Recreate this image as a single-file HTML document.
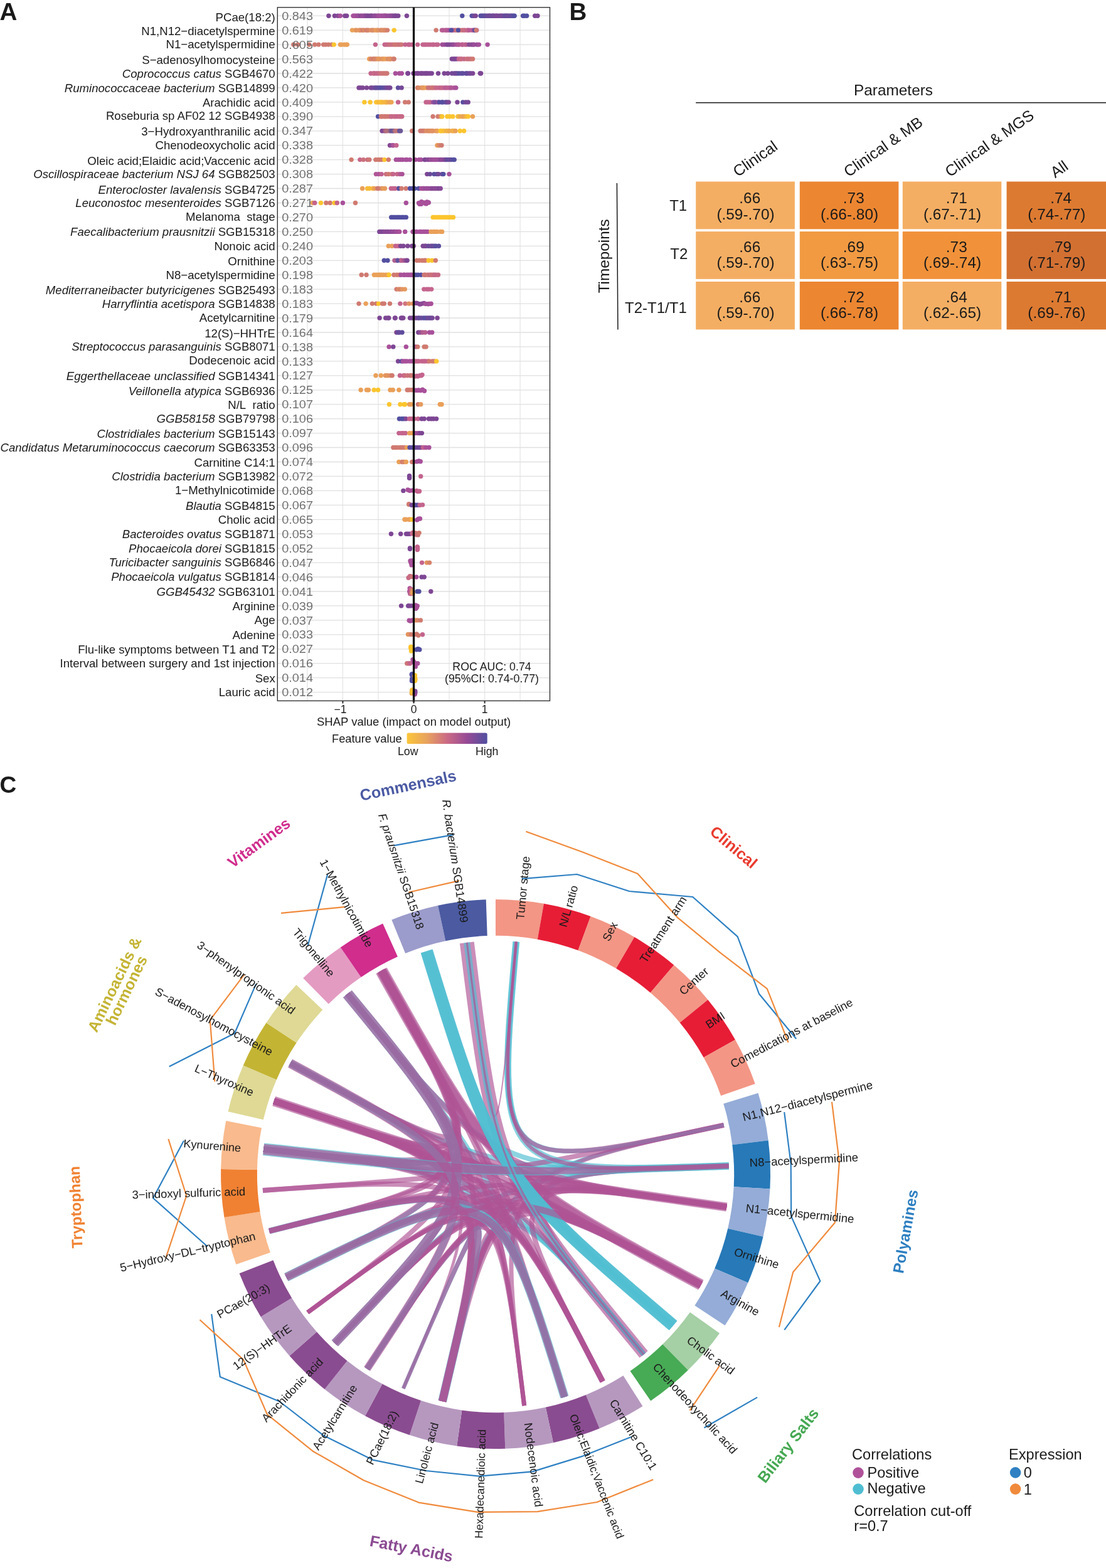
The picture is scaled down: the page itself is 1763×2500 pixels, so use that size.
<!DOCTYPE html>
<html lang="en"><head><meta charset="utf-8"><title>Figure</title>
<style>
html,body{margin:0;padding:0;background:#fff}
body{width:1763px;height:2500px;overflow:hidden}
svg{display:block;font-family:"Liberation Sans",Arial,Helvetica,sans-serif}
</style></head><body>
<svg width="1763" height="2500" viewBox="0 0 1763 2500">
<rect width="1763" height="2500" fill="#fff"/>
<g id="panelA">
<path d="M489.9 11.8V1117.4M546.4 11.8V1117.4M603 11.8V1117.4M716 11.8V1117.4M772.6 11.8V1117.4M829.1 11.8V1117.4" stroke="#e4e4e4" stroke-width="1.2" fill="none"/>
<path d="M442.3 25.2H876.5M442.3 48.1H876.5M442.3 71.1H876.5M442.3 94H876.5M442.3 117H876.5M442.3 139.9H876.5M442.3 162.9H876.5M442.3 185.8H876.5M442.3 208.8H876.5M442.3 231.7H876.5M442.3 254.6H876.5M442.3 277.6H876.5M442.3 300.5H876.5M442.3 323.5H876.5M442.3 346.4H876.5M442.3 369.4H876.5M442.3 392.3H876.5M442.3 415.3H876.5M442.3 438.2H876.5M442.3 461.1H876.5M442.3 484.1H876.5M442.3 507H876.5M442.3 530H876.5M442.3 552.9H876.5M442.3 575.9H876.5M442.3 598.8H876.5M442.3 621.8H876.5M442.3 644.7H876.5M442.3 667.7H876.5M442.3 690.6H876.5M442.3 713.5H876.5M442.3 736.5H876.5M442.3 759.4H876.5M442.3 782.4H876.5M442.3 805.3H876.5M442.3 828.3H876.5M442.3 851.2H876.5M442.3 874.2H876.5M442.3 897.1H876.5M442.3 920H876.5M442.3 943H876.5M442.3 965.9H876.5M442.3 988.9H876.5M442.3 1011.8H876.5M442.3 1034.8H876.5M442.3 1057.7H876.5M442.3 1080.7H876.5M442.3 1103.6H876.5" stroke="#e0e0e0" stroke-width="1.3" fill="none"/>
<circle cx="523.9" cy="25.2" r="3.7" fill="#7d4694"/>
<circle cx="533.4" cy="25.2" r="3.7" fill="#7d4694"/>
<circle cx="538.6" cy="25.2" r="3.7" fill="#874895"/>
<circle cx="542.4" cy="25.2" r="3.7" fill="#a54f9a"/>
<circle cx="549.8" cy="25.2" r="3.7" fill="#7d4694"/>
<circle cx="552.6" cy="25.2" r="3.7" fill="#7d4694"/>
<circle cx="613.7" cy="25.2" r="3.7" fill="#fbc52e"/>
<circle cx="563" cy="25.2" r="3.7" fill="#a8509a"/>
<circle cx="565.1" cy="25.2" r="3.7" fill="#a64f9a"/>
<circle cx="567.3" cy="25.2" r="3.7" fill="#a8509a"/>
<circle cx="570" cy="25.2" r="3.7" fill="#944b97"/>
<circle cx="571.7" cy="25.2" r="3.7" fill="#a04e99"/>
<circle cx="574.6" cy="25.2" r="3.7" fill="#894996"/>
<circle cx="576.7" cy="25.2" r="3.7" fill="#934b97"/>
<circle cx="579.4" cy="25.2" r="3.7" fill="#984c98"/>
<circle cx="581.4" cy="25.2" r="3.7" fill="#8e4a96"/>
<circle cx="582.5" cy="25.2" r="3.7" fill="#8f4a96"/>
<circle cx="584.9" cy="25.2" r="3.7" fill="#814795"/>
<circle cx="586.8" cy="25.2" r="3.7" fill="#7f4694"/>
<circle cx="589.7" cy="25.2" r="3.7" fill="#7e4694"/>
<circle cx="591.7" cy="25.2" r="3.7" fill="#804794"/>
<circle cx="593.1" cy="25.2" r="3.7" fill="#814795"/>
<circle cx="596.2" cy="25.2" r="3.7" fill="#8b4996"/>
<circle cx="597.8" cy="25.2" r="3.7" fill="#934b97"/>
<circle cx="600.1" cy="25.2" r="3.7" fill="#8f4a97"/>
<circle cx="602.8" cy="25.2" r="3.7" fill="#9d4e99"/>
<circle cx="604.1" cy="25.2" r="3.7" fill="#9e4e99"/>
<circle cx="606.7" cy="25.2" r="3.7" fill="#a6509a"/>
<circle cx="609.1" cy="25.2" r="3.7" fill="#9f4e99"/>
<circle cx="611.7" cy="25.2" r="3.7" fill="#9e4e99"/>
<circle cx="613" cy="25.2" r="3.7" fill="#9d4e99"/>
<circle cx="614.7" cy="25.2" r="3.7" fill="#a04e99"/>
<circle cx="616.7" cy="25.2" r="3.7" fill="#984c98"/>
<circle cx="619.9" cy="25.2" r="3.7" fill="#964c98"/>
<circle cx="622.2" cy="25.2" r="3.7" fill="#994d98"/>
<circle cx="624.1" cy="25.2" r="3.7" fill="#8e4a96"/>
<circle cx="626.1" cy="25.2" r="3.7" fill="#8e4a96"/>
<circle cx="628.6" cy="25.2" r="3.7" fill="#7d4694"/>
<circle cx="630.2" cy="25.2" r="3.7" fill="#814794"/>
<circle cx="631.7" cy="25.2" r="3.7" fill="#7d4694"/>
<circle cx="634.8" cy="25.2" r="3.7" fill="#7d4694"/>
<circle cx="648.4" cy="25.2" r="3.7" fill="#7d4694"/>
<circle cx="736.8" cy="25.2" r="3.7" fill="#524fa1"/>
<circle cx="752.2" cy="25.2" r="3.7" fill="#524fa1"/>
<circle cx="755.1" cy="25.2" r="3.7" fill="#6c4a99"/>
<circle cx="758.2" cy="25.2" r="3.7" fill="#7c4694"/>
<circle cx="766.1" cy="25.2" r="3.7" fill="#524fa1"/>
<circle cx="768" cy="25.2" r="3.7" fill="#5c4d9e"/>
<circle cx="770.1" cy="25.2" r="3.7" fill="#524fa1"/>
<circle cx="772.4" cy="25.2" r="3.7" fill="#654b9b"/>
<circle cx="774" cy="25.2" r="3.7" fill="#5d4d9e"/>
<circle cx="776.7" cy="25.2" r="3.7" fill="#6c4a99"/>
<circle cx="779.1" cy="25.2" r="3.7" fill="#6f4998"/>
<circle cx="780.3" cy="25.2" r="3.7" fill="#664b9b"/>
<circle cx="782.4" cy="25.2" r="3.7" fill="#754896"/>
<circle cx="785.3" cy="25.2" r="3.7" fill="#664b9b"/>
<circle cx="786.2" cy="25.2" r="3.7" fill="#6b4a99"/>
<circle cx="788.3" cy="25.2" r="3.7" fill="#754897"/>
<circle cx="790.8" cy="25.2" r="3.7" fill="#724897"/>
<circle cx="792" cy="25.2" r="3.7" fill="#794795"/>
<circle cx="794.5" cy="25.2" r="3.7" fill="#7a4795"/>
<circle cx="797.3" cy="25.2" r="3.7" fill="#734897"/>
<circle cx="798.7" cy="25.2" r="3.7" fill="#724897"/>
<circle cx="800.9" cy="25.2" r="3.7" fill="#7d4694"/>
<circle cx="803.3" cy="25.2" r="3.7" fill="#674b9b"/>
<circle cx="805.2" cy="25.2" r="3.7" fill="#644b9c"/>
<circle cx="806.6" cy="25.2" r="3.7" fill="#6b4a99"/>
<circle cx="808.2" cy="25.2" r="3.7" fill="#624c9c"/>
<circle cx="810.1" cy="25.2" r="3.7" fill="#6d4999"/>
<circle cx="812.3" cy="25.2" r="3.7" fill="#674b9b"/>
<circle cx="814.5" cy="25.2" r="3.7" fill="#674b9b"/>
<circle cx="816.1" cy="25.2" r="3.7" fill="#614c9c"/>
<circle cx="818.2" cy="25.2" r="3.7" fill="#594e9f"/>
<circle cx="820.1" cy="25.2" r="3.7" fill="#524fa1"/>
<circle cx="833.6" cy="25.2" r="3.7" fill="#524fa1"/>
<circle cx="835.9" cy="25.2" r="3.7" fill="#524fa1"/>
<circle cx="839.6" cy="25.2" r="3.7" fill="#524fa1"/>
<circle cx="852.7" cy="25.2" r="3.7" fill="#7d4694"/>
<circle cx="856.9" cy="25.2" r="3.7" fill="#7d4694"/>
<circle cx="561.5" cy="48.1" r="3.7" fill="#eaa058"/>
<circle cx="566.2" cy="48.1" r="3.7" fill="#eaa058"/>
<circle cx="568.3" cy="48.1" r="3.7" fill="#e19360"/>
<circle cx="572.2" cy="48.1" r="3.7" fill="#e3965e"/>
<circle cx="573.8" cy="48.1" r="3.7" fill="#e5995c"/>
<circle cx="575.6" cy="48.1" r="3.7" fill="#de8e63"/>
<circle cx="578.3" cy="48.1" r="3.7" fill="#d27d6e"/>
<circle cx="580.6" cy="48.1" r="3.7" fill="#db8a66"/>
<circle cx="584.4" cy="48.1" r="3.7" fill="#d07b70"/>
<circle cx="585.4" cy="48.1" r="3.7" fill="#d4806c"/>
<circle cx="587.7" cy="48.1" r="3.7" fill="#d88569"/>
<circle cx="591.8" cy="48.1" r="3.7" fill="#e19360"/>
<circle cx="593.7" cy="48.1" r="3.7" fill="#db8a66"/>
<circle cx="595.6" cy="48.1" r="3.7" fill="#dd8e64"/>
<circle cx="598.8" cy="48.1" r="3.7" fill="#e79b5b"/>
<circle cx="601.2" cy="48.1" r="3.7" fill="#e79c5a"/>
<circle cx="602.7" cy="48.1" r="3.7" fill="#e19360"/>
<circle cx="606.5" cy="48.1" r="3.7" fill="#dd8d64"/>
<circle cx="608.6" cy="48.1" r="3.7" fill="#da8867"/>
<circle cx="610.9" cy="48.1" r="3.7" fill="#df9162"/>
<circle cx="613" cy="48.1" r="3.7" fill="#da8867"/>
<circle cx="614.6" cy="48.1" r="3.7" fill="#db8a66"/>
<circle cx="617.5" cy="48.1" r="3.7" fill="#d47f6d"/>
<circle cx="628.2" cy="48.1" r="3.7" fill="#fbc52e"/>
<circle cx="695.1" cy="48.1" r="3.7" fill="#d07a70"/>
<circle cx="704.4" cy="48.1" r="3.7" fill="#bc5f91"/>
<circle cx="706.6" cy="48.1" r="3.7" fill="#b75b93"/>
<circle cx="710.2" cy="48.1" r="3.7" fill="#b25796"/>
<circle cx="711.7" cy="48.1" r="3.7" fill="#b95c92"/>
<circle cx="714.1" cy="48.1" r="3.7" fill="#b45895"/>
<circle cx="716.7" cy="48.1" r="3.7" fill="#a95199"/>
<circle cx="720.7" cy="48.1" r="3.7" fill="#b65f8b"/>
<circle cx="722.5" cy="48.1" r="3.7" fill="#b96288"/>
<circle cx="725.8" cy="48.1" r="3.7" fill="#b35c8e"/>
<circle cx="728.2" cy="48.1" r="3.7" fill="#ce7872"/>
<circle cx="731" cy="48.1" r="3.7" fill="#cf7972"/>
<circle cx="733.1" cy="48.1" r="3.7" fill="#cc7674"/>
<circle cx="736.3" cy="48.1" r="3.7" fill="#ce7675"/>
<circle cx="739" cy="48.1" r="3.7" fill="#c76986"/>
<circle cx="740.9" cy="48.1" r="3.7" fill="#c96d82"/>
<circle cx="744.6" cy="48.1" r="3.7" fill="#c4648d"/>
<circle cx="745.8" cy="48.1" r="3.7" fill="#c66888"/>
<circle cx="748.4" cy="48.1" r="3.7" fill="#b75a93"/>
<circle cx="752.2" cy="48.1" r="3.7" fill="#be6090"/>
<circle cx="754.9" cy="48.1" r="3.7" fill="#ab5299"/>
<circle cx="757.3" cy="48.1" r="3.7" fill="#b05696"/>
<circle cx="759.7" cy="48.1" r="3.7" fill="#ae5497"/>
<circle cx="719.3" cy="48.1" r="3.7" fill="#524fa1"/>
<circle cx="730.4" cy="48.1" r="3.7" fill="#524fa1"/>
<circle cx="756.8" cy="48.1" r="3.7" fill="#524fa1"/>
<circle cx="759.1" cy="48.1" r="3.7" fill="#d07a70"/>
<circle cx="467.8" cy="71.1" r="3.7" fill="#d07a70"/>
<circle cx="474.7" cy="71.1" r="3.7" fill="#d07a70"/>
<circle cx="492.8" cy="71.1" r="3.7" fill="#d07a70"/>
<circle cx="501.7" cy="71.1" r="3.7" fill="#d07a70"/>
<circle cx="507.9" cy="71.1" r="3.7" fill="#d07a70"/>
<circle cx="515.6" cy="71.1" r="3.7" fill="#d07a70"/>
<circle cx="519.2" cy="71.1" r="3.7" fill="#d07a70"/>
<circle cx="523.5" cy="71.1" r="3.7" fill="#d07a70"/>
<circle cx="528.9" cy="71.1" r="3.7" fill="#d07a70"/>
<circle cx="532.3" cy="71.1" r="3.7" fill="#fbc52e"/>
<circle cx="542.4" cy="71.1" r="3.7" fill="#eaa058"/>
<circle cx="544.4" cy="71.1" r="3.7" fill="#eaa058"/>
<circle cx="548.5" cy="71.1" r="3.7" fill="#eaa058"/>
<circle cx="551.5" cy="71.1" r="3.7" fill="#eaa058"/>
<circle cx="553.3" cy="71.1" r="3.7" fill="#eaa058"/>
<circle cx="598.4" cy="71.1" r="3.7" fill="#c4648d"/>
<circle cx="613.2" cy="71.1" r="3.7" fill="#c4648d"/>
<circle cx="616.1" cy="71.1" r="3.7" fill="#c66888"/>
<circle cx="619.1" cy="71.1" r="3.7" fill="#c66888"/>
<circle cx="621.8" cy="71.1" r="3.7" fill="#cb717c"/>
<circle cx="625.1" cy="71.1" r="3.7" fill="#c96d81"/>
<circle cx="628.5" cy="71.1" r="3.7" fill="#ce7676"/>
<circle cx="631.1" cy="71.1" r="3.7" fill="#cf7872"/>
<circle cx="634.2" cy="71.1" r="3.7" fill="#ce7676"/>
<circle cx="637.2" cy="71.1" r="3.7" fill="#cb717c"/>
<circle cx="640" cy="71.1" r="3.7" fill="#ce7676"/>
<circle cx="645.9" cy="71.1" r="3.7" fill="#c4648d"/>
<circle cx="651" cy="71.1" r="3.7" fill="#c4648d"/>
<circle cx="652.8" cy="71.1" r="3.7" fill="#c4648d"/>
<circle cx="656.7" cy="71.1" r="3.7" fill="#c4648d"/>
<circle cx="665.7" cy="71.1" r="3.7" fill="#c4648d"/>
<circle cx="674" cy="71.1" r="3.7" fill="#c4648d"/>
<circle cx="676.7" cy="71.1" r="3.7" fill="#c4648d"/>
<circle cx="679.3" cy="71.1" r="3.7" fill="#c4648d"/>
<circle cx="682.9" cy="71.1" r="3.7" fill="#c4648d"/>
<circle cx="686.1" cy="71.1" r="3.7" fill="#c4648d"/>
<circle cx="689.7" cy="71.1" r="3.7" fill="#c4648d"/>
<circle cx="691.4" cy="71.1" r="3.7" fill="#c4648d"/>
<circle cx="695.5" cy="71.1" r="3.7" fill="#c4648d"/>
<circle cx="697.9" cy="71.1" r="3.7" fill="#c4648d"/>
<circle cx="705" cy="71.1" r="3.7" fill="#a14e99"/>
<circle cx="708.4" cy="71.1" r="3.7" fill="#9b4d98"/>
<circle cx="712" cy="71.1" r="3.7" fill="#874895"/>
<circle cx="714.3" cy="71.1" r="3.7" fill="#834795"/>
<circle cx="717.4" cy="71.1" r="3.7" fill="#804794"/>
<circle cx="720.8" cy="71.1" r="3.7" fill="#894996"/>
<circle cx="723.5" cy="71.1" r="3.7" fill="#954c97"/>
<circle cx="727.3" cy="71.1" r="3.7" fill="#a6509a"/>
<circle cx="730.2" cy="71.1" r="3.7" fill="#b25795"/>
<circle cx="731.9" cy="71.1" r="3.7" fill="#b35895"/>
<circle cx="736.3" cy="71.1" r="3.7" fill="#bf618f"/>
<circle cx="737.6" cy="71.1" r="3.7" fill="#bb5d91"/>
<circle cx="741.3" cy="71.1" r="3.7" fill="#c1628e"/>
<circle cx="743.9" cy="71.1" r="3.7" fill="#b85f8e"/>
<circle cx="747.8" cy="71.1" r="3.7" fill="#874a93"/>
<circle cx="751.2" cy="71.1" r="3.7" fill="#8f4e92"/>
<circle cx="753.9" cy="71.1" r="3.7" fill="#8a4996"/>
<circle cx="755.7" cy="71.1" r="3.7" fill="#9b4d98"/>
<circle cx="760.4" cy="71.1" r="3.7" fill="#954c97"/>
<circle cx="763.4" cy="71.1" r="3.7" fill="#a54f9a"/>
<circle cx="777.1" cy="71.1" r="3.7" fill="#a8509a"/>
<circle cx="588.7" cy="94" r="3.7" fill="#eaa058"/>
<circle cx="591.4" cy="94" r="3.7" fill="#d88569"/>
<circle cx="595" cy="94" r="3.7" fill="#d07a70"/>
<circle cx="597.1" cy="94" r="3.7" fill="#d88668"/>
<circle cx="599.8" cy="94" r="3.7" fill="#d78569"/>
<circle cx="602.7" cy="94" r="3.7" fill="#e3965e"/>
<circle cx="604.9" cy="94" r="3.7" fill="#e5985d"/>
<circle cx="608.7" cy="94" r="3.7" fill="#e09261"/>
<circle cx="611.3" cy="94" r="3.7" fill="#e69a5c"/>
<circle cx="614.6" cy="94" r="3.7" fill="#e99f59"/>
<circle cx="618.4" cy="94" r="3.7" fill="#dc8b65"/>
<circle cx="621.3" cy="94" r="3.7" fill="#e2955f"/>
<circle cx="622.7" cy="94" r="3.7" fill="#df9062"/>
<circle cx="626.7" cy="94" r="3.7" fill="#d88569"/>
<circle cx="628.2" cy="94" r="3.7" fill="#d17c6f"/>
<circle cx="720.3" cy="94" r="3.7" fill="#7d4694"/>
<circle cx="723.3" cy="94" r="3.7" fill="#7d4694"/>
<circle cx="725.3" cy="94" r="3.7" fill="#7d4694"/>
<circle cx="728.3" cy="94" r="3.7" fill="#7d4694"/>
<circle cx="731.4" cy="94" r="3.7" fill="#c5658c"/>
<circle cx="734.1" cy="94" r="3.7" fill="#c4648d"/>
<circle cx="735.8" cy="94" r="3.7" fill="#c96d81"/>
<circle cx="739.8" cy="94" r="3.7" fill="#c66888"/>
<circle cx="744.1" cy="94" r="3.7" fill="#cc727a"/>
<circle cx="747" cy="94" r="3.7" fill="#ca6e80"/>
<circle cx="750.3" cy="94" r="3.7" fill="#cb717c"/>
<circle cx="753.5" cy="94" r="3.7" fill="#d07971"/>
<circle cx="591.1" cy="117" r="3.7" fill="#c4658c"/>
<circle cx="595.3" cy="117" r="3.7" fill="#c4648d"/>
<circle cx="596.6" cy="117" r="3.7" fill="#c76986"/>
<circle cx="599.7" cy="117" r="3.7" fill="#c5668a"/>
<circle cx="602.5" cy="117" r="3.7" fill="#c66888"/>
<circle cx="605.5" cy="117" r="3.7" fill="#c96e80"/>
<circle cx="608.7" cy="117" r="3.7" fill="#ce7675"/>
<circle cx="611.6" cy="117" r="3.7" fill="#cd7576"/>
<circle cx="614.3" cy="117" r="3.7" fill="#ce7676"/>
<circle cx="616.9" cy="117" r="3.7" fill="#ce7774"/>
<circle cx="630.4" cy="117" r="3.7" fill="#a8509a"/>
<circle cx="636.6" cy="117" r="3.7" fill="#a8509a"/>
<circle cx="640.3" cy="117" r="3.7" fill="#a8509a"/>
<circle cx="649.8" cy="117" r="3.7" fill="#7d4694"/>
<circle cx="650.4" cy="117" r="3.7" fill="#7d4694"/>
<circle cx="659" cy="117" r="3.7" fill="#7d4694"/>
<circle cx="662" cy="117" r="3.7" fill="#7d4694"/>
<circle cx="665.4" cy="117" r="3.7" fill="#7d4694"/>
<circle cx="666.5" cy="117" r="3.7" fill="#7d4694"/>
<circle cx="670.2" cy="117" r="3.7" fill="#7d4694"/>
<circle cx="672.1" cy="117" r="3.7" fill="#7d4694"/>
<circle cx="674.7" cy="117" r="3.7" fill="#7d4694"/>
<circle cx="677.8" cy="117" r="3.7" fill="#7d4694"/>
<circle cx="679.6" cy="117" r="3.7" fill="#7d4694"/>
<circle cx="682.3" cy="117" r="3.7" fill="#7d4694"/>
<circle cx="685.2" cy="117" r="3.7" fill="#7d4694"/>
<circle cx="688.2" cy="117" r="3.7" fill="#7d4694"/>
<circle cx="698.5" cy="117" r="3.7" fill="#7d4694"/>
<circle cx="708.2" cy="117" r="3.7" fill="#7d4694"/>
<circle cx="713.8" cy="117" r="3.7" fill="#7d4694"/>
<circle cx="720.4" cy="117" r="3.7" fill="#744897"/>
<circle cx="724.2" cy="117" r="3.7" fill="#724897"/>
<circle cx="726.6" cy="117" r="3.7" fill="#714898"/>
<circle cx="728.9" cy="117" r="3.7" fill="#6f4998"/>
<circle cx="731.9" cy="117" r="3.7" fill="#584e9f"/>
<circle cx="735.4" cy="117" r="3.7" fill="#5f4c9d"/>
<circle cx="738" cy="117" r="3.7" fill="#5f4c9d"/>
<circle cx="742.7" cy="117" r="3.7" fill="#624c9c"/>
<circle cx="744.5" cy="117" r="3.7" fill="#5f4c9d"/>
<circle cx="747.6" cy="117" r="3.7" fill="#6c4999"/>
<circle cx="750.3" cy="117" r="3.7" fill="#744897"/>
<circle cx="753.6" cy="117" r="3.7" fill="#7d4694"/>
<circle cx="765.2" cy="117" r="3.7" fill="#7d4694"/>
<circle cx="766.6" cy="117" r="3.7" fill="#7d4694"/>
<circle cx="572" cy="139.9" r="3.7" fill="#7d4694"/>
<circle cx="574.9" cy="139.9" r="3.7" fill="#7d4694"/>
<circle cx="578.2" cy="139.9" r="3.7" fill="#7d4694"/>
<circle cx="584.5" cy="139.9" r="3.7" fill="#7d4694"/>
<circle cx="591.1" cy="139.9" r="3.7" fill="#7d4694"/>
<circle cx="593.3" cy="139.9" r="3.7" fill="#784795"/>
<circle cx="597" cy="139.9" r="3.7" fill="#6d4999"/>
<circle cx="599.2" cy="139.9" r="3.7" fill="#654b9b"/>
<circle cx="601.6" cy="139.9" r="3.7" fill="#644b9c"/>
<circle cx="604.6" cy="139.9" r="3.7" fill="#594e9f"/>
<circle cx="607.3" cy="139.9" r="3.7" fill="#5a4d9e"/>
<circle cx="610.5" cy="139.9" r="3.7" fill="#574ea0"/>
<circle cx="613.9" cy="139.9" r="3.7" fill="#664b9b"/>
<circle cx="617" cy="139.9" r="3.7" fill="#714897"/>
<circle cx="619.7" cy="139.9" r="3.7" fill="#7d4694"/>
<circle cx="621.8" cy="139.9" r="3.7" fill="#794795"/>
<circle cx="634.6" cy="139.9" r="3.7" fill="#5f4c9d"/>
<circle cx="640.1" cy="139.9" r="3.7" fill="#744897"/>
<circle cx="665.6" cy="139.9" r="3.7" fill="#d27d6e"/>
<circle cx="667" cy="139.9" r="3.7" fill="#da8966"/>
<circle cx="671.4" cy="139.9" r="3.7" fill="#dc8c65"/>
<circle cx="673.9" cy="139.9" r="3.7" fill="#e4985d"/>
<circle cx="675.5" cy="139.9" r="3.7" fill="#e5995c"/>
<circle cx="679" cy="139.9" r="3.7" fill="#eaa058"/>
<circle cx="682.4" cy="139.9" r="3.7" fill="#ce7676"/>
<circle cx="684.9" cy="139.9" r="3.7" fill="#cc727b"/>
<circle cx="688.1" cy="139.9" r="3.7" fill="#cb727b"/>
<circle cx="690.1" cy="139.9" r="3.7" fill="#cf7773"/>
<circle cx="692.9" cy="139.9" r="3.7" fill="#cb707d"/>
<circle cx="695.8" cy="139.9" r="3.7" fill="#c66789"/>
<circle cx="699.7" cy="139.9" r="3.7" fill="#c56789"/>
<circle cx="702.8" cy="139.9" r="3.7" fill="#c3638e"/>
<circle cx="705.5" cy="139.9" r="3.7" fill="#c76986"/>
<circle cx="709.1" cy="139.9" r="3.7" fill="#ba5d92"/>
<circle cx="711.5" cy="139.9" r="3.7" fill="#ba5d92"/>
<circle cx="714.7" cy="139.9" r="3.7" fill="#be6090"/>
<circle cx="717.9" cy="139.9" r="3.7" fill="#b75b93"/>
<circle cx="719.5" cy="139.9" r="3.7" fill="#b35895"/>
<circle cx="723.8" cy="139.9" r="3.7" fill="#b15696"/>
<circle cx="726.8" cy="139.9" r="3.7" fill="#a8509a"/>
<circle cx="580.9" cy="162.9" r="3.7" fill="#fbc52e"/>
<circle cx="590.1" cy="162.9" r="3.7" fill="#fbc52e"/>
<circle cx="599.8" cy="162.9" r="3.7" fill="#fbc52e"/>
<circle cx="602.4" cy="162.9" r="3.7" fill="#f7bd37"/>
<circle cx="605.6" cy="162.9" r="3.7" fill="#f6ba3a"/>
<circle cx="607.9" cy="162.9" r="3.7" fill="#fac231"/>
<circle cx="609.7" cy="162.9" r="3.7" fill="#f6ba3a"/>
<circle cx="613.4" cy="162.9" r="3.7" fill="#f4b540"/>
<circle cx="615.7" cy="162.9" r="3.7" fill="#f5b73e"/>
<circle cx="617.4" cy="162.9" r="3.7" fill="#f0ad49"/>
<circle cx="621.1" cy="162.9" r="3.7" fill="#eaa058"/>
<circle cx="623.8" cy="162.9" r="3.7" fill="#eca553"/>
<circle cx="634.6" cy="162.9" r="3.7" fill="#c4648d"/>
<circle cx="645.7" cy="162.9" r="3.7" fill="#d07a70"/>
<circle cx="651.2" cy="162.9" r="3.7" fill="#d07a70"/>
<circle cx="679.1" cy="162.9" r="3.7" fill="#c4648d"/>
<circle cx="682.4" cy="162.9" r="3.7" fill="#c4648d"/>
<circle cx="685.9" cy="162.9" r="3.7" fill="#c4648d"/>
<circle cx="690.7" cy="162.9" r="3.7" fill="#94509c"/>
<circle cx="693.9" cy="162.9" r="3.7" fill="#7a4f9e"/>
<circle cx="698.3" cy="162.9" r="3.7" fill="#96509b"/>
<circle cx="700.3" cy="162.9" r="3.7" fill="#574fa1"/>
<circle cx="704.3" cy="162.9" r="3.7" fill="#554fa1"/>
<circle cx="705.8" cy="162.9" r="3.7" fill="#554ea0"/>
<circle cx="710.2" cy="162.9" r="3.7" fill="#604c9d"/>
<circle cx="712.4" cy="162.9" r="3.7" fill="#694a9a"/>
<circle cx="715.2" cy="162.9" r="3.7" fill="#7d4694"/>
<circle cx="729" cy="162.9" r="3.7" fill="#7d4694"/>
<circle cx="737.9" cy="162.9" r="3.7" fill="#5a4d9f"/>
<circle cx="742.3" cy="162.9" r="3.7" fill="#714897"/>
<circle cx="746.2" cy="162.9" r="3.7" fill="#764796"/>
<circle cx="602.6" cy="185.8" r="3.7" fill="#524fa1"/>
<circle cx="607.5" cy="185.8" r="3.7" fill="#d07a70"/>
<circle cx="608.5" cy="185.8" r="3.7" fill="#d07a70"/>
<circle cx="612.1" cy="185.8" r="3.7" fill="#cf7774"/>
<circle cx="614.4" cy="185.8" r="3.7" fill="#d07a70"/>
<circle cx="617.2" cy="185.8" r="3.7" fill="#ce7676"/>
<circle cx="620.8" cy="185.8" r="3.7" fill="#cf7872"/>
<circle cx="623.3" cy="185.8" r="3.7" fill="#c86b83"/>
<circle cx="624.8" cy="185.8" r="3.7" fill="#c66987"/>
<circle cx="628.5" cy="185.8" r="3.7" fill="#c66789"/>
<circle cx="630.4" cy="185.8" r="3.7" fill="#c96c82"/>
<circle cx="633.3" cy="185.8" r="3.7" fill="#c4648d"/>
<circle cx="636.3" cy="185.8" r="3.7" fill="#c76986"/>
<circle cx="638.7" cy="185.8" r="3.7" fill="#c76987"/>
<circle cx="640.7" cy="185.8" r="3.7" fill="#c76986"/>
<circle cx="690.1" cy="185.8" r="3.7" fill="#d07a70"/>
<circle cx="698.1" cy="185.8" r="3.7" fill="#d07a70"/>
<circle cx="702.5" cy="185.8" r="3.7" fill="#df9459"/>
<circle cx="704.7" cy="185.8" r="3.7" fill="#fbc52e"/>
<circle cx="713" cy="185.8" r="3.7" fill="#fbc52e"/>
<circle cx="716.9" cy="185.8" r="3.7" fill="#fbc52e"/>
<circle cx="721.8" cy="185.8" r="3.7" fill="#fbc52e"/>
<circle cx="729.9" cy="185.8" r="3.7" fill="#f8be36"/>
<circle cx="732.7" cy="185.8" r="3.7" fill="#f0ad49"/>
<circle cx="736.7" cy="185.8" r="3.7" fill="#eda651"/>
<circle cx="739.6" cy="185.8" r="3.7" fill="#eba355"/>
<circle cx="742.9" cy="185.8" r="3.7" fill="#f4b540"/>
<circle cx="746.3" cy="185.8" r="3.7" fill="#fbc52e"/>
<circle cx="753.5" cy="185.8" r="3.7" fill="#eaa058"/>
<circle cx="609.1" cy="208.8" r="3.7" fill="#7d4694"/>
<circle cx="613" cy="208.8" r="3.7" fill="#894d8f"/>
<circle cx="614.8" cy="208.8" r="3.7" fill="#b2677d"/>
<circle cx="617.1" cy="208.8" r="3.7" fill="#b2707b"/>
<circle cx="621" cy="208.8" r="3.7" fill="#a96d7f"/>
<circle cx="623.1" cy="208.8" r="3.7" fill="#785c92"/>
<circle cx="625.6" cy="208.8" r="3.7" fill="#61549b"/>
<circle cx="627.5" cy="208.8" r="3.7" fill="#7d5e90"/>
<circle cx="630.2" cy="208.8" r="3.7" fill="#bd7377"/>
<circle cx="633.4" cy="208.8" r="3.7" fill="#c37575"/>
<circle cx="636.8" cy="208.8" r="3.7" fill="#5a529e"/>
<circle cx="638.6" cy="208.8" r="3.7" fill="#6d5896"/>
<circle cx="656.8" cy="208.8" r="3.7" fill="#d07a70"/>
<circle cx="670.1" cy="208.8" r="3.7" fill="#d07a70"/>
<circle cx="673.3" cy="208.8" r="3.7" fill="#d07a70"/>
<circle cx="676" cy="208.8" r="3.7" fill="#d27d6e"/>
<circle cx="679.6" cy="208.8" r="3.7" fill="#df8f62"/>
<circle cx="682.9" cy="208.8" r="3.7" fill="#da8967"/>
<circle cx="685.2" cy="208.8" r="3.7" fill="#df9062"/>
<circle cx="688" cy="208.8" r="3.7" fill="#df9062"/>
<circle cx="690.3" cy="208.8" r="3.7" fill="#e19261"/>
<circle cx="695.1" cy="208.8" r="3.7" fill="#e19360"/>
<circle cx="697.1" cy="208.8" r="3.7" fill="#eaa058"/>
<circle cx="702.1" cy="208.8" r="3.7" fill="#fbc52e"/>
<circle cx="703.9" cy="208.8" r="3.7" fill="#fbc52e"/>
<circle cx="707.3" cy="208.8" r="3.7" fill="#f7bd37"/>
<circle cx="711.6" cy="208.8" r="3.7" fill="#f1af47"/>
<circle cx="714.6" cy="208.8" r="3.7" fill="#f7bd37"/>
<circle cx="715.9" cy="208.8" r="3.7" fill="#eea94e"/>
<circle cx="720.9" cy="208.8" r="3.7" fill="#efaa4d"/>
<circle cx="723.3" cy="208.8" r="3.7" fill="#f1b046"/>
<circle cx="726" cy="208.8" r="3.7" fill="#eaa058"/>
<circle cx="733.2" cy="208.8" r="3.7" fill="#fbc52e"/>
<circle cx="739.6" cy="208.8" r="3.7" fill="#fbc52e"/>
<circle cx="621.5" cy="231.7" r="3.7" fill="#864895"/>
<circle cx="625.6" cy="231.7" r="3.7" fill="#934b97"/>
<circle cx="627.1" cy="231.7" r="3.7" fill="#ac5398"/>
<circle cx="631.8" cy="231.7" r="3.7" fill="#c4648d"/>
<circle cx="697" cy="231.7" r="3.7" fill="#e79b5b"/>
<circle cx="700.3" cy="231.7" r="3.7" fill="#d98768"/>
<circle cx="703.9" cy="231.7" r="3.7" fill="#d07a70"/>
<circle cx="560.1" cy="254.6" r="3.7" fill="#d07a70"/>
<circle cx="573.8" cy="254.6" r="3.7" fill="#c66888"/>
<circle cx="579.3" cy="254.6" r="3.7" fill="#cb717c"/>
<circle cx="585.7" cy="254.6" r="3.7" fill="#cb707d"/>
<circle cx="588.8" cy="254.6" r="3.7" fill="#ce7774"/>
<circle cx="598.8" cy="254.6" r="3.7" fill="#d07a70"/>
<circle cx="602.6" cy="254.6" r="3.7" fill="#d07a70"/>
<circle cx="604.8" cy="254.6" r="3.7" fill="#d07a70"/>
<circle cx="608.4" cy="254.6" r="3.7" fill="#d07a70"/>
<circle cx="612.9" cy="254.6" r="3.7" fill="#fbc52e"/>
<circle cx="619.3" cy="254.6" r="3.7" fill="#d07a70"/>
<circle cx="631.3" cy="254.6" r="3.7" fill="#a8509a"/>
<circle cx="635.2" cy="254.6" r="3.7" fill="#a8509a"/>
<circle cx="638.5" cy="254.6" r="3.7" fill="#a8509a"/>
<circle cx="641.9" cy="254.6" r="3.7" fill="#a8509a"/>
<circle cx="646.7" cy="254.6" r="3.7" fill="#a8509a"/>
<circle cx="648.9" cy="254.6" r="3.7" fill="#a8509a"/>
<circle cx="653.5" cy="254.6" r="3.7" fill="#a8509a"/>
<circle cx="662.2" cy="254.6" r="3.7" fill="#a8509a"/>
<circle cx="667.9" cy="254.6" r="3.7" fill="#a8509a"/>
<circle cx="671.1" cy="254.6" r="3.7" fill="#a8509a"/>
<circle cx="676.9" cy="254.6" r="3.7" fill="#7d4694"/>
<circle cx="678.3" cy="254.6" r="3.7" fill="#7d4694"/>
<circle cx="682.2" cy="254.6" r="3.7" fill="#904a97"/>
<circle cx="683.6" cy="254.6" r="3.7" fill="#854895"/>
<circle cx="686.5" cy="254.6" r="3.7" fill="#9d4d98"/>
<circle cx="688.9" cy="254.6" r="3.7" fill="#994c98"/>
<circle cx="691.9" cy="254.6" r="3.7" fill="#9f4e99"/>
<circle cx="693.7" cy="254.6" r="3.7" fill="#a14e99"/>
<circle cx="696.4" cy="254.6" r="3.7" fill="#9f4e99"/>
<circle cx="699.6" cy="254.6" r="3.7" fill="#9e4e99"/>
<circle cx="702.4" cy="254.6" r="3.7" fill="#894996"/>
<circle cx="704.4" cy="254.6" r="3.7" fill="#904a97"/>
<circle cx="707.8" cy="254.6" r="3.7" fill="#864895"/>
<circle cx="710.1" cy="254.6" r="3.7" fill="#824795"/>
<circle cx="711.6" cy="254.6" r="3.7" fill="#6d4999"/>
<circle cx="714.3" cy="254.6" r="3.7" fill="#614c9c"/>
<circle cx="717.2" cy="254.6" r="3.7" fill="#6e4998"/>
<circle cx="719.3" cy="254.6" r="3.7" fill="#624c9c"/>
<circle cx="722.6" cy="254.6" r="3.7" fill="#524fa1"/>
<circle cx="724.2" cy="254.6" r="3.7" fill="#554ea0"/>
<circle cx="599.4" cy="277.6" r="3.7" fill="#b05696"/>
<circle cx="603.8" cy="277.6" r="3.7" fill="#ad5498"/>
<circle cx="608.1" cy="277.6" r="3.7" fill="#bf608f"/>
<circle cx="615.4" cy="277.6" r="3.7" fill="#cb707d"/>
<circle cx="619.4" cy="277.6" r="3.7" fill="#cf7872"/>
<circle cx="624.6" cy="277.6" r="3.7" fill="#cf7773"/>
<circle cx="626.8" cy="277.6" r="3.7" fill="#c5668b"/>
<circle cx="633.1" cy="277.6" r="3.7" fill="#c66888"/>
<circle cx="637.5" cy="277.6" r="3.7" fill="#b65a93"/>
<circle cx="641.1" cy="277.6" r="3.7" fill="#ab5299"/>
<circle cx="680.8" cy="277.6" r="3.7" fill="#7d4694"/>
<circle cx="685.5" cy="277.6" r="3.7" fill="#6b4a99"/>
<circle cx="692" cy="277.6" r="3.7" fill="#5c4d9e"/>
<circle cx="696.4" cy="277.6" r="3.7" fill="#604c9d"/>
<circle cx="699" cy="277.6" r="3.7" fill="#754897"/>
<circle cx="704.8" cy="277.6" r="3.7" fill="#694a9a"/>
<circle cx="706.8" cy="277.6" r="3.7" fill="#534fa1"/>
<circle cx="716" cy="277.6" r="3.7" fill="#a8509a"/>
<circle cx="577.6" cy="300.5" r="3.7" fill="#eaa058"/>
<circle cx="585.6" cy="300.5" r="3.7" fill="#f7bc39"/>
<circle cx="588.8" cy="300.5" r="3.7" fill="#f7bc39"/>
<circle cx="594.4" cy="300.5" r="3.7" fill="#f4b73e"/>
<circle cx="596.8" cy="300.5" r="3.7" fill="#eaa058"/>
<circle cx="601.8" cy="300.5" r="3.7" fill="#d07a70"/>
<circle cx="603.3" cy="300.5" r="3.7" fill="#d07a70"/>
<circle cx="608.4" cy="300.5" r="3.7" fill="#d98767"/>
<circle cx="611.1" cy="300.5" r="3.7" fill="#eaa058"/>
<circle cx="613.4" cy="300.5" r="3.7" fill="#e69b5b"/>
<circle cx="623.4" cy="300.5" r="3.7" fill="#c4648d"/>
<circle cx="626.6" cy="300.5" r="3.7" fill="#c4648d"/>
<circle cx="629.7" cy="300.5" r="3.7" fill="#c4648d"/>
<circle cx="635.2" cy="300.5" r="3.7" fill="#c4648d"/>
<circle cx="635.9" cy="300.5" r="3.7" fill="#524fa1"/>
<circle cx="640.1" cy="300.5" r="3.7" fill="#d07a70"/>
<circle cx="647.1" cy="300.5" r="3.7" fill="#d07a70"/>
<circle cx="653.5" cy="300.5" r="3.7" fill="#524fa1"/>
<circle cx="657.5" cy="300.5" r="3.7" fill="#524fa1"/>
<circle cx="660.9" cy="300.5" r="3.7" fill="#524fa1"/>
<circle cx="667.3" cy="300.5" r="3.7" fill="#524fa1"/>
<circle cx="671.4" cy="300.5" r="3.7" fill="#a54f9a"/>
<circle cx="673.9" cy="300.5" r="3.7" fill="#a8509a"/>
<circle cx="675.1" cy="300.5" r="3.7" fill="#a24f99"/>
<circle cx="678.8" cy="300.5" r="3.7" fill="#924b97"/>
<circle cx="680.3" cy="300.5" r="3.7" fill="#a14e99"/>
<circle cx="682.9" cy="300.5" r="3.7" fill="#984c98"/>
<circle cx="686.2" cy="300.5" r="3.7" fill="#9c4d98"/>
<circle cx="688.4" cy="300.5" r="3.7" fill="#8b4996"/>
<circle cx="690.9" cy="300.5" r="3.7" fill="#864895"/>
<circle cx="693" cy="300.5" r="3.7" fill="#8f4a96"/>
<circle cx="695" cy="300.5" r="3.7" fill="#8a4996"/>
<circle cx="698.2" cy="300.5" r="3.7" fill="#8e4a96"/>
<circle cx="699.7" cy="300.5" r="3.7" fill="#7d4694"/>
<circle cx="702.2" cy="300.5" r="3.7" fill="#884996"/>
<circle cx="498.4" cy="323.5" r="3.7" fill="#eaa058"/>
<circle cx="501.7" cy="323.5" r="3.7" fill="#c4648d"/>
<circle cx="511.4" cy="323.5" r="3.7" fill="#fbc52e"/>
<circle cx="519.8" cy="323.5" r="3.7" fill="#d07a70"/>
<circle cx="526.2" cy="323.5" r="3.7" fill="#d07a70"/>
<circle cx="533.1" cy="323.5" r="3.7" fill="#fbc52e"/>
<circle cx="537.3" cy="323.5" r="3.7" fill="#c4648d"/>
<circle cx="546.4" cy="323.5" r="3.7" fill="#a8509a"/>
<circle cx="566.5" cy="323.5" r="3.7" fill="#d07a70"/>
<circle cx="647.3" cy="323.5" r="3.7" fill="#a8509a"/>
<circle cx="667.5" cy="323.7" r="3.7" fill="#a8509a"/>
<circle cx="669.1" cy="325.4" r="3.7" fill="#a8509a"/>
<circle cx="671.1" cy="325.4" r="3.7" fill="#a8509a"/>
<circle cx="671.8" cy="321.8" r="3.7" fill="#a8509a"/>
<circle cx="673.1" cy="323.5" r="3.7" fill="#a8509a"/>
<circle cx="675.1" cy="323.3" r="3.7" fill="#a8509a"/>
<circle cx="676" cy="323.1" r="3.7" fill="#a8509a"/>
<circle cx="677.7" cy="324.2" r="3.7" fill="#a8509a"/>
<circle cx="679.3" cy="324.9" r="3.7" fill="#a8509a"/>
<circle cx="680.6" cy="322" r="3.7" fill="#a8509a"/>
<circle cx="682.1" cy="322.7" r="3.7" fill="#a8509a"/>
<circle cx="683.3" cy="323" r="3.7" fill="#a8509a"/>
<circle cx="623.7" cy="346.4" r="3.7" fill="#524fa1"/>
<circle cx="624.9" cy="346.4" r="3.7" fill="#524fa1"/>
<circle cx="626.7" cy="346.4" r="3.7" fill="#524fa1"/>
<circle cx="628.6" cy="346.4" r="3.7" fill="#524fa1"/>
<circle cx="630.3" cy="346.4" r="3.7" fill="#524fa1"/>
<circle cx="633" cy="346.4" r="3.7" fill="#524fa1"/>
<circle cx="634.4" cy="346.4" r="3.7" fill="#524fa1"/>
<circle cx="635.9" cy="346.4" r="3.7" fill="#524fa1"/>
<circle cx="637.8" cy="346.4" r="3.7" fill="#524fa1"/>
<circle cx="640.4" cy="346.4" r="3.7" fill="#524fa1"/>
<circle cx="641.6" cy="346.4" r="3.7" fill="#524fa1"/>
<circle cx="643.1" cy="346.4" r="3.7" fill="#524fa1"/>
<circle cx="645.6" cy="346.4" r="3.7" fill="#524fa1"/>
<circle cx="647.3" cy="346.4" r="3.7" fill="#524fa1"/>
<circle cx="690.2" cy="346.4" r="3.7" fill="#fbc52e"/>
<circle cx="691" cy="346.4" r="3.7" fill="#fbc52e"/>
<circle cx="693.4" cy="346.4" r="3.7" fill="#fbc52e"/>
<circle cx="695.7" cy="346.4" r="3.7" fill="#fbc52e"/>
<circle cx="697.7" cy="346.4" r="3.7" fill="#fbc52e"/>
<circle cx="699.7" cy="346.4" r="3.7" fill="#fbc52e"/>
<circle cx="700.4" cy="346.4" r="3.7" fill="#fbc52e"/>
<circle cx="702.7" cy="346.4" r="3.7" fill="#fbc52e"/>
<circle cx="704.4" cy="346.4" r="3.7" fill="#fbc52e"/>
<circle cx="706.4" cy="346.4" r="3.7" fill="#fbc52e"/>
<circle cx="709.3" cy="346.4" r="3.7" fill="#fbc52e"/>
<circle cx="710.7" cy="346.4" r="3.7" fill="#fbc52e"/>
<circle cx="713.1" cy="346.4" r="3.7" fill="#fbc52e"/>
<circle cx="714.3" cy="346.4" r="3.7" fill="#fbc52e"/>
<circle cx="716.9" cy="346.4" r="3.7" fill="#fbc52e"/>
<circle cx="718.2" cy="346.4" r="3.7" fill="#fbc52e"/>
<circle cx="719.9" cy="346.4" r="3.7" fill="#fbc52e"/>
<circle cx="722.5" cy="346.4" r="3.7" fill="#fbc52e"/>
<circle cx="604.8" cy="369.4" r="3.7" fill="#7d4694"/>
<circle cx="606.7" cy="369.4" r="3.7" fill="#834795"/>
<circle cx="608.6" cy="369.4" r="3.7" fill="#804794"/>
<circle cx="611" cy="369.4" r="3.7" fill="#7f4794"/>
<circle cx="613.8" cy="369.4" r="3.7" fill="#8d4a96"/>
<circle cx="617.1" cy="369.4" r="3.7" fill="#864895"/>
<circle cx="618.5" cy="369.4" r="3.7" fill="#8c4a96"/>
<circle cx="622.3" cy="369.4" r="3.7" fill="#8c4996"/>
<circle cx="624.2" cy="369.4" r="3.7" fill="#904a97"/>
<circle cx="627.6" cy="369.4" r="3.7" fill="#9c4d98"/>
<circle cx="628.9" cy="369.4" r="3.7" fill="#944b97"/>
<circle cx="632" cy="369.4" r="3.7" fill="#a34f99"/>
<circle cx="635" cy="369.4" r="3.7" fill="#9a4d98"/>
<circle cx="636.7" cy="369.4" r="3.7" fill="#a8509a"/>
<circle cx="645.7" cy="369.4" r="3.7" fill="#a8509a"/>
<circle cx="658" cy="369.4" r="3.7" fill="#a8509a"/>
<circle cx="661" cy="369.4" r="3.7" fill="#a8509a"/>
<circle cx="664.5" cy="369.4" r="3.7" fill="#a8509a"/>
<circle cx="669.4" cy="369.4" r="3.7" fill="#a8509a"/>
<circle cx="671.2" cy="369.4" r="3.7" fill="#a8509a"/>
<circle cx="675.2" cy="369.4" r="3.7" fill="#a8509a"/>
<circle cx="678.1" cy="369.4" r="3.7" fill="#a8509a"/>
<circle cx="681.6" cy="369.4" r="3.7" fill="#a8509a"/>
<circle cx="687" cy="369.4" r="3.7" fill="#eaa058"/>
<circle cx="691.2" cy="369.4" r="3.7" fill="#eaa058"/>
<circle cx="693.4" cy="369.4" r="3.7" fill="#eaa058"/>
<circle cx="696.8" cy="369.4" r="3.7" fill="#eaa058"/>
<circle cx="702.2" cy="369.4" r="3.7" fill="#eaa058"/>
<circle cx="704.6" cy="369.4" r="3.7" fill="#eaa058"/>
<circle cx="619.3" cy="392.3" r="3.7" fill="#eaa058"/>
<circle cx="624.8" cy="392.3" r="3.7" fill="#eaa058"/>
<circle cx="630.4" cy="392.3" r="3.7" fill="#c4648d"/>
<circle cx="634.6" cy="392.3" r="3.7" fill="#c4648d"/>
<circle cx="638.7" cy="392.3" r="3.7" fill="#7d4694"/>
<circle cx="642.9" cy="392.3" r="3.7" fill="#7d4694"/>
<circle cx="649.8" cy="392.3" r="3.7" fill="#7d4694"/>
<circle cx="656.6" cy="392.3" r="3.7" fill="#7d4694"/>
<circle cx="659.3" cy="392.3" r="3.7" fill="#7d4694"/>
<circle cx="674.2" cy="392.3" r="3.7" fill="#7d4694"/>
<circle cx="677.4" cy="392.3" r="3.7" fill="#794795"/>
<circle cx="679" cy="392.3" r="3.7" fill="#7d4694"/>
<circle cx="683" cy="392.3" r="3.7" fill="#694a9a"/>
<circle cx="686.9" cy="392.3" r="3.7" fill="#724897"/>
<circle cx="689.4" cy="392.3" r="3.7" fill="#654b9b"/>
<circle cx="692.2" cy="392.3" r="3.7" fill="#664b9b"/>
<circle cx="694.9" cy="392.3" r="3.7" fill="#574ea0"/>
<circle cx="699.4" cy="392.3" r="3.7" fill="#5c4d9e"/>
<circle cx="612.3" cy="415.3" r="3.7" fill="#524fa1"/>
<circle cx="617.9" cy="415.3" r="3.7" fill="#524fa1"/>
<circle cx="629" cy="415.3" r="3.7" fill="#af6091"/>
<circle cx="632.9" cy="415.3" r="3.7" fill="#a85f92"/>
<circle cx="634.2" cy="415.3" r="3.7" fill="#60529f"/>
<circle cx="638.9" cy="415.3" r="3.7" fill="#71559b"/>
<circle cx="640" cy="415.3" r="3.7" fill="#c1638e"/>
<circle cx="643.6" cy="415.3" r="3.7" fill="#a95890"/>
<circle cx="647.1" cy="415.3" r="3.7" fill="#8e4d92"/>
<circle cx="649.1" cy="415.3" r="3.7" fill="#7d4694"/>
<circle cx="664.4" cy="415.3" r="3.7" fill="#d07a70"/>
<circle cx="668.4" cy="415.3" r="3.7" fill="#d07a70"/>
<circle cx="672.9" cy="415.3" r="3.7" fill="#d07a70"/>
<circle cx="676.3" cy="415.3" r="3.7" fill="#d07a70"/>
<circle cx="678.3" cy="415.3" r="3.7" fill="#d07a70"/>
<circle cx="683.2" cy="415.3" r="3.7" fill="#fbc52e"/>
<circle cx="688.7" cy="415.3" r="3.7" fill="#fbc52e"/>
<circle cx="694.3" cy="415.3" r="3.7" fill="#d07a70"/>
<circle cx="576.2" cy="438.2" r="3.7" fill="#d07a70"/>
<circle cx="584" cy="438.2" r="3.7" fill="#d07a70"/>
<circle cx="596.4" cy="438.2" r="3.7" fill="#eaa058"/>
<circle cx="599.8" cy="438.2" r="3.7" fill="#eaa058"/>
<circle cx="603" cy="438.2" r="3.7" fill="#eaa058"/>
<circle cx="605.7" cy="438.2" r="3.7" fill="#eaa058"/>
<circle cx="608.2" cy="438.2" r="3.7" fill="#eaa058"/>
<circle cx="611.4" cy="438.2" r="3.7" fill="#eaa058"/>
<circle cx="615.4" cy="438.2" r="3.7" fill="#eaa058"/>
<circle cx="618.7" cy="438.2" r="3.7" fill="#eaa058"/>
<circle cx="620.1" cy="438.2" r="3.7" fill="#fbc52e"/>
<circle cx="627.9" cy="438.2" r="3.7" fill="#d07a70"/>
<circle cx="632.6" cy="438.2" r="3.7" fill="#d07a70"/>
<circle cx="636.6" cy="438.2" r="3.7" fill="#d07a70"/>
<circle cx="639.2" cy="438.2" r="3.7" fill="#a8509a"/>
<circle cx="643.5" cy="438.2" r="3.7" fill="#a8509a"/>
<circle cx="644.9" cy="438.2" r="3.7" fill="#a8509a"/>
<circle cx="648.6" cy="438.2" r="3.7" fill="#a8509a"/>
<circle cx="651.3" cy="438.2" r="3.7" fill="#a8509a"/>
<circle cx="654.3" cy="438.2" r="3.7" fill="#a8509a"/>
<circle cx="656.4" cy="438.2" r="3.7" fill="#a8509a"/>
<circle cx="659.4" cy="438.2" r="3.7" fill="#a8509a"/>
<circle cx="662.6" cy="438.2" r="3.7" fill="#524fa1"/>
<circle cx="666.3" cy="438.2" r="3.7" fill="#524fa1"/>
<circle cx="671.1" cy="438.2" r="3.7" fill="#524fa1"/>
<circle cx="676.1" cy="438.2" r="3.7" fill="#d07a70"/>
<circle cx="678.1" cy="438.2" r="3.7" fill="#ce7676"/>
<circle cx="681.8" cy="438.2" r="3.7" fill="#cf7873"/>
<circle cx="685.1" cy="438.2" r="3.7" fill="#c96e80"/>
<circle cx="687.3" cy="438.2" r="3.7" fill="#cc7379"/>
<circle cx="690.1" cy="438.2" r="3.7" fill="#cb717b"/>
<circle cx="692.2" cy="438.2" r="3.7" fill="#c76a85"/>
<circle cx="694.9" cy="438.2" r="3.7" fill="#c66888"/>
<circle cx="698.5" cy="438.2" r="3.7" fill="#c76a85"/>
<circle cx="632.1" cy="461.1" r="3.7" fill="#d07a70"/>
<circle cx="635.4" cy="461.1" r="3.7" fill="#db8a66"/>
<circle cx="638.1" cy="461.1" r="3.7" fill="#d6836a"/>
<circle cx="641.2" cy="461.1" r="3.7" fill="#e29460"/>
<circle cx="645.3" cy="461.1" r="3.7" fill="#e4985d"/>
<circle cx="675.8" cy="461.1" r="3.7" fill="#c4648d"/>
<circle cx="680.2" cy="461.1" r="3.7" fill="#c4648d"/>
<circle cx="683.5" cy="461.1" r="3.7" fill="#c4648d"/>
<circle cx="687.7" cy="461.1" r="3.7" fill="#c4648d"/>
<circle cx="572" cy="484.1" r="3.7" fill="#d07a70"/>
<circle cx="583.1" cy="484.1" r="3.7" fill="#eaa058"/>
<circle cx="593.4" cy="484.1" r="3.7" fill="#d07a70"/>
<circle cx="599.8" cy="484.1" r="3.7" fill="#d07a70"/>
<circle cx="603.4" cy="484.1" r="3.7" fill="#fbc52e"/>
<circle cx="609.5" cy="484.1" r="3.7" fill="#d07a70"/>
<circle cx="612.3" cy="484.1" r="3.7" fill="#d07a70"/>
<circle cx="621.5" cy="484.1" r="3.7" fill="#d07a70"/>
<circle cx="637.9" cy="484.1" r="3.7" fill="#c4648d"/>
<circle cx="646" cy="484.1" r="3.7" fill="#cf757e"/>
<circle cx="651.9" cy="484.1" r="3.7" fill="#e19264"/>
<circle cx="658.2" cy="484.1" r="3.7" fill="#e29463"/>
<circle cx="662.9" cy="483.2" r="3.7" fill="#884996"/>
<circle cx="664.8" cy="483.4" r="3.7" fill="#884996"/>
<circle cx="668.7" cy="484.7" r="3.7" fill="#814795"/>
<circle cx="670" cy="484.9" r="3.7" fill="#8b4996"/>
<circle cx="672.9" cy="484.1" r="3.7" fill="#8a4996"/>
<circle cx="675.9" cy="483.5" r="3.7" fill="#894996"/>
<circle cx="678.4" cy="484.5" r="3.7" fill="#a54f9a"/>
<circle cx="682.6" cy="484.7" r="3.7" fill="#964c97"/>
<circle cx="683.8" cy="484.4" r="3.7" fill="#a44f99"/>
<circle cx="687.1" cy="484.2" r="3.7" fill="#a8509a"/>
<circle cx="605.1" cy="507" r="3.7" fill="#7d4694"/>
<circle cx="614.7" cy="507" r="3.7" fill="#7d4694"/>
<circle cx="618.4" cy="507" r="3.7" fill="#7d4694"/>
<circle cx="619.8" cy="507" r="3.7" fill="#7d4694"/>
<circle cx="629.5" cy="507" r="3.7" fill="#7d4694"/>
<circle cx="630.1" cy="507" r="3.7" fill="#7d4694"/>
<circle cx="639.4" cy="507" r="3.7" fill="#7d4694"/>
<circle cx="641" cy="507" r="3.7" fill="#7d4694"/>
<circle cx="642.7" cy="507" r="3.7" fill="#7d4694"/>
<circle cx="653.5" cy="507" r="3.7" fill="#7d4694"/>
<circle cx="656.8" cy="507" r="3.7" fill="#7d4694"/>
<circle cx="663" cy="507" r="3.7" fill="#7d4694"/>
<circle cx="666.5" cy="507" r="3.7" fill="#714897"/>
<circle cx="668.2" cy="507" r="3.7" fill="#634b9c"/>
<circle cx="671.5" cy="507" r="3.7" fill="#694a9a"/>
<circle cx="675.2" cy="507" r="3.7" fill="#624c9c"/>
<circle cx="678.5" cy="507" r="3.7" fill="#544fa1"/>
<circle cx="681.2" cy="507" r="3.7" fill="#6d4999"/>
<circle cx="684.1" cy="507" r="3.7" fill="#6e4999"/>
<circle cx="686.6" cy="507" r="3.7" fill="#674b9b"/>
<circle cx="689.1" cy="507" r="3.7" fill="#744897"/>
<circle cx="697.1" cy="507" r="3.7" fill="#7d4694"/>
<circle cx="632" cy="530" r="3.7" fill="#7d4694"/>
<circle cx="634.8" cy="530" r="3.7" fill="#644b9b"/>
<circle cx="636.9" cy="530" r="3.7" fill="#674b9b"/>
<circle cx="641" cy="530" r="3.7" fill="#5e4c9d"/>
<circle cx="666.8" cy="530" r="3.7" fill="#7d4694"/>
<circle cx="670.3" cy="530" r="3.7" fill="#8f4d92"/>
<circle cx="673.8" cy="530" r="3.7" fill="#b05c8f"/>
<circle cx="677.8" cy="530" r="3.7" fill="#b75f8e"/>
<circle cx="684.6" cy="530" r="3.7" fill="#a8509a"/>
<circle cx="688.7" cy="530" r="3.7" fill="#a8509a"/>
<circle cx="620.1" cy="552.9" r="3.7" fill="#a8509a"/>
<circle cx="626.8" cy="552.9" r="3.7" fill="#7d4694"/>
<circle cx="647.3" cy="552.9" r="3.7" fill="#a8509a"/>
<circle cx="662.3" cy="552.9" r="3.7" fill="#ab5397"/>
<circle cx="665.7" cy="552.9" r="3.7" fill="#cf7971"/>
<circle cx="676.2" cy="552.9" r="3.7" fill="#d07a70"/>
<circle cx="679" cy="552.9" r="3.7" fill="#d07a70"/>
<circle cx="634.6" cy="575.9" r="3.7" fill="#7d4694"/>
<circle cx="640.1" cy="575.9" r="3.7" fill="#524fa1"/>
<circle cx="642.3" cy="575.9" r="3.7" fill="#a8509a"/>
<circle cx="645.4" cy="575.9" r="3.7" fill="#a8509a"/>
<circle cx="648.6" cy="575.9" r="3.7" fill="#a8509a"/>
<circle cx="653.2" cy="575.9" r="3.7" fill="#a8509a"/>
<circle cx="657.1" cy="575.9" r="3.7" fill="#a8509a"/>
<circle cx="660.2" cy="575.9" r="3.7" fill="#a8509a"/>
<circle cx="662.1" cy="575.9" r="3.7" fill="#c4648d"/>
<circle cx="665.1" cy="575.9" r="3.7" fill="#c4648d"/>
<circle cx="667.7" cy="575.9" r="3.7" fill="#c4648d"/>
<circle cx="672.4" cy="575.9" r="3.7" fill="#c4648d"/>
<circle cx="675.5" cy="575.9" r="3.7" fill="#c4648d"/>
<circle cx="678.2" cy="575.9" r="3.7" fill="#c4648d"/>
<circle cx="682.1" cy="575.9" r="3.7" fill="#c4648d"/>
<circle cx="684.4" cy="575.9" r="3.7" fill="#d07a70"/>
<circle cx="689.1" cy="575.9" r="3.7" fill="#d07a70"/>
<circle cx="692.1" cy="575.9" r="3.7" fill="#d07a70"/>
<circle cx="695.7" cy="575.9" r="3.7" fill="#fbc52e"/>
<circle cx="599" cy="598.8" r="3.7" fill="#eaa058"/>
<circle cx="607.3" cy="598.8" r="3.7" fill="#eaa058"/>
<circle cx="614.4" cy="598.8" r="3.7" fill="#e4975e"/>
<circle cx="617.6" cy="598.8" r="3.7" fill="#e19360"/>
<circle cx="622.3" cy="598.8" r="3.7" fill="#dd8d64"/>
<circle cx="625.1" cy="598.8" r="3.7" fill="#d07a70"/>
<circle cx="637.5" cy="598.8" r="3.7" fill="#c4658c"/>
<circle cx="643.4" cy="598.8" r="3.7" fill="#c4648d"/>
<circle cx="645.2" cy="598.8" r="3.7" fill="#ca6e80"/>
<circle cx="649.6" cy="598.8" r="3.7" fill="#cc7379"/>
<circle cx="654" cy="598.8" r="3.7" fill="#cb717b"/>
<circle cx="656.3" cy="598.8" r="3.7" fill="#cf7773"/>
<circle cx="661.6" cy="600" r="3.7" fill="#c4648d"/>
<circle cx="665" cy="599.5" r="3.7" fill="#c4648d"/>
<circle cx="666" cy="599.9" r="3.7" fill="#c4648d"/>
<circle cx="669.4" cy="598.7" r="3.7" fill="#c4648d"/>
<circle cx="671.6" cy="598.7" r="3.7" fill="#c4648d"/>
<circle cx="673" cy="597.6" r="3.7" fill="#c4648d"/>
<circle cx="575.1" cy="621.8" r="3.7" fill="#eaa058"/>
<circle cx="584.5" cy="621.8" r="3.7" fill="#eaa058"/>
<circle cx="587.3" cy="621.8" r="3.7" fill="#eaa058"/>
<circle cx="596.2" cy="621.8" r="3.7" fill="#fbc52e"/>
<circle cx="602.6" cy="621.8" r="3.7" fill="#fbc52e"/>
<circle cx="622" cy="621.8" r="3.7" fill="#eaa058"/>
<circle cx="626.2" cy="621.8" r="3.7" fill="#eaa058"/>
<circle cx="635.9" cy="621.8" r="3.7" fill="#eaa058"/>
<circle cx="649.2" cy="621.8" r="3.7" fill="#d07a70"/>
<circle cx="652.2" cy="621.8" r="3.7" fill="#d07a70"/>
<circle cx="656.4" cy="621.8" r="3.7" fill="#d07a70"/>
<circle cx="662.8" cy="622.3" r="3.7" fill="#a8509a"/>
<circle cx="665.8" cy="622.4" r="3.7" fill="#a8509a"/>
<circle cx="667.4" cy="621.9" r="3.7" fill="#a8509a"/>
<circle cx="670.6" cy="622.6" r="3.7" fill="#a8509a"/>
<circle cx="673.5" cy="621.1" r="3.7" fill="#a8509a"/>
<circle cx="676.5" cy="623.2" r="3.7" fill="#a8509a"/>
<circle cx="620.4" cy="644.7" r="3.7" fill="#fbc52e"/>
<circle cx="637.9" cy="644.7" r="3.7" fill="#fbc52e"/>
<circle cx="644" cy="644.7" r="3.7" fill="#fbc52e"/>
<circle cx="645.6" cy="644.7" r="3.7" fill="#fbc52e"/>
<circle cx="652.6" cy="644.7" r="3.7" fill="#eaa058"/>
<circle cx="655.4" cy="644.7" r="3.7" fill="#eaa058"/>
<circle cx="666.5" cy="644.7" r="3.7" fill="#d07a70"/>
<circle cx="670.7" cy="644.7" r="3.7" fill="#e69a5c"/>
<circle cx="701.3" cy="644.7" r="3.7" fill="#eaa058"/>
<circle cx="704" cy="644.7" r="3.7" fill="#eaa058"/>
<circle cx="636.5" cy="667.7" r="3.7" fill="#524fa1"/>
<circle cx="640.5" cy="667.7" r="3.7" fill="#524fa1"/>
<circle cx="643.5" cy="667.7" r="3.7" fill="#524fa1"/>
<circle cx="647.1" cy="667.7" r="3.7" fill="#7d4694"/>
<circle cx="652.6" cy="667.7" r="3.7" fill="#c4648d"/>
<circle cx="656.3" cy="667.7" r="3.7" fill="#c4648d"/>
<circle cx="660.2" cy="667.7" r="3.7" fill="#c4648d"/>
<circle cx="666.3" cy="667.7" r="3.7" fill="#c4648d"/>
<circle cx="672.1" cy="667.7" r="3.7" fill="#7d4694"/>
<circle cx="676.2" cy="667.7" r="3.7" fill="#7d4694"/>
<circle cx="683.5" cy="667.7" r="3.7" fill="#7d4694"/>
<circle cx="687.4" cy="667.7" r="3.7" fill="#7d4694"/>
<circle cx="691" cy="667.7" r="3.7" fill="#7d4694"/>
<circle cx="695.6" cy="667.7" r="3.7" fill="#7d4694"/>
<circle cx="635.9" cy="690.6" r="3.7" fill="#c4648d"/>
<circle cx="640" cy="690.6" r="3.7" fill="#c4648d"/>
<circle cx="642.9" cy="690.6" r="3.7" fill="#c4648d"/>
<circle cx="646.5" cy="690.6" r="3.7" fill="#c4648d"/>
<circle cx="652.6" cy="690.6" r="3.7" fill="#eaa058"/>
<circle cx="656.8" cy="690.6" r="3.7" fill="#eaa058"/>
<circle cx="662.2" cy="690.6" r="3.7" fill="#a24f99"/>
<circle cx="666.2" cy="690.6" r="3.7" fill="#9f4e99"/>
<circle cx="669" cy="690.6" r="3.7" fill="#884996"/>
<circle cx="672.4" cy="690.6" r="3.7" fill="#7d4694"/>
<circle cx="626.9" cy="713.5" r="3.7" fill="#d07a70"/>
<circle cx="629.6" cy="713.5" r="3.7" fill="#d07a70"/>
<circle cx="632.8" cy="713.5" r="3.7" fill="#d07a70"/>
<circle cx="637.5" cy="713.5" r="3.7" fill="#d07a70"/>
<circle cx="639.3" cy="713.5" r="3.7" fill="#d07a70"/>
<circle cx="641.9" cy="713.5" r="3.7" fill="#d07a70"/>
<circle cx="644.7" cy="713.5" r="3.7" fill="#d07a70"/>
<circle cx="648.4" cy="713.5" r="3.7" fill="#eaa058"/>
<circle cx="653.1" cy="713.5" r="3.7" fill="#574e9f"/>
<circle cx="657" cy="713.5" r="3.7" fill="#5e4c9d"/>
<circle cx="660" cy="713.5" r="3.7" fill="#554ea0"/>
<circle cx="662.5" cy="713.5" r="3.7" fill="#644b9c"/>
<circle cx="665.7" cy="713.5" r="3.7" fill="#774796"/>
<circle cx="668.7" cy="713.5" r="3.7" fill="#6b4a9a"/>
<circle cx="671.4" cy="713.5" r="3.7" fill="#7d4694"/>
<circle cx="674.5" cy="713.5" r="3.7" fill="#c4648d"/>
<circle cx="676" cy="713.5" r="3.7" fill="#c1628e"/>
<circle cx="678.9" cy="713.5" r="3.7" fill="#ab5298"/>
<circle cx="683.9" cy="713.5" r="3.7" fill="#a8509a"/>
<circle cx="635.9" cy="736.5" r="3.7" fill="#eaa058"/>
<circle cx="641.1" cy="736.5" r="3.7" fill="#d27d6e"/>
<circle cx="643.7" cy="736.5" r="3.7" fill="#d7846a"/>
<circle cx="647.3" cy="736.5" r="3.7" fill="#eaa058"/>
<circle cx="656.8" cy="736.5" r="3.7" fill="#d07a70"/>
<circle cx="659.6" cy="736.5" r="3.7" fill="#d07a70"/>
<circle cx="664.6" cy="735.9" r="3.7" fill="#a8509a"/>
<circle cx="667.8" cy="735" r="3.7" fill="#a8509a"/>
<circle cx="670.2" cy="735.8" r="3.7" fill="#a8509a"/>
<circle cx="652.6" cy="758.6" r="3.7" fill="#7d4694"/>
<circle cx="652.6" cy="762.2" r="3.7" fill="#7d4694"/>
<circle cx="652.6" cy="761.5" r="3.7" fill="#7d4694"/>
<circle cx="670.7" cy="759.4" r="3.7" fill="#c4648d"/>
<circle cx="642.9" cy="782.4" r="3.7" fill="#7d4694"/>
<circle cx="650.1" cy="781" r="3.7" fill="#a8509a"/>
<circle cx="653.1" cy="782.2" r="3.7" fill="#a8509a"/>
<circle cx="657.5" cy="781.9" r="3.7" fill="#a8509a"/>
<circle cx="664.1" cy="782.5" r="3.7" fill="#c4648d"/>
<circle cx="666" cy="783.5" r="3.7" fill="#c4648d"/>
<circle cx="668.5" cy="783.3" r="3.7" fill="#c4648d"/>
<circle cx="651.8" cy="804.3" r="3.7" fill="#d07a70"/>
<circle cx="651.8" cy="803.8" r="3.7" fill="#d07a70"/>
<circle cx="656.2" cy="805.3" r="3.7" fill="#764796"/>
<circle cx="660.5" cy="805.3" r="3.7" fill="#7b4694"/>
<circle cx="662.3" cy="805.3" r="3.7" fill="#614c9d"/>
<circle cx="665.7" cy="805.3" r="3.7" fill="#5a4d9f"/>
<circle cx="669.3" cy="805.3" r="3.7" fill="#c4648d"/>
<circle cx="673.5" cy="804.9" r="3.7" fill="#c4648d"/>
<circle cx="645" cy="828.3" r="3.7" fill="#eaa058"/>
<circle cx="647" cy="828.3" r="3.7" fill="#eaa058"/>
<circle cx="651.8" cy="828.3" r="3.7" fill="#eaa058"/>
<circle cx="653.5" cy="828.3" r="3.7" fill="#eaa058"/>
<circle cx="656.8" cy="828.3" r="3.7" fill="#fbc52e"/>
<circle cx="664.7" cy="828.9" r="3.7" fill="#a8509a"/>
<circle cx="667.2" cy="827.1" r="3.7" fill="#a8509a"/>
<circle cx="669.5" cy="827" r="3.7" fill="#a8509a"/>
<circle cx="623.4" cy="851.2" r="3.7" fill="#7d4694"/>
<circle cx="638.7" cy="851.2" r="3.7" fill="#7d4694"/>
<circle cx="647.6" cy="851.2" r="3.7" fill="#7d4694"/>
<circle cx="650.2" cy="851.2" r="3.7" fill="#7d4694"/>
<circle cx="653.2" cy="851.2" r="3.7" fill="#7d4694"/>
<circle cx="656.9" cy="850.7" r="3.7" fill="#c4648d"/>
<circle cx="658.1" cy="849.1" r="3.7" fill="#c86c83"/>
<circle cx="659.9" cy="849.7" r="3.7" fill="#c4648d"/>
<circle cx="660.7" cy="851.2" r="3.7" fill="#cb727b"/>
<circle cx="662.2" cy="849.9" r="3.7" fill="#cd7478"/>
<circle cx="663.7" cy="852.5" r="3.7" fill="#cc727a"/>
<circle cx="665.4" cy="850.5" r="3.7" fill="#ce7675"/>
<circle cx="666.3" cy="852.9" r="3.7" fill="#cc737a"/>
<circle cx="668.1" cy="849.6" r="3.7" fill="#d07a70"/>
<circle cx="653.5" cy="873.9" r="3.7" fill="#7d4694"/>
<circle cx="653.5" cy="875.2" r="3.7" fill="#7d4694"/>
<circle cx="665.1" cy="871.9" r="3.7" fill="#c4648d"/>
<circle cx="665.3" cy="876.5" r="3.7" fill="#c4648d"/>
<circle cx="665.5" cy="872.3" r="3.7" fill="#c4648d"/>
<circle cx="665.7" cy="875.4" r="3.7" fill="#c4648d"/>
<circle cx="654.1" cy="894.3" r="3.7" fill="#a8509a"/>
<circle cx="654.4" cy="895.1" r="3.7" fill="#a8509a"/>
<circle cx="655.1" cy="897.3" r="3.7" fill="#a8509a"/>
<circle cx="655.5" cy="895.7" r="3.7" fill="#a8509a"/>
<circle cx="656.1" cy="900.9" r="3.7" fill="#a8509a"/>
<circle cx="656.9" cy="893.9" r="3.7" fill="#a8509a"/>
<circle cx="672.6" cy="897.1" r="3.7" fill="#c4648d"/>
<circle cx="680.4" cy="897.1" r="3.7" fill="#e3955f"/>
<circle cx="684.6" cy="897.1" r="3.7" fill="#d6836a"/>
<circle cx="651.1" cy="921.2" r="3.7" fill="#c76a85"/>
<circle cx="653.4" cy="918.8" r="3.7" fill="#c86a84"/>
<circle cx="655.1" cy="918.9" r="3.7" fill="#c96d81"/>
<circle cx="656.6" cy="919.6" r="3.7" fill="#cd7478"/>
<circle cx="663.7" cy="920" r="3.7" fill="#a8509a"/>
<circle cx="672.1" cy="920" r="3.7" fill="#7d4694"/>
<circle cx="676.2" cy="920" r="3.7" fill="#7d4694"/>
<circle cx="652.7" cy="943" r="3.7" fill="#ab5298"/>
<circle cx="653.2" cy="938" r="3.7" fill="#ac5398"/>
<circle cx="653.7" cy="946.4" r="3.7" fill="#b15696"/>
<circle cx="654.3" cy="944" r="3.7" fill="#b65a93"/>
<circle cx="654.7" cy="939.2" r="3.7" fill="#bb5e91"/>
<circle cx="655.2" cy="946.8" r="3.7" fill="#c96c86"/>
<circle cx="655.7" cy="945.5" r="3.7" fill="#cf767d"/>
<circle cx="656.2" cy="940.4" r="3.7" fill="#cd7380"/>
<circle cx="656.7" cy="941.9" r="3.7" fill="#cc7182"/>
<circle cx="657.3" cy="944.8" r="3.7" fill="#e19264"/>
<circle cx="657.6" cy="942.4" r="3.7" fill="#e19264"/>
<circle cx="658.2" cy="945.4" r="3.7" fill="#e89d5b"/>
<circle cx="665.1" cy="943" r="3.7" fill="#524fa1"/>
<circle cx="667.9" cy="943" r="3.7" fill="#524fa1"/>
<circle cx="686.8" cy="943" r="3.7" fill="#7d4694"/>
<circle cx="639.6" cy="965.9" r="3.7" fill="#7d4694"/>
<circle cx="650.7" cy="965.9" r="3.7" fill="#7d4694"/>
<circle cx="652" cy="965.9" r="3.7" fill="#7d4694"/>
<circle cx="655.7" cy="965.9" r="3.7" fill="#7d4694"/>
<circle cx="662.5" cy="964.9" r="3.7" fill="#a8509a"/>
<circle cx="663" cy="970.2" r="3.7" fill="#a8509a"/>
<circle cx="663.5" cy="966.3" r="3.7" fill="#a8509a"/>
<circle cx="664.3" cy="968.5" r="3.7" fill="#a8509a"/>
<circle cx="665.3" cy="966.1" r="3.7" fill="#a8509a"/>
<circle cx="652.2" cy="989.2" r="3.7" fill="#a8509a"/>
<circle cx="654" cy="990" r="3.7" fill="#a8509a"/>
<circle cx="655.4" cy="989.6" r="3.7" fill="#a8509a"/>
<circle cx="657.1" cy="989" r="3.7" fill="#a8509a"/>
<circle cx="662.1" cy="988.9" r="3.7" fill="#e3965e"/>
<circle cx="665.7" cy="988.9" r="3.7" fill="#da8967"/>
<circle cx="670.4" cy="988.9" r="3.7" fill="#d07a70"/>
<circle cx="650.5" cy="1011.4" r="3.7" fill="#e2955f"/>
<circle cx="653.1" cy="1011.5" r="3.7" fill="#e19261"/>
<circle cx="655.8" cy="1011.6" r="3.7" fill="#d17c6f"/>
<circle cx="662.6" cy="1011.4" r="3.7" fill="#d07a70"/>
<circle cx="664.1" cy="1011" r="3.7" fill="#d07a70"/>
<circle cx="666.9" cy="1013.1" r="3.7" fill="#d07a70"/>
<circle cx="673.5" cy="1011.8" r="3.7" fill="#c4648d"/>
<circle cx="654.6" cy="1032" r="3.7" fill="#fbc52e"/>
<circle cx="654.9" cy="1033.7" r="3.7" fill="#fbc52e"/>
<circle cx="655.1" cy="1031.1" r="3.7" fill="#fbc52e"/>
<circle cx="655.5" cy="1037.9" r="3.7" fill="#fbc52e"/>
<circle cx="655.7" cy="1034.5" r="3.7" fill="#fbc52e"/>
<circle cx="656" cy="1032" r="3.7" fill="#fbc52e"/>
<circle cx="656.3" cy="1033.3" r="3.7" fill="#fbc52e"/>
<circle cx="663.9" cy="1035.7" r="3.7" fill="#524fa1"/>
<circle cx="666" cy="1034.7" r="3.7" fill="#524fa1"/>
<circle cx="667.2" cy="1034.9" r="3.7" fill="#524fa1"/>
<circle cx="668.8" cy="1035.8" r="3.7" fill="#524fa1"/>
<circle cx="648.8" cy="1057.7" r="3.7" fill="#cd7576"/>
<circle cx="651.1" cy="1057.7" r="3.7" fill="#cb717c"/>
<circle cx="653.6" cy="1057.7" r="3.7" fill="#c5658c"/>
<circle cx="658" cy="1051.7" r="3.7" fill="#a8509a"/>
<circle cx="659.1" cy="1055.1" r="3.7" fill="#a8509a"/>
<circle cx="659.7" cy="1055.3" r="3.7" fill="#a8509a"/>
<circle cx="660.7" cy="1056.9" r="3.7" fill="#a8509a"/>
<circle cx="661.6" cy="1059.6" r="3.7" fill="#a8509a"/>
<circle cx="662.3" cy="1062.9" r="3.7" fill="#a8509a"/>
<circle cx="665.7" cy="1057.7" r="3.7" fill="#a8509a"/>
<circle cx="656.3" cy="1075.3" r="3.7" fill="#524fa1"/>
<circle cx="656.5" cy="1085.5" r="3.7" fill="#524fa1"/>
<circle cx="656.6" cy="1076.3" r="3.7" fill="#524fa1"/>
<circle cx="656.8" cy="1082.3" r="3.7" fill="#524fa1"/>
<circle cx="656.9" cy="1074.8" r="3.7" fill="#524fa1"/>
<circle cx="657.2" cy="1082.5" r="3.7" fill="#524fa1"/>
<circle cx="657.3" cy="1075.9" r="3.7" fill="#524fa1"/>
<circle cx="661.2" cy="1077.5" r="3.7" fill="#fbc52e"/>
<circle cx="661.3" cy="1078.8" r="3.7" fill="#fbc52e"/>
<circle cx="661.4" cy="1085.5" r="3.7" fill="#fbc52e"/>
<circle cx="661.5" cy="1076.7" r="3.7" fill="#fbc52e"/>
<circle cx="661.6" cy="1082" r="3.7" fill="#fbc52e"/>
<circle cx="661.7" cy="1082.7" r="3.7" fill="#fbc52e"/>
<circle cx="661.8" cy="1084.1" r="3.7" fill="#fbc52e"/>
<circle cx="656.3" cy="1105.5" r="3.7" fill="#eaa058"/>
<circle cx="656.5" cy="1103" r="3.7" fill="#f0ad4a"/>
<circle cx="656.7" cy="1101.2" r="3.7" fill="#f1b046"/>
<circle cx="656.9" cy="1103.5" r="3.7" fill="#f1ae48"/>
<circle cx="657.1" cy="1100" r="3.7" fill="#f7bd37"/>
<circle cx="657.3" cy="1104" r="3.7" fill="#fbc52e"/>
<circle cx="661.3" cy="1107" r="3.7" fill="#a8509a"/>
<circle cx="661.3" cy="1105.3" r="3.7" fill="#9e4e99"/>
<circle cx="661.5" cy="1102.8" r="3.7" fill="#9a4d98"/>
<circle cx="661.6" cy="1105" r="3.7" fill="#994d98"/>
<circle cx="661.7" cy="1104.7" r="3.7" fill="#924b97"/>
<circle cx="661.8" cy="1101.9" r="3.7" fill="#7d4694"/>
<g font-size="17.9" fill="#666" fill-opacity="0.93">
<text x="449.2" y="31.8" textLength="49.8" lengthAdjust="spacingAndGlyphs">0.843</text>
<text x="449.2" y="54.7" textLength="49.8" lengthAdjust="spacingAndGlyphs">0.619</text>
<text x="449.2" y="77.7" textLength="49.8" lengthAdjust="spacingAndGlyphs">0.605</text>
<text x="449.2" y="100.6" textLength="49.8" lengthAdjust="spacingAndGlyphs">0.563</text>
<text x="449.2" y="123.6" textLength="49.8" lengthAdjust="spacingAndGlyphs">0.422</text>
<text x="449.2" y="146.5" textLength="49.8" lengthAdjust="spacingAndGlyphs">0.420</text>
<text x="449.2" y="169.5" textLength="49.8" lengthAdjust="spacingAndGlyphs">0.409</text>
<text x="449.2" y="192.4" textLength="49.8" lengthAdjust="spacingAndGlyphs">0.390</text>
<text x="449.2" y="215.4" textLength="49.8" lengthAdjust="spacingAndGlyphs">0.347</text>
<text x="449.2" y="238.3" textLength="49.8" lengthAdjust="spacingAndGlyphs">0.338</text>
<text x="449.2" y="261.2" textLength="49.8" lengthAdjust="spacingAndGlyphs">0.328</text>
<text x="449.2" y="284.2" textLength="49.8" lengthAdjust="spacingAndGlyphs">0.308</text>
<text x="449.2" y="307.1" textLength="49.8" lengthAdjust="spacingAndGlyphs">0.287</text>
<text x="449.2" y="330.1" textLength="49.8" lengthAdjust="spacingAndGlyphs">0.271</text>
<text x="449.2" y="353" textLength="49.8" lengthAdjust="spacingAndGlyphs">0.270</text>
<text x="449.2" y="376" textLength="49.8" lengthAdjust="spacingAndGlyphs">0.250</text>
<text x="449.2" y="398.9" textLength="49.8" lengthAdjust="spacingAndGlyphs">0.240</text>
<text x="449.2" y="421.9" textLength="49.8" lengthAdjust="spacingAndGlyphs">0.203</text>
<text x="449.2" y="444.8" textLength="49.8" lengthAdjust="spacingAndGlyphs">0.198</text>
<text x="449.2" y="467.7" textLength="49.8" lengthAdjust="spacingAndGlyphs">0.183</text>
<text x="449.2" y="490.7" textLength="49.8" lengthAdjust="spacingAndGlyphs">0.183</text>
<text x="449.2" y="513.6" textLength="49.8" lengthAdjust="spacingAndGlyphs">0.179</text>
<text x="449.2" y="536.6" textLength="49.8" lengthAdjust="spacingAndGlyphs">0.164</text>
<text x="449.2" y="559.5" textLength="49.8" lengthAdjust="spacingAndGlyphs">0.138</text>
<text x="449.2" y="582.5" textLength="49.8" lengthAdjust="spacingAndGlyphs">0.133</text>
<text x="449.2" y="605.4" textLength="49.8" lengthAdjust="spacingAndGlyphs">0.127</text>
<text x="449.2" y="628.4" textLength="49.8" lengthAdjust="spacingAndGlyphs">0.125</text>
<text x="449.2" y="651.3" textLength="49.8" lengthAdjust="spacingAndGlyphs">0.107</text>
<text x="449.2" y="674.3" textLength="49.8" lengthAdjust="spacingAndGlyphs">0.106</text>
<text x="449.2" y="697.2" textLength="49.8" lengthAdjust="spacingAndGlyphs">0.097</text>
<text x="449.2" y="720.1" textLength="49.8" lengthAdjust="spacingAndGlyphs">0.096</text>
<text x="449.2" y="743.1" textLength="49.8" lengthAdjust="spacingAndGlyphs">0.074</text>
<text x="449.2" y="766" textLength="49.8" lengthAdjust="spacingAndGlyphs">0.072</text>
<text x="449.2" y="789" textLength="49.8" lengthAdjust="spacingAndGlyphs">0.068</text>
<text x="449.2" y="811.9" textLength="49.8" lengthAdjust="spacingAndGlyphs">0.067</text>
<text x="449.2" y="834.9" textLength="49.8" lengthAdjust="spacingAndGlyphs">0.065</text>
<text x="449.2" y="857.8" textLength="49.8" lengthAdjust="spacingAndGlyphs">0.053</text>
<text x="449.2" y="880.8" textLength="49.8" lengthAdjust="spacingAndGlyphs">0.052</text>
<text x="449.2" y="903.7" textLength="49.8" lengthAdjust="spacingAndGlyphs">0.047</text>
<text x="449.2" y="926.6" textLength="49.8" lengthAdjust="spacingAndGlyphs">0.046</text>
<text x="449.2" y="949.6" textLength="49.8" lengthAdjust="spacingAndGlyphs">0.041</text>
<text x="449.2" y="972.5" textLength="49.8" lengthAdjust="spacingAndGlyphs">0.039</text>
<text x="449.2" y="995.5" textLength="49.8" lengthAdjust="spacingAndGlyphs">0.037</text>
<text x="449.2" y="1018.4" textLength="49.8" lengthAdjust="spacingAndGlyphs">0.033</text>
<text x="449.2" y="1041.4" textLength="49.8" lengthAdjust="spacingAndGlyphs">0.027</text>
<text x="449.2" y="1064.3" textLength="49.8" lengthAdjust="spacingAndGlyphs">0.016</text>
<text x="449.2" y="1087.3" textLength="49.8" lengthAdjust="spacingAndGlyphs">0.014</text>
<text x="449.2" y="1110.2" textLength="49.8" lengthAdjust="spacingAndGlyphs">0.012</text>
</g>
<path d="M659.5 11.8V1119.4" stroke="#000" stroke-width="3.2"/>
<rect x="442.3" y="11.8" width="434.2" height="1105.6" fill="none" stroke="#333" stroke-width="1.4"/>
<path d="M546.4 1117.4v4M659.5 1117.4v4M772.6 1117.4v4" stroke="#333" stroke-width="2.1" fill="none"/>
<g font-size="17.5" fill="#1a1a1a" text-anchor="middle">
<text x="542.5" y="1137.4">−1</text>
<text x="659.5" y="1137.4">0</text>
<text x="772.6" y="1137.4">1</text>
</g>
<g font-size="18.6" fill="#1a1a1a" text-anchor="end">
<text x="438.7" y="34.1">PCae(18:2)</text>
<text x="438.7" y="55.8">N1,N12−diacetylspermine</text>
<text x="438.7" y="76.8">N1−acetylspermidine</text>
<text x="438.7" y="101.5">S−adenosylhomocysteine</text>
<text x="438.7" y="123.6"><tspan font-style="italic">Coprococcus catus</tspan> SGB4670</text>
<text x="438.7" y="147.4"><tspan font-style="italic">Ruminococcaceae bacterium</tspan> SGB14899</text>
<text x="438.7" y="169.7">Arachidic acid</text>
<text x="438.7" y="191">Roseburia sp AF02 12 SGB4938</text>
<text x="438.7" y="215.8">3−Hydroxyanthranilic acid</text>
<text x="438.7" y="237.9">Chenodeoxycholic acid</text>
<text x="438.7" y="263.2">Oleic acid;Elaidic acid;Vaccenic acid</text>
<text x="438.7" y="283.9"><tspan font-style="italic">Oscillospiraceae bacterium NSJ 64</tspan> SGB82503</text>
<text x="438.7" y="308.6"><tspan font-style="italic">Enterocloster lavalensis</tspan> SGB4725</text>
<text x="438.7" y="330.4"><tspan font-style="italic">Leuconostoc mesenteroides</tspan> SGB7126</text>
<text x="438.7" y="352.1">Melanoma  stage</text>
<text x="438.7" y="376.4"><tspan font-style="italic">Faecalibacterium prausnitzii</tspan> SGB15318</text>
<text x="438.7" y="398.8">Nonoic acid</text>
<text x="438.7" y="423.1">Ornithine</text>
<text x="438.7" y="444.8">N8−acetylspermidine</text>
<text x="438.7" y="469.3"><tspan font-style="italic">Mediterraneibacter butyricigenes</tspan> SGB25493</text>
<text x="438.7" y="491.1"><tspan font-style="italic">Harryflintia acetispora</tspan> SGB14838</text>
<text x="438.7" y="512.8">Acetylcarnitine</text>
<text x="438.7" y="537.7">12(S)−HHTrE</text>
<text x="438.7" y="558.9"><tspan font-style="italic">Streptococcus parasanguinis</tspan> SGB8071</text>
<text x="438.7" y="580.8">Dodecenoic acid</text>
<text x="438.7" y="605.5"><tspan font-style="italic">Eggerthellaceae unclassified</tspan> SGB14341</text>
<text x="438.7" y="630.2"><tspan font-style="italic">Veillonella atypica</tspan> SGB6936</text>
<text x="438.7" y="652">N/L  ratio</text>
<text x="438.7" y="673.7"><tspan font-style="italic">GGB58158</tspan> SGB79798</text>
<text x="438.7" y="697.8"><tspan font-style="italic">Clostridiales bacterium</tspan> SGB15143</text>
<text x="438.7" y="719.5"><tspan font-style="italic">Candidatus Metaruminococcus caecorum</tspan> SGB63353</text>
<text x="438.7" y="743.9">Carnitine C14:1</text>
<text x="438.7" y="765.8"><tspan font-style="italic">Clostridia bacterium</tspan> SGB13982</text>
<text x="438.7" y="788.1">1−Methylnicotimide</text>
<text x="438.7" y="812.8"><tspan font-style="italic">Blautia</tspan> SGB4815</text>
<text x="438.7" y="834.6">Cholic acid</text>
<text x="438.7" y="857.7"><tspan font-style="italic">Bacteroides ovatus</tspan> SGB1871</text>
<text x="438.7" y="881"><tspan font-style="italic">Phocaeicola dorei</tspan> SGB1815</text>
<text x="438.7" y="903.2"><tspan font-style="italic">Turicibacter sanguinis</tspan> SGB6846</text>
<text x="438.7" y="925.9"><tspan font-style="italic">Phocaeicola vulgatus</tspan> SGB1814</text>
<text x="438.7" y="949.8"><tspan font-style="italic">GGB45432</tspan> SGB63101</text>
<text x="438.7" y="972.5">Arginine</text>
<text x="438.7" y="994.9">Age</text>
<text x="438.7" y="1019">Adenine</text>
<text x="438.7" y="1041.7">Flu-like symptoms between T1 and T2</text>
<text x="438.7" y="1064.4">Interval between surgery and 1st injection</text>
<text x="438.7" y="1087.6">Sex</text>
<text x="438.7" y="1109.9">Lauric acid</text>
</g>
<text x="659.6" y="1157" font-size="18.5" fill="#1a1a1a" text-anchor="middle">SHAP value (impact on model output)</text>
<text x="784" y="1068.6" font-size="17.75" fill="#1a1a1a" text-anchor="middle">ROC AUC: 0.74</text>
<text x="784" y="1087.5" font-size="17.75" fill="#1a1a1a" text-anchor="middle">(95%CI: 0.74-0.77)</text>
<text x="529" y="1184" font-size="18.3" fill="#1a1a1a">Feature value</text>
<defs><linearGradient id="fv" x1="0" x2="1" y1="0" y2="0"><stop offset="0" stop-color="#fbc63a"/><stop offset="0.25" stop-color="#e8a25e"/><stop offset="0.5" stop-color="#cb6a85"/><stop offset="0.75" stop-color="#964a95"/><stop offset="1" stop-color="#514fa0"/></linearGradient></defs>
<rect x="648.6" y="1168.6" width="128.1" height="17.4" rx="2.5" fill="url(#fv)"/>
<text x="650.3" y="1203.8" font-size="17.8" fill="#1a1a1a" text-anchor="middle">Low</text>
<text x="776.2" y="1203.8" font-size="17.8" fill="#1a1a1a" text-anchor="middle">High</text>
<text x="-0.5" y="32.2" font-size="38.6" font-weight="bold" fill="#1a1a1a">A</text>
</g>
<g id="panelB" fill="#1a1a1a">
<text x="907.5" y="32.2" font-size="38.6" font-weight="bold">B</text>
<text x="1424" y="152.2" font-size="24.4" text-anchor="middle">Parameters</text>
<path d="M1109.2 163.8H1763" stroke="#1a1a1a" stroke-width="1.5"/>
<path d="M983.4 292L984.9 525.4" stroke="#1a1a1a" stroke-width="1.5"/>
<rect x="1109.2" y="289.5" width="157.7" height="75.8" fill="#f4ae63"/>
<rect x="1274.8" y="289.5" width="157.6" height="75.8" fill="#ec8631"/>
<rect x="1438.8" y="289.5" width="157.5" height="75.8" fill="#f4ae63"/>
<rect x="1604.6" y="289.5" width="158.9" height="75.8" fill="#dd7a31"/>
<rect x="1109.2" y="369.1" width="157.7" height="75.8" fill="#f4ae63"/>
<rect x="1274.8" y="369.1" width="157.6" height="75.8" fill="#f19a42"/>
<rect x="1438.8" y="369.1" width="157.5" height="75.8" fill="#f1923a"/>
<rect x="1604.6" y="369.1" width="158.9" height="75.8" fill="#d27032"/>
<rect x="1109.2" y="449" width="157.7" height="76.4" fill="#f4ae63"/>
<rect x="1274.8" y="449" width="157.6" height="76.4" fill="#ec8631"/>
<rect x="1438.8" y="449" width="157.5" height="76.4" fill="#f4ae63"/>
<rect x="1604.6" y="449" width="158.9" height="76.4" fill="#dd7a31"/>
<g font-size="24.4" text-anchor="middle">
<text x="1195.3" y="324">.66</text>
<text x="1188.5" y="349.5">(.59-.70)</text>
<text x="1360.8" y="324">.73</text>
<text x="1354" y="349.5">(.66-.80)</text>
<text x="1524.8" y="324">.71</text>
<text x="1518" y="349.5">(.67-.71)</text>
<text x="1691.2" y="324">.74</text>
<text x="1684.4" y="349.5">(.74-.77)</text>
<text x="1195.3" y="401.6">.66</text>
<text x="1188.5" y="426.8">(.59-.70)</text>
<text x="1360.8" y="401.6">.69</text>
<text x="1354" y="426.8">(.63-.75)</text>
<text x="1524.8" y="401.6">.73</text>
<text x="1518" y="426.8">(.69-.74)</text>
<text x="1691.2" y="401.6">.79</text>
<text x="1684.4" y="426.8">(.71-.79)</text>
<text x="1195.3" y="481.7">.66</text>
<text x="1188.5" y="506.8">(.59-.70)</text>
<text x="1360.8" y="481.7">.72</text>
<text x="1354" y="506.8">(.66-.78)</text>
<text x="1524.8" y="481.7">.64</text>
<text x="1518" y="506.8">(.62-.65)</text>
<text x="1691.2" y="481.7">.71</text>
<text x="1684.4" y="506.8">(.69-.76)</text>
</g>
<g font-size="24" text-anchor="end">
<text x="1095.2" y="336">T1</text>
<text x="1096.3" y="413.4">T2</text>
<text x="1094.8" y="499">T2-T1/T1</text>
</g>
<text transform="translate(970.7 408.4) rotate(-90)" font-size="24.3" text-anchor="middle">Timepoints</text>
<text transform="translate(1176 282.8) rotate(-35)" font-size="24.7">Clinical</text>
<text transform="translate(1352.5 282.9) rotate(-35)" font-size="24.7">Clinical &amp; MB</text>
<text transform="translate(1514 282.9) rotate(-35)" font-size="24.7">Clinical &amp; MGS</text>
<text transform="translate(1682 284.5) rotate(-35)" font-size="24.7">All</text>
</g>
<g id="panelC">
<g fill-opacity="0.66" stroke="none">
<path d="M419.7 1836.3L449.7 1839.5L477.9 1842.6L504.5 1845.3L529.4 1847.9L552.6 1850.2L574.1 1852.2L593.9 1854L612.1 1855.4L628.6 1856.5L643.5 1857.3L656.7 1857.7L668.3 1857.7L678.4 1857.3L686.9 1856.5L693.9 1855.2L699.5 1853.3L703.9 1850.5L706.7 1846.1L706.8 1841L704.8 1836.2L701.3 1831.4L696.2 1826.4L689.7 1820.9L681.6 1814.9L672 1808.4L660.9 1801.2L648.2 1793.4L633.9 1785L618.1 1775.9L600.8 1766.1L581.9 1755.6L561.5 1744.4L539.5 1732.4L516.1 1719.7L491 1706.1L464.5 1691.8L460.7 1698.9L487.2 1713.2L512.2 1726.7L535.7 1739.4L557.6 1751.4L578 1762.6L596.9 1773.1L614.2 1782.8L629.9 1791.9L644 1800.3L656.6 1808L667.6 1815L677 1821.4L684.7 1827.2L690.8 1832.3L695.3 1836.7L698 1840.3L699 1842.7L699 1843.8L698.4 1844.7L696.2 1846.1L691.9 1847.5L685.8 1848.6L677.9 1849.4L668.2 1849.7L656.9 1849.7L643.8 1849.3L629.1 1848.5L612.7 1847.4L594.6 1846L574.8 1844.3L553.3 1842.2L530.2 1839.9L505.3 1837.4L478.8 1834.6L450.5 1831.6L420.5 1828.4Z" fill="#4fbdd1"/>
<path d="M419.6 1837.3L449.6 1840.5L477.9 1843.6L504.7 1846.6L530 1849.5L553.8 1852.3L576.4 1855.2L597.7 1858.2L617.8 1861.2L636.8 1864.5L654.8 1867.8L671.8 1871.5L688 1875.4L703.4 1879.6L718 1884.1L732.1 1889.1L745.6 1894.5L758.6 1900.3L771.3 1906.7L783.6 1913.7L795.7 1921.2L807.7 1929.5L819.7 1938.4L831.6 1948.1L843.7 1958.6L855.9 1969.9L868.4 1982.1L881.2 1995.2L894.3 2009.3L908 2024.4L922.2 2040.5L937.1 2057.7L952.6 2076.1L969 2095.6L986.2 2116.3L1004.3 2138.3L1023.5 2161.6L1028.9 2157.2L1009.7 2133.9L991.6 2111.9L974.4 2091.1L958.1 2071.5L942.5 2053.1L927.7 2035.8L913.5 2019.5L899.8 2004.3L886.6 1990.1L873.7 1976.8L861.2 1964.4L848.9 1952.8L836.7 1942.1L824.6 1932.1L812.5 1922.9L800.3 1914.4L787.9 1906.5L775.3 1899.2L762.4 1892.6L749 1886.4L735.2 1880.8L720.9 1875.6L706 1870.8L690.3 1866.4L673.9 1862.4L656.7 1858.6L638.5 1855.1L619.3 1851.8L599.1 1848.6L577.7 1845.5L555.1 1842.6L531.1 1839.6L505.8 1836.7L479 1833.7L450.6 1830.6L420.7 1827.4Z" fill="#4fbdd1"/>
<path d="M1161.6 1855L1131.5 1856.1L1103.1 1857.1L1076.4 1858.1L1051.3 1859.2L1027.9 1860.4L1006.2 1861.6L986.1 1863L967.7 1864.6L950.8 1866.3L935.5 1868.3L921.8 1870.6L909.7 1873.2L899.1 1876.2L889.9 1879.6L882.2 1883.5L876 1888L871.2 1893.2L868.1 1899.2L866.8 1905.9L867.2 1913L869.3 1920.4L872.9 1928.2L878 1936.6L884.5 1945.5L892.4 1955.1L901.7 1965.4L912.4 1976.5L924.5 1988.3L937.9 2001.1L952.8 2014.6L969 2029.1L986.6 2044.6L1005.6 2061L1025.9 2078.4L1047.5 2096.9L1070.4 2116.5L1075.6 2110.4L1052.7 2090.8L1031.1 2072.4L1010.8 2054.9L991.9 2038.5L974.3 2023.1L958.2 2008.7L943.4 1995.2L930 1982.6L918 1970.8L907.5 1959.9L898.4 1949.9L890.8 1940.6L884.6 1932.1L880 1924.4L876.8 1917.6L875.1 1911.6L874.7 1906.4L875.6 1901.9L877.7 1897.8L881.2 1894L886.3 1890.3L893.1 1886.9L901.5 1883.8L911.6 1881L923.3 1878.5L936.7 1876.2L951.7 1874.3L968.4 1872.5L986.7 1871L1006.7 1869.6L1028.4 1868.4L1051.7 1867.2L1076.7 1866.1L1103.4 1865.1L1131.8 1864.1L1161.9 1863Z" fill="#4fbdd1"/>
<path d="M1153.1 1791L1123.6 1797.3L1095.7 1803.3L1069.4 1809.1L1044.6 1814.7L1021.3 1820.1L999.3 1825.5L978.7 1830.8L959.3 1836.2L941.1 1841.6L924.1 1847.2L908.2 1853.1L893.3 1859.2L879.3 1865.6L866.3 1872.4L854.1 1879.7L842.8 1887.5L832.1 1895.9L822.2 1904.8L813 1914.5L804.3 1924.9L796.2 1936.1L788.6 1948L781.4 1960.9L774.6 1974.7L768.1 1989.5L761.9 2005.3L755.9 2022.2L750 2040.3L744.2 2059.6L738.4 2080.1L732.5 2102L726.6 2125.2L720.5 2149.9L714.3 2176.1L707.7 2203.8L700.8 2233.2L709.6 2235.2L716.5 2205.9L723 2178.2L729.2 2152L735.3 2127.4L741.1 2104.2L746.8 2082.4L752.5 2062L758.2 2042.8L764 2025L769.8 2008.2L775.8 1992.7L782.1 1978.1L788.6 1964.6L795.5 1952.1L802.7 1940.4L810.5 1929.6L818.7 1919.6L827.5 1910.2L836.9 1901.5L847.1 1893.3L858 1885.7L869.7 1878.5L882.4 1871.8L896 1865.4L910.6 1859.3L926.3 1853.4L943.1 1847.8L961.1 1842.3L980.3 1836.9L1000.8 1831.5L1022.7 1826.1L1046 1820.6L1070.8 1815L1097 1809.2L1124.9 1803.2L1154.3 1796.8Z" fill="#4fbdd1"/>
<path d="M588.5 2184.7L605.1 2159.6L620.8 2135.9L635.7 2113.6L649.8 2092.7L663.1 2073.3L675.8 2055.4L687.9 2038.8L699.4 2023.7L710.4 2010L720.9 1997.8L731 1987L740.7 1977.6L750.2 1969.7L759.3 1963.1L768.2 1958L777 1954.2L785.6 1951.8L794.1 1950.7L802.8 1950.9L811.6 1952.4L820.6 1955.3L830 1959.4L839.8 1965L850 1971.9L860.7 1980.2L871.9 1989.9L883.6 2001L896 2013.4L909 2027.2L922.7 2042.4L937.2 2059L952.5 2076.9L968.7 2096.1L985.8 2116.7L1003.9 2138.7L1023.1 2161.9L1029.3 2156.9L1010.1 2133.6L992 2111.6L974.9 2091L958.6 2071.7L943.3 2053.7L928.7 2037.1L914.9 2021.8L901.8 2007.9L889.2 1995.2L877.3 1984L865.8 1974L854.8 1965.4L844.1 1958.2L833.7 1952.3L823.5 1947.8L813.5 1944.7L803.5 1943L793.7 1942.7L784 1944L774.3 1946.7L764.6 1950.9L755 1956.4L745.2 1963.4L735.4 1971.7L725.3 1981.4L714.9 1992.5L704.2 2004.9L693.1 2018.8L681.4 2034L669.3 2050.7L656.6 2068.8L643.2 2088.2L629 2109.1L614.1 2131.4L598.4 2155.2L581.8 2180.3Z" fill="#4fbdd1"/>
<path d="M550.3 1587.4L569.5 1610.7L587.6 1632.8L604.7 1653.7L620.8 1673.5L636 1692.2L650.3 1710.1L663.9 1727.1L676.6 1743.4L688.6 1759L699.8 1774L710.5 1788.5L720.5 1802.5L730 1816.2L738.9 1829.7L747.4 1842.9L755.5 1856.1L763.1 1869.3L770.5 1882.5L777.5 1895.9L784.3 1909.5L790.9 1923.5L797.4 1937.9L803.7 1952.7L810 1968.2L816.2 1984.3L822.5 2001.1L828.8 2018.8L835.3 2037.4L841.8 2057L848.6 2077.6L855.7 2099.4L863 2122.4L870.7 2146.8L878.7 2172.5L887.1 2199.8L896 2228.6L903.7 2226.2L894.8 2197.4L886.3 2170.2L878.3 2144.4L870.7 2120L863.3 2096.9L856.3 2075.1L849.5 2054.4L842.9 2034.8L836.5 2016.1L830.2 1998.3L823.9 1981.4L817.6 1965.1L811.4 1949.6L805 1934.5L798.5 1920L791.9 1905.9L785 1892.1L778 1878.5L770.6 1865.1L762.8 1851.7L754.7 1838.4L746.2 1824.9L737.2 1811.3L727.7 1797.5L717.6 1783.3L706.9 1768.7L695.6 1753.6L683.6 1738L670.8 1721.6L657.3 1704.5L643 1686.6L627.8 1667.8L611.6 1648L594.5 1627.1L576.4 1605L557.3 1581.7Z" fill="#4fbdd1"/>
<path d="M536.7 2144.5L557.5 2122.6L577.1 2102L595.8 2082.5L613.4 2064.2L630.3 2047L646.3 2030.9L661.6 2015.8L676.3 2001.7L690.4 1988.5L704.1 1976.3L717.4 1965L730.3 1954.6L743.1 1945L755.6 1936.1L768.1 1928L780.7 1920.6L793.3 1913.9L806.1 1907.7L819.2 1902.2L832.6 1897.2L846.4 1892.8L860.8 1888.8L875.7 1885.2L891.4 1882.1L907.8 1879.3L925.1 1876.9L943.3 1874.7L962.5 1872.8L982.8 1871.2L1004.2 1869.7L1026.9 1868.4L1050.9 1867.2L1076.4 1866.2L1103.3 1865.1L1131.8 1864.1L1161.9 1863L1161.6 1855L1131.5 1856.1L1103 1857.1L1076 1858.2L1050.6 1859.3L1026.5 1860.4L1003.7 1861.7L982.2 1863.2L961.8 1864.9L942.4 1866.8L924 1868.9L906.6 1871.4L889.9 1874.2L874 1877.4L858.8 1881L844.1 1885.1L829.9 1889.7L816.2 1894.8L802.8 1900.4L789.7 1906.7L776.7 1913.6L763.9 1921.2L751.2 1929.5L738.3 1938.5L725.4 1948.3L712.2 1958.9L698.8 1970.3L685 1982.6L670.8 1995.8L656 2010L640.6 2025.2L624.6 2041.4L607.7 2058.6L590 2077L571.3 2096.4L551.7 2117.1L530.9 2139Z" fill="#4fbdd1"/>
<path d="M458.1 2040L485.1 2026.7L510.6 2014.1L534.6 2002.1L557 1990.8L577.9 1980.1L597.3 1969.9L615.1 1960.2L631.4 1950.9L646.2 1942L659.5 1933.5L671.3 1925.3L681.6 1917.3L690.3 1909.4L697.6 1901.7L703.4 1894.1L707.7 1886.3L710.4 1878.5L711.4 1870.5L710.7 1862.6L708.3 1854.6L704.3 1846.8L698.8 1838.9L691.8 1830.9L683.3 1822.8L673.3 1814.4L661.9 1805.7L648.9 1796.7L634.4 1787.3L618.5 1777.4L601 1767.1L582 1756.2L561.6 1744.7L539.6 1732.5L516.1 1719.7L491.1 1706.1L464.5 1691.8L460.7 1698.9L487.2 1713.2L512.2 1726.7L535.7 1739.5L557.7 1751.6L578.1 1763.1L597 1774L614.3 1784.3L630.2 1794.1L644.4 1803.4L657.2 1812.2L668.4 1820.7L678 1828.7L686 1836.4L692.5 1843.8L697.5 1850.9L700.9 1857.6L702.8 1864.1L703.4 1870.4L702.6 1876.7L700.4 1883.1L696.7 1889.7L691.5 1896.5L684.8 1903.7L676.5 1911.1L666.5 1918.8L655.1 1926.8L642 1935.2L627.4 1944L611.2 1953.2L593.5 1962.8L574.2 1973L553.4 1983.7L531 1995L507.1 2006.9L481.6 2019.5L454.6 2032.9Z" fill="#4fbdd1"/>
<path d="M709.1 2235.1L716 2205.8L722.5 2178.1L728.6 2152.1L734.5 2127.8L740 2105.2L745.3 2084.2L750.3 2065L755.2 2047.4L759.8 2031.5L764.2 2017.3L768.5 2004.8L772.6 1994L776.7 1984.9L780.5 1977.6L784.3 1972.1L787.7 1968.3L790.7 1966.3L793.3 1965.7L795.8 1966.1L799 1967.9L802.7 1971.4L806.8 1976.7L811.2 1983.7L815.8 1992.5L820.7 2003L825.9 2015.2L831.3 2029L837 2044.5L843 2061.7L849.4 2080.6L856.1 2101.1L863.2 2123.3L870.8 2147.2L878.7 2172.7L887.1 2199.8L896 2228.6L903.7 2226.2L894.8 2197.4L886.4 2170.3L878.4 2144.8L870.9 2120.9L863.7 2098.7L857 2078.1L850.6 2059.2L844.5 2041.8L838.8 2026.2L833.3 2012.1L828 1999.7L823 1988.9L818.1 1979.8L813.4 1972.1L808.6 1966.1L803.8 1961.5L798.6 1958.6L793 1957.7L787.5 1959L782.5 1962.3L778 1967.1L773.7 1973.5L769.5 1981.5L765.2 1991L761 2002.1L756.6 2014.8L752.1 2029.2L747.5 2045.2L742.6 2062.9L737.6 2082.3L732.3 2103.3L726.7 2125.9L720.9 2150.3L714.7 2176.3L708.2 2203.9L701.3 2233.3Z" fill="#4fbdd1"/>
<path d="M419.6 1836.8L449.6 1840.1L477.9 1843.1L504.6 1846.1L529.8 1849.1L553.5 1852.1L575.8 1855.2L596.7 1858.3L616.4 1861.7L634.8 1865.2L652 1869.1L668.1 1873.2L683.1 1877.7L697.1 1882.6L710.2 1888L722.5 1893.8L733.9 1900.3L744.6 1907.3L754.6 1914.9L764.1 1923.3L773 1932.5L781.5 1942.5L789.6 1953.4L797.4 1965.2L804.9 1978L812.2 1991.9L819.4 2006.9L826.4 2023.1L833.4 2040.4L840.5 2059L847.6 2079L854.9 2100.3L862.4 2123L870.1 2147.1L878.2 2172.7L886.6 2199.9L895.6 2228.7L904.2 2226.1L895.2 2197.3L886.8 2170.1L878.7 2144.4L870.9 2120.2L863.4 2097.4L856.1 2076L848.9 2055.9L841.8 2037.2L834.7 2019.6L827.6 2003.2L820.3 1987.9L812.8 1973.7L805.1 1960.4L797 1948.2L788.6 1936.9L779.7 1926.4L770.3 1916.8L760.4 1908L749.8 1899.9L738.6 1892.6L726.6 1885.8L713.9 1879.7L700.3 1874.2L685.9 1869.1L670.5 1864.5L654.1 1860.3L636.6 1856.4L618 1852.8L598.2 1849.4L577.1 1846.2L554.7 1843.2L530.9 1840.2L505.7 1837.2L478.9 1834.2L450.6 1831.1L420.6 1827.9Z" fill="#4fbdd1"/>
<path d="M460.7 1698.9L487.3 1713.2L512.4 1726.7L536.2 1739.4L558.7 1751.4L580.1 1762.7L600.4 1773.3L619.8 1783.1L638.3 1792.3L656 1800.9L673 1808.8L689.4 1816.1L705.2 1822.9L720.7 1829L735.8 1834.7L750.7 1839.8L765.4 1844.4L780 1848.5L794.6 1852.2L809.4 1855.4L824.3 1858.2L839.5 1860.6L855.1 1862.6L871.2 1864.3L887.8 1865.6L905 1866.6L922.9 1867.3L941.7 1867.8L961.3 1868L982 1867.9L1003.7 1867.7L1026.6 1867.2L1050.8 1866.6L1076.3 1865.9L1103.3 1865L1131.8 1864.1L1161.9 1863L1161.6 1855L1131.5 1856.1L1103 1857L1076 1857.9L1050.6 1858.6L1026.4 1859.2L1003.6 1859.7L981.9 1859.9L961.3 1860L941.8 1859.8L923.2 1859.3L905.4 1858.6L888.3 1857.6L871.9 1856.3L856.1 1854.7L840.7 1852.7L825.7 1850.3L811 1847.6L796.5 1844.4L782 1840.8L767.6 1836.7L753.2 1832.2L738.5 1827.2L723.6 1821.6L708.3 1815.5L692.6 1808.8L676.3 1801.5L659.4 1793.7L641.8 1785.1L623.4 1776L604.1 1766.1L583.8 1755.6L562.5 1744.4L539.9 1732.4L516.2 1719.6L491.1 1706.1L464.5 1691.8Z" fill="#4fbdd1"/>
<path d="M550.7 1587.1L569.9 1610.4L588 1632.4L605.2 1653.2L621.6 1672.7L637.2 1691L652 1708.2L666.3 1724.3L680 1739.4L693.3 1753.3L706.2 1766.3L718.8 1778.3L731.2 1789.4L743.4 1799.6L755.6 1808.9L767.8 1817.4L780.1 1825L792.6 1831.9L805.3 1838.1L818.3 1843.6L831.8 1848.3L845.7 1852.5L860.1 1856L875.1 1859L890.9 1861.5L907.4 1863.4L924.7 1864.9L943 1866L962.2 1866.7L982.6 1867.1L1004.1 1867.2L1026.8 1866.9L1050.9 1866.5L1076.3 1865.8L1103.3 1865L1131.8 1864.1L1161.9 1863L1161.6 1855L1131.5 1856.1L1103 1857L1076.1 1857.8L1050.7 1858.5L1026.7 1858.9L1004 1859.2L982.6 1859.1L962.4 1858.7L943.3 1858L925.3 1857L908.2 1855.5L891.9 1853.5L876.5 1851.1L861.8 1848.2L847.8 1844.8L834.3 1840.7L821.2 1836.1L808.6 1830.8L796.3 1824.8L784.2 1818.1L772.2 1810.7L760.3 1802.4L748.4 1793.3L736.4 1783.3L724.2 1772.4L711.8 1760.6L699 1747.8L685.9 1733.9L672.2 1719L658.1 1703L643.2 1685.8L627.7 1667.5L611.4 1648.1L594.2 1627.3L576.1 1605.3L556.9 1582.1Z" fill="#4fbdd1"/>
<path d="M458.1 2040L485.1 2026.7L510.7 2014.2L534.9 2002.4L557.7 1991.5L579.2 1981.4L599.6 1972.1L618.9 1963.7L637.1 1956.2L654.3 1949.5L670.6 1943.8L686.1 1939L700.8 1935.1L714.8 1932.2L728.2 1930.2L741 1929.2L753.4 1929.2L765.3 1930.2L777 1932.1L788.5 1935.1L799.8 1939.2L811.1 1944.2L822.4 1950.4L833.8 1957.7L845.4 1966.1L857.2 1975.7L869.4 1986.4L881.9 1998.4L894.9 2011.5L908.4 2025.9L922.5 2041.4L937.2 2058.3L952.7 2076.4L969 2095.7L986.2 2116.4L1004.3 2138.3L1023.5 2161.6L1028.9 2157.2L1009.7 2133.9L991.6 2111.9L974.4 2091.2L958.1 2071.8L942.6 2053.7L927.8 2036.7L913.6 2021L900 2006.6L886.9 1993.3L874.3 1981.2L861.9 1970.2L849.8 1960.4L837.9 1951.7L826.2 1944.1L814.4 1937.6L802.6 1932.3L790.7 1928L778.6 1924.8L766.3 1922.7L753.7 1921.6L740.7 1921.6L727.3 1922.6L713.4 1924.6L699 1927.6L683.9 1931.5L668.1 1936.4L651.6 1942.2L634.1 1948.9L615.8 1956.4L596.4 1964.9L575.9 1974.2L554.3 1984.3L531.4 1995.2L507.2 2007L481.6 2019.5L454.6 2032.9Z" fill="#4fbdd1"/>
<path d="M599.3 1552.5L614 1578.8L628 1603.6L641.3 1627.1L654 1649.3L666 1670.3L677.6 1690.1L688.8 1708.8L699.5 1726.5L710 1743.2L720.2 1759L730.3 1773.9L740.3 1788.1L750.2 1801.5L760.1 1814.4L770.2 1826.6L780.4 1838.3L790.8 1849.5L801.5 1860.3L812.5 1870.8L824 1880.9L835.9 1890.9L848.3 1900.6L861.3 1910.3L875 1919.9L889.4 1929.6L904.5 1939.4L920.5 1949.3L937.4 1959.4L955.2 1969.8L974.1 1980.6L994.1 1991.8L1015.3 2003.5L1037.7 2015.8L1061.5 2028.7L1086.6 2042.3L1113.1 2056.6L1121.6 2040.7L1095.1 2026.4L1070 2012.8L1046.4 2000L1024 1987.7L1003 1976L983.1 1964.8L964.4 1954.1L946.7 1943.7L930 1933.7L914.3 1923.8L899.5 1914.2L885.5 1904.7L872.3 1895.3L859.7 1885.8L847.7 1876.3L836.3 1866.7L825.4 1856.9L814.8 1846.8L804.6 1836.3L794.7 1825.5L784.9 1814.2L775.3 1802.3L765.7 1789.9L756.1 1776.7L746.5 1762.9L736.6 1748.2L726.6 1732.6L716.4 1716.1L705.7 1698.6L694.7 1680L683.3 1660.3L671.3 1639.4L658.7 1617.3L645.4 1593.8L631.5 1569L616.7 1542.7Z" fill="#ae5395"/>
<path d="M601 1551.5L615.8 1577.8L629.8 1602.6L643 1626.1L655.7 1648.3L667.8 1669.3L679.4 1689.1L690.5 1707.8L701.2 1725.4L711.7 1742.1L721.9 1757.9L732 1772.8L741.9 1786.9L751.8 1800.3L761.7 1813.1L771.7 1825.3L781.9 1836.9L792.3 1848.1L802.9 1858.9L813.9 1869.3L825.3 1879.4L837.2 1889.3L849.5 1899.1L862.5 1908.7L876.1 1918.3L890.5 1927.9L905.6 1937.7L921.5 1947.6L938.4 1957.7L956.2 1968.1L975.1 1978.9L995.1 1990.1L1016.3 2001.8L1038.7 2014.1L1062.4 2026.9L1087.5 2040.5L1114.1 2054.8L1120.7 2042.5L1094.2 2028.2L1069.1 2014.6L1045.4 2001.7L1023.1 1989.5L1002 1977.8L982.1 1966.6L963.3 1955.8L945.7 1945.4L929 1935.4L913.3 1925.5L898.4 1915.9L884.4 1906.4L871.1 1896.9L858.5 1887.4L846.5 1877.9L835 1868.2L824 1858.3L813.4 1848.2L803.2 1837.7L793.2 1826.8L783.4 1815.5L773.7 1803.6L764.1 1791.1L754.5 1777.9L744.8 1764L735 1749.3L724.9 1733.7L714.7 1717.2L704 1699.6L693 1681L681.5 1661.3L669.5 1640.4L656.9 1618.3L643.7 1594.8L629.7 1570L615 1543.7Z" fill="#ae5395"/>
<path d="M434.2 1763.2L462.8 1772.6L489.9 1781.5L515.6 1790L539.9 1797.9L562.9 1805.4L584.8 1812.4L605.6 1819.1L625.4 1825.3L644.4 1831.2L662.5 1836.7L680 1842L696.8 1846.9L713.1 1851.5L729 1855.9L744.6 1860.1L759.9 1864L775 1867.7L790.2 1871.3L805.3 1874.7L820.6 1878L836.1 1881.2L851.9 1884.3L868.1 1887.4L884.8 1890.4L902 1893.4L920 1896.4L938.7 1899.4L958.3 1902.5L978.8 1905.6L1000.4 1908.9L1023.2 1912.2L1047.2 1915.7L1072.5 1919.3L1099.2 1923.2L1127.4 1927.2L1157.3 1931.5L1159.3 1917.6L1129.4 1913.3L1101.2 1909.3L1074.5 1905.4L1049.2 1901.8L1025.2 1898.3L1002.5 1894.9L981 1891.6L960.5 1888.4L941 1885.3L922.3 1882.2L904.5 1879.2L887.3 1876.1L870.7 1873L854.7 1869.9L839 1866.8L823.7 1863.5L808.6 1860.2L793.6 1856.7L778.6 1853.1L763.6 1849.3L748.5 1845.3L733 1841.1L717.3 1836.7L701.1 1832L684.4 1827.1L667.1 1821.8L649 1816.2L630.2 1810.3L610.4 1804L589.7 1797.3L567.8 1790.3L544.8 1782.7L520.6 1774.8L494.9 1766.4L467.8 1757.4L439.2 1748Z" fill="#ae5395"/>
<path d="M435 1760.8L463.6 1770.3L490.7 1779.2L516.4 1787.6L540.7 1795.5L563.7 1803L585.6 1810.1L606.4 1816.7L626.2 1823L645.1 1828.9L663.2 1834.4L680.6 1839.7L697.5 1844.6L713.7 1849.3L729.6 1853.7L745.1 1857.8L760.4 1861.8L775.6 1865.5L790.7 1869.1L805.8 1872.6L821 1875.9L836.5 1879.1L852.3 1882.2L868.5 1885.3L885.1 1888.3L902.4 1891.3L920.3 1894.3L939 1897.4L958.6 1900.4L979.2 1903.6L1000.7 1906.8L1023.5 1910.2L1047.4 1913.7L1072.7 1917.4L1099.5 1921.2L1127.7 1925.2L1157.6 1929.5L1159 1919.6L1129.1 1915.3L1100.9 1911.3L1074.2 1907.4L1048.9 1903.8L1024.9 1900.3L1002.2 1896.9L980.7 1893.6L960.2 1890.4L940.6 1887.3L922 1884.3L904.1 1881.2L886.9 1878.2L870.3 1875.2L854.3 1872.1L838.6 1868.9L823.2 1865.7L808.1 1862.4L793.1 1858.9L778.1 1855.3L763.1 1851.5L747.9 1847.6L732.4 1843.4L716.7 1839L700.5 1834.3L683.7 1829.4L666.4 1824.1L648.3 1818.5L629.4 1812.6L609.7 1806.3L588.9 1799.7L567.1 1792.6L544.1 1785.1L519.8 1777.2L494.1 1768.7L467 1759.8L438.4 1750.4Z" fill="#ae5395"/>
<path d="M732.9 1504.2L736.6 1534.2L740.1 1562.5L743.6 1589.3L746.9 1614.6L750.2 1638.6L753.5 1661.3L756.8 1682.8L760.1 1703.3L763.5 1722.7L767.1 1741.2L770.8 1758.8L774.8 1775.7L778.9 1792L783.4 1807.6L788.1 1822.7L793.2 1837.4L798.7 1851.7L804.6 1865.7L811 1879.6L817.8 1893.3L825.1 1907L833 1920.7L841.5 1934.5L850.5 1948.6L860.2 1962.9L870.6 1977.6L881.7 1992.8L893.5 2008.5L906.2 2024.9L919.6 2042L933.9 2059.9L949.1 2078.8L965.3 2098.6L982.4 2119.5L1000.5 2141.5L1019.6 2164.8L1032.7 2154L1013.6 2130.7L995.6 2108.7L978.5 2087.8L962.5 2067.9L947.4 2049.1L933.3 2031.2L920.1 2014.1L907.7 1997.8L896.2 1982.2L885.4 1967.1L875.4 1952.6L866.1 1938.4L857.4 1924.6L849.4 1911.1L842 1897.7L835.2 1884.5L828.9 1871.2L823 1857.8L817.6 1844.3L812.6 1830.5L807.9 1816.3L803.5 1801.7L799.5 1786.6L795.6 1770.8L792 1754.3L788.6 1737L785.3 1718.8L782.1 1699.6L778.9 1679.4L775.8 1658.1L772.7 1635.5L769.5 1611.6L766.3 1586.3L762.9 1559.6L759.4 1531.3L755.7 1501.4Z" fill="#ae5395"/>
<path d="M492.5 2095.3L516.8 2077.5L539.7 2060.6L561.3 2044.9L581.7 2030.2L600.8 2016.7L618.8 2004.2L635.6 1992.9L651.4 1982.8L666.1 1973.8L679.8 1966.1L692.5 1959.5L704.3 1954.2L715.1 1950.2L725.1 1947.5L734.2 1946L742.5 1945.7L750 1946.7L756.9 1948.9L763.2 1952.4L769.1 1957.2L774.6 1963.4L779.8 1971L784.7 1980.2L789.2 1990.8L793.4 2003L797.4 2016.7L801.2 2032L804.8 2048.8L808.2 2067.2L811.6 2087.2L814.9 2108.8L818.2 2132.1L821.6 2156.9L825 2183.5L828.5 2211.7L832.2 2241.6L839.2 2240.8L835.5 2210.8L831.9 2182.6L828.5 2156L825.2 2131.1L821.8 2107.8L818.5 2086.1L815.1 2066L811.7 2047.4L808 2030.4L804.2 2014.9L800.1 2000.9L795.7 1988.3L791 1977.2L785.8 1967.4L780.2 1959.1L774 1952.1L767.1 1946.6L759.6 1942.5L751.5 1939.9L742.8 1938.7L733.5 1939L723.6 1940.6L712.9 1943.6L701.6 1947.8L689.4 1953.2L676.4 1959.9L662.5 1967.8L647.7 1976.8L631.8 1987.1L614.9 1998.4L596.8 2010.9L577.6 2024.5L557.2 2039.2L535.6 2055L512.6 2071.8L488.3 2089.7Z" fill="#ae5395"/>
<path d="M492.5 2095.3L516.8 2077.5L539.7 2060.6L561.5 2044.7L582.1 2029.8L601.7 2015.8L620.3 2002.7L638 1990.5L655 1979.2L671.2 1968.7L686.8 1959.1L701.8 1950.3L716.4 1942.3L730.7 1935L744.6 1928.5L758.4 1922.6L772 1917.5L785.7 1913.1L799.4 1909.3L813.2 1906.1L827.3 1903.5L841.8 1901.5L856.7 1900.1L872.1 1899.2L888 1898.9L904.7 1899L922.2 1899.6L940.5 1900.7L959.7 1902.2L980 1904.1L1001.4 1906.4L1024 1909.1L1047.8 1912.2L1073.1 1915.6L1099.8 1919.3L1128 1923.2L1157.8 1927.5L1158.7 1921.6L1128.8 1917.3L1100.6 1913.3L1073.9 1909.6L1048.6 1906.2L1024.7 1903.1L1002.1 1900.4L980.6 1898L960.3 1896.1L940.9 1894.5L922.5 1893.4L904.9 1892.8L888 1892.6L871.8 1892.9L856.2 1893.8L841.1 1895.2L826.3 1897.2L811.9 1899.8L797.8 1903L783.8 1906.8L769.9 1911.3L755.9 1916.5L741.9 1922.4L727.7 1929L713.3 1936.3L698.5 1944.4L683.3 1953.3L667.5 1963L651.2 1973.5L634.2 1984.8L616.3 1997L597.7 2010.1L578.1 2024.1L557.4 2039.1L535.6 2054.9L512.6 2071.8L488.3 2089.7Z" fill="#ae5395"/>
<path d="M492.5 2095.3L516.8 2077.5L539.7 2060.5L561.3 2044.5L581.5 2029.3L600.4 2014.8L618.1 2001L634.4 1987.8L649.5 1975.1L663.4 1962.8L676 1950.9L687.4 1939.4L697.7 1928L706.7 1916.8L714.6 1905.6L721.3 1894.4L726.8 1883.1L731.2 1871.7L734.4 1860L736.5 1848.1L737.4 1835.8L737.2 1823.2L735.9 1810.2L733.6 1796.7L730.1 1782.6L725.7 1767.9L720.2 1752.5L713.7 1736.4L706.2 1719.4L697.8 1701.5L688.5 1682.6L678.2 1662.7L667 1641.6L654.8 1619.4L641.8 1595.8L628 1570.9L613.2 1544.6L602.8 1550.5L617.5 1576.8L631.4 1601.6L644.4 1625.1L656.6 1647.3L667.8 1668.2L678.1 1687.9L687.5 1706.6L695.9 1724.1L703.4 1740.8L709.9 1756.5L715.3 1771.4L719.8 1785.5L723.3 1798.9L725.7 1811.7L727.1 1823.9L727.5 1835.6L726.9 1847L725.2 1858L722.4 1868.8L718.5 1879.5L713.4 1890.2L707.3 1900.9L699.9 1911.7L691.3 1922.6L681.5 1933.8L670.4 1945.3L658.1 1957.1L644.5 1969.3L629.7 1982L613.5 1995.2L596 2009.1L577.2 2023.6L557 2038.8L535.5 2054.9L512.6 2071.8L488.3 2089.7Z" fill="#ae5395"/>
<path d="M419.2 1901.9L449.3 1899.8L477.7 1897.9L504.5 1896.2L529.8 1894.7L553.7 1893.5L576.2 1892.6L597.3 1892L617.3 1891.9L636 1892.2L653.6 1892.9L670.2 1894.2L685.8 1896L700.5 1898.4L714.3 1901.4L727.4 1905.1L739.8 1909.4L751.6 1914.5L762.9 1920.3L773.6 1926.9L784.1 1934.4L794.2 1942.7L804 1952L813.8 1962.3L823.4 1973.7L833 1986.1L842.7 1999.6L852.5 2014.3L862.4 2030.1L872.6 2047.2L883.1 2065.6L894 2085.3L905.3 2106.3L917.2 2128.7L929.7 2152.6L942.8 2177.9L956.6 2204.6L964.6 2200.5L950.7 2173.7L937.6 2148.4L925.2 2124.6L913.3 2102.1L901.9 2081L890.9 2061.2L880.3 2042.8L870 2025.5L859.9 2009.5L849.9 1994.6L840.1 1980.8L830.2 1968.2L820.2 1956.5L810.2 1945.9L799.9 1936.3L789.3 1927.6L778.4 1919.8L767 1912.9L755.2 1906.8L742.9 1901.5L729.9 1897.1L716.3 1893.3L702 1890.3L686.9 1887.8L671 1886L654.1 1884.8L636.2 1884L617.3 1883.8L597.2 1883.9L575.9 1884.5L553.3 1885.4L529.4 1886.7L504 1888.2L477.1 1889.9L448.7 1891.9L418.6 1894Z" fill="#ae5395"/>
<path d="M419.2 1901.9L449.3 1899.8L477.7 1897.8L504.7 1895.9L530.2 1894.1L554.3 1892.3L577.2 1890.6L599 1889L619.7 1887.3L639.5 1885.7L658.4 1884.1L676.5 1882.4L693.9 1880.8L710.8 1879.1L727.1 1877.3L743.1 1875.5L758.8 1873.6L774.3 1871.6L789.6 1869.4L805 1867.2L820.4 1864.8L836 1862.3L851.9 1859.6L868.1 1856.8L884.8 1853.8L902 1850.5L919.8 1847.1L938.4 1843.4L957.9 1839.5L978.2 1835.3L999.6 1830.8L1022.1 1826.1L1045.8 1821.1L1070.8 1815.8L1097.2 1810.1L1125.1 1804.1L1154.6 1797.8L1152.9 1790L1123.4 1796.3L1095.5 1802.3L1069.1 1808L1044.1 1813.3L1020.4 1818.3L997.9 1823L976.6 1827.5L956.3 1831.6L936.9 1835.5L918.3 1839.2L900.5 1842.7L883.3 1845.9L866.7 1848.9L850.5 1851.8L834.7 1854.4L819.2 1856.9L803.8 1859.3L788.5 1861.5L773.2 1863.6L757.8 1865.6L742.2 1867.5L726.3 1869.4L709.9 1871.1L693.1 1872.8L675.7 1874.5L657.6 1876.1L638.8 1877.7L619.1 1879.4L598.4 1881L576.6 1882.7L553.7 1884.4L529.6 1886.1L504.1 1888L477.2 1889.9L448.7 1891.9L418.6 1894Z" fill="#ae5395"/>
<path d="M711.5 2235.7L718.4 2206.3L724.9 2178.7L731.2 2152.6L737.1 2128.2L742.9 2105.4L748.6 2084.1L754.2 2064.4L759.7 2046.3L765.2 2029.7L770.9 2014.5L776.6 2000.9L782.4 1988.7L788.4 1978L794.7 1968.6L801.2 1960.7L808 1954.1L815.1 1948.8L822.7 1944.6L830.8 1941.6L839.5 1939.7L849 1938.8L859.3 1939.1L870.5 1940.5L882.6 1943L895.6 1946.6L909.7 1951.3L924.8 1957L941 1963.8L958.3 1971.7L976.8 1980.5L996.5 1990.3L1017.5 2001.1L1039.8 2012.7L1063.4 2025.3L1088.5 2038.8L1115 2053.1L1119.7 2044.3L1093.2 2029.9L1068.1 2016.5L1044.5 2003.8L1022.1 1992.1L1001.1 1981.2L981.3 1971.3L962.7 1962.3L945.2 1954.3L928.8 1947.3L913.3 1941.3L898.8 1936.4L885.2 1932.5L872.3 1929.8L860.2 1928.1L848.7 1927.7L837.9 1928.5L827.6 1930.6L818 1934.1L808.9 1938.9L800.4 1945.1L792.5 1952.6L785.1 1961.5L778.2 1971.6L771.6 1983L765.3 1995.8L759.3 2009.9L753.4 2025.5L747.7 2042.4L742 2060.8L736.3 2080.7L730.5 2102.1L724.6 2125.1L718.6 2149.6L712.3 2175.7L705.8 2203.4L698.9 2232.7Z" fill="#ae5395"/>
<path d="M710.1 2235.3L716.9 2206L723.4 2178.3L729.5 2152.4L735.3 2128L740.8 2105.4L745.9 2084.5L750.7 2065.3L755.3 2047.7L759.5 2031.9L763.6 2017.7L767.3 2005.3L770.9 1994.5L774.3 1985.6L777.4 1978.3L780.2 1972.9L782.7 1969.5L784.4 1967.9L784.9 1967.7L785.4 1967.9L787.1 1969.5L789.3 1973.2L791.7 1978.9L794.1 1986.4L796.6 1995.7L799.1 2006.8L801.7 2019.5L804.3 2034L806.9 2050.2L809.7 2068.2L812.5 2087.8L815.4 2109.2L818.5 2132.2L821.7 2157L825 2183.5L828.5 2211.7L832.2 2241.6L839.2 2240.8L835.5 2210.8L832 2182.6L828.7 2156.1L825.5 2131.3L822.5 2108.2L819.6 2086.8L816.9 2067.1L814.2 2049.1L811.6 2032.8L809.1 2018.2L806.6 2005.2L804.2 1993.9L801.7 1984.2L799.2 1976.2L796.6 1969.7L793.7 1964.7L790.2 1961L785.3 1959.2L780.3 1960.3L776.2 1963.6L772.7 1968.3L769.3 1974.4L765.8 1982.1L762.2 1991.4L758.5 2002.4L754.5 2015L750.4 2029.3L746 2045.2L741.3 2062.8L736.4 2082.1L731.2 2103.1L725.7 2125.7L719.9 2150.1L713.7 2176.1L707.2 2203.7L700.3 2233.1Z" fill="#ae5395"/>
<path d="M709.6 2235.2L716.5 2205.9L723 2178.2L729.1 2152.2L735 2127.9L740.6 2105.3L746 2084.3L751.2 2064.9L756.2 2047.3L761 2031.3L765.8 2017L770.4 2004.3L775.1 1993.3L779.6 1984L784.1 1976.4L788.6 1970.5L792.9 1966.4L797.1 1963.8L801.2 1962.6L805.5 1962.6L810.2 1964.1L815.5 1967L821.4 1971.6L827.7 1977.8L834.5 1985.7L841.7 1995.2L849.4 2006.3L857.5 2019.1L866.2 2033.4L875.4 2049.2L885.2 2066.7L895.6 2085.7L906.6 2106.3L918.2 2128.5L930.6 2152.2L943.6 2177.4L957.5 2204.2L963.7 2201L949.9 2174.2L936.8 2148.9L924.5 2125.2L912.8 2103L901.8 2082.4L891.5 2063.3L881.7 2045.7L872.5 2029.7L863.7 2015.2L855.5 2002.3L847.7 1990.9L840.3 1981L833.3 1972.7L826.5 1965.9L819.9 1960.6L813.4 1956.9L806.8 1954.8L800.2 1954.6L793.9 1956.4L787.9 1959.9L782.4 1965.1L777.2 1971.8L772.2 1980L767.3 1989.8L762.5 2001.2L757.6 2014.1L752.8 2028.7L747.8 2044.8L742.7 2062.6L737.4 2082L732 2103.1L726.3 2125.8L720.4 2150.1L714.2 2176.2L707.7 2203.8L700.8 2233.2Z" fill="#ae5395"/>
<path d="M964.6 2200.5L950.8 2173.7L937.6 2148.4L925.2 2124.5L913.3 2101.9L902 2080.6L891.1 2060.6L880.6 2041.7L870.4 2023.9L860.4 2007.2L850.6 1991.5L841 1976.7L831.3 1962.9L821.6 1949.8L811.9 1937.5L801.9 1925.9L791.7 1915L781.3 1904.7L770.4 1895L759.1 1885.7L747.3 1876.9L735 1868.5L722 1860.4L708.4 1852.6L694 1845.1L678.8 1837.7L662.7 1830.4L645.6 1823.1L627.6 1815.9L608.5 1808.5L588.2 1801.1L566.7 1793.4L543.9 1785.5L519.7 1777.3L494.1 1768.8L467 1759.8L438.4 1750.4L435 1760.8L463.6 1770.3L490.7 1779.2L516.2 1787.7L540.3 1795.9L563.1 1803.7L584.5 1811.3L604.7 1818.6L623.7 1825.9L641.6 1833L658.4 1840.1L674.3 1847.2L689.3 1854.4L703.4 1861.8L716.8 1869.3L729.4 1877.1L741.5 1885.2L752.9 1893.7L763.9 1902.6L774.5 1912L784.7 1921.9L794.7 1932.5L804.4 1943.7L814 1955.7L823.6 1968.4L833.1 1982L842.7 1996.6L852.5 2012.1L862.4 2028.6L872.6 2046.2L883.1 2065L894 2084.9L905.3 2106.1L917.2 2128.7L929.6 2152.5L942.8 2177.9L956.6 2204.6Z" fill="#ae5395"/>
<path d="M839.2 2240.8L835.5 2210.8L832 2182.6L828.9 2155.9L826.1 2130.8L823.6 2107.2L821.6 2085L820.1 2064.2L819 2044.7L818.5 2026.5L818.5 2009.5L819.2 1993.6L820.5 1978.9L822.5 1965.2L825.2 1952.5L828.7 1940.8L833 1929.9L838.1 1919.8L844 1910.4L850.9 1901.7L858.8 1893.6L867.7 1886L877.6 1878.8L888.7 1872.1L901 1865.7L914.5 1859.6L929.2 1853.8L945.3 1848.1L962.6 1842.7L981.4 1837.3L1001.6 1831.9L1023.2 1826.5L1046.3 1821.1L1070.9 1815.5L1097.2 1809.7L1125 1803.7L1154.4 1797.3L1153 1790.5L1123.5 1796.8L1095.7 1802.9L1069.4 1808.6L1044.7 1814.3L1021.5 1819.7L999.8 1825.1L979.5 1830.5L960.6 1836L943.1 1841.5L926.8 1847.2L911.8 1853.2L897.9 1859.4L885.3 1866L873.8 1873L863.3 1880.4L854 1888.5L845.7 1897.1L838.3 1906.4L832 1916.3L826.6 1927L822.1 1938.5L818.4 1950.8L815.6 1964L813.5 1978.1L812.2 1993.2L811.5 2009.3L811.5 2026.6L812 2045L813.1 2064.6L814.7 2085.6L816.7 2107.9L819.1 2131.6L821.9 2156.7L825.1 2183.4L828.5 2211.7L832.2 2241.6Z" fill="#ae5395"/>
<path d="M588.5 2184.7L605.1 2159.6L620.8 2135.8L635.8 2113.5L649.9 2092.6L663.4 2073.1L676.3 2054.9L688.7 2038.1L700.6 2022.7L712 2008.5L723.1 1995.7L733.9 1984.1L744.5 1973.9L754.9 1964.8L765.2 1957.1L775.4 1950.5L785.7 1945.1L796 1940.9L806.5 1937.7L817.3 1935.7L828.4 1934.7L839.9 1934.8L852 1935.9L864.7 1938L878 1941.1L892.1 1945.3L907 1950.5L922.8 1956.7L939.5 1963.8L957.2 1971.9L975.9 1980.9L995.8 1990.9L1016.9 2001.8L1039.3 2013.5L1062.9 2026.2L1088 2039.6L1114.5 2053.9L1120.2 2043.4L1093.7 2029.1L1068.6 2015.6L1044.8 2003L1022.4 1991.2L1001.2 1980.4L981.1 1970.4L962.1 1961.4L944.1 1953.3L927.1 1946.1L910.9 1939.9L895.5 1934.7L880.8 1930.5L866.8 1927.4L853.3 1925.3L840.4 1924.3L827.9 1924.4L815.8 1925.6L804.1 1928L792.7 1931.6L781.5 1936.4L770.6 1942.3L759.8 1949.4L749.1 1957.7L738.4 1967.2L727.5 1977.9L716.6 1989.9L705.4 2003L693.9 2017.4L682 2033.1L669.6 2050.1L656.7 2068.4L643.2 2088L629.1 2109L614.1 2131.4L598.4 2155.2L581.8 2180.3Z" fill="#ae5395"/>
<path d="M588.5 2184.7L605.1 2159.6L620.8 2135.9L635.6 2113.6L649.5 2092.8L662.6 2073.5L674.9 2055.7L686.4 2039.3L697.2 2024.5L707.3 2011.1L716.7 1999.3L725.5 1989L733.7 1980.3L741.2 1973.1L748.1 1967.6L754.4 1963.5L760 1961.1L764.9 1960.1L769.3 1960.4L773.4 1962L777.5 1965L781.5 1969.7L785.4 1976.1L789.2 1984.2L792.9 1993.9L796.4 2005.4L799.7 2018.5L803 2033.2L806.2 2049.7L809.3 2067.8L812.5 2087.5L815.6 2109L818.8 2132.1L822.1 2156.9L825.5 2183.4L829 2211.6L832.7 2241.5L838.7 2240.8L835 2210.9L831.5 2182.7L828.1 2156.2L824.8 2131.3L821.7 2108.1L818.5 2086.6L815.4 2066.8L812.3 2048.6L809.2 2032L805.9 2017L802.6 2003.6L799.1 1991.9L795.3 1981.6L791.3 1973L787 1965.8L782.2 1960.1L776.9 1956L770.9 1953.6L764.5 1953L757.8 1954.2L750.9 1957.1L743.8 1961.6L736.3 1967.6L728.3 1975L719.9 1984L710.9 1994.5L701.3 2006.4L691 2019.8L680.1 2034.8L668.5 2051.2L656.1 2069L642.9 2088.4L628.9 2109.2L614.1 2131.4L598.4 2155.2L581.8 2180.3Z" fill="#ae5395"/>
<path d="M435.1 1760.3L463.8 1769.8L490.8 1778.7L516.3 1787.3L540.4 1795.4L563 1803.3L584.4 1810.9L604.4 1818.3L623.2 1825.7L640.8 1832.9L657.3 1840.1L672.7 1847.4L687.1 1854.8L700.6 1862.4L713.3 1870.2L725.1 1878.3L736.2 1886.8L746.6 1895.7L756.4 1905L765.6 1914.9L774.3 1925.4L782.7 1936.6L790.6 1948.6L798.3 1961.3L805.7 1974.9L812.9 1989.5L820 2005.1L827 2021.7L834 2039.4L841 2058.3L848.1 2078.5L855.4 2099.9L862.8 2122.7L870.6 2146.9L878.7 2172.6L887.1 2199.8L896 2228.6L903.7 2226.2L894.8 2197.4L886.3 2170.2L878.2 2144.5L870.5 2120.2L863 2097.3L855.8 2075.8L848.7 2055.5L841.7 2036.5L834.7 2018.6L827.7 2001.7L820.5 1985.9L813.3 1971L805.7 1957.1L798 1944L789.8 1931.6L781.3 1920L772.3 1909.1L762.8 1898.7L752.7 1889L742 1879.7L730.5 1870.9L718.4 1862.4L705.4 1854.3L691.6 1846.5L676.9 1838.9L661.3 1831.4L644.6 1824L626.8 1816.6L607.9 1809.2L587.7 1801.7L566.3 1794L543.6 1786L519.5 1777.8L494 1769.3L466.9 1760.3L438.2 1750.8Z" fill="#ae5395"/>
<path d="M460.7 1698.9L487.3 1713.2L512.3 1726.7L536 1739.6L558.4 1751.9L579.5 1763.5L599.4 1774.7L618.2 1785.5L635.9 1795.8L652.5 1805.9L668.3 1815.7L683.1 1825.4L697.2 1835L710.5 1844.5L723.1 1854L735 1863.6L746.5 1873.4L757.4 1883.4L767.9 1893.7L778.1 1904.3L787.9 1915.4L797.5 1927L807 1939.1L816.4 1951.8L825.7 1965.2L835.1 1979.4L844.5 1994.4L854.1 2010.3L864 2027.2L874.1 2045L884.5 2064L895.4 2084.1L906.7 2105.4L918.5 2127.9L931 2151.8L944.1 2177.2L957.9 2204L963.2 2201.2L949.4 2174.4L936.3 2149.1L923.9 2125.1L912 2102.5L900.7 2081.2L889.9 2061L879.5 2042L869.4 2024.1L859.6 2007.1L850 1991.1L840.5 1975.9L831.1 1961.6L821.8 1948L812.3 1935L802.8 1922.7L793.1 1911L783.2 1899.7L772.9 1888.8L762.3 1878.3L751.2 1868.1L739.7 1858.1L727.6 1848.2L714.9 1838.5L701.5 1828.8L687.3 1819.1L672.4 1809.3L656.6 1799.4L639.8 1789.2L622.1 1778.7L603.3 1767.9L583.3 1756.6L562.2 1744.9L539.8 1732.6L516.1 1719.7L491.1 1706.1L464.5 1691.8Z" fill="#ae5395"/>
<path d="M419.6 1837.3L449.6 1840.5L477.8 1843.6L504.5 1846.6L529.5 1849.6L552.9 1852.6L574.8 1855.7L595.2 1858.9L614.1 1862.2L631.5 1865.8L647.6 1869.7L662.2 1873.8L675.5 1878.4L687.5 1883.3L698.2 1888.6L707.6 1894.5L715.9 1900.8L723 1907.7L729.1 1915.2L734.2 1923.4L738.3 1932.5L741.6 1942.3L744 1953.2L745.5 1965L746.2 1978L746.1 1992L745.1 2007.2L743.5 2023.6L741.1 2041.2L738 2060.2L734.3 2080.5L730 2102.2L725.1 2125.3L719.6 2149.9L713.6 2176L707.2 2203.7L700.3 2233.1L710.1 2235.3L716.9 2206L723.4 2178.2L729.3 2152.1L734.8 2127.4L739.8 2104.2L744.1 2082.4L747.9 2061.9L751 2042.7L753.4 2024.8L755.1 2008L756 1992.3L756.2 1977.7L755.4 1964.1L753.8 1951.5L751.2 1939.7L747.6 1928.8L743 1918.7L737.2 1909.4L730.4 1900.9L722.4 1893.2L713.3 1886.2L703 1879.9L691.6 1874.2L679 1869L665.2 1864.3L650.1 1860L633.7 1856.1L616 1852.4L596.8 1849L576.3 1845.8L554.3 1842.7L530.7 1839.7L505.6 1836.7L478.9 1833.7L450.6 1830.6L420.7 1827.4Z" fill="#ae5395"/>
<path d="M550 1587.8L569.1 1611.1L587.2 1633.1L604.3 1654L620.4 1673.7L635.5 1692.5L649.7 1710.4L663.1 1727.4L675.6 1743.7L687.3 1759.3L698.2 1774.3L708.4 1788.8L718 1803L726.8 1816.8L735 1830.3L742.7 1843.7L749.8 1857L756.4 1870.4L762.5 1883.8L768.2 1897.4L773.5 1911.4L778.4 1925.6L783 1940.4L787.3 1955.7L791.4 1971.6L795.2 1988.2L798.8 2005.6L802.3 2023.8L805.7 2043.1L809 2063.4L812.2 2084.8L815.5 2107.4L818.7 2131.3L822.1 2156.6L825.5 2183.3L829 2211.6L832.7 2241.5L838.7 2240.8L835 2210.9L831.5 2182.6L828.1 2155.8L824.8 2130.5L821.6 2106.5L818.5 2083.9L815.3 2062.4L812.1 2042L808.9 2022.7L805.5 2004.3L801.9 1986.7L798.2 1969.9L794.3 1953.8L790.1 1938.3L785.6 1923.3L780.7 1908.8L775.5 1894.6L769.9 1880.6L763.8 1866.9L757.2 1853.2L750.2 1839.6L742.5 1825.9L734.3 1812.1L725.5 1798.1L716 1783.7L705.8 1769L694.9 1753.7L683.2 1738L670.7 1721.5L657.3 1704.4L643.1 1686.4L628 1667.6L612 1647.7L594.9 1626.8L576.8 1604.7L557.7 1581.4Z" fill="#ae5395"/>
<path d="M536.7 2144.5L557.5 2122.6L577.1 2102L595.8 2082.6L613.5 2064.3L630.3 2047.2L646.3 2031.2L661.6 2016.3L676.3 2002.5L690.4 1989.7L704.1 1977.9L717.3 1967.1L730.3 1957.3L742.9 1948.4L755.5 1940.3L767.9 1933.2L780.3 1926.8L792.8 1921.3L805.5 1916.5L818.4 1912.5L831.7 1909.2L845.3 1906.5L859.5 1904.5L874.3 1903.1L889.8 1902.3L906 1902.1L923.1 1902.4L941.1 1903.2L960.1 1904.5L980.2 1906.3L1001.4 1908.5L1023.9 1911.2L1047.7 1914.2L1072.8 1917.6L1099.5 1921.2L1127.7 1925.2L1157.6 1929.5L1159 1919.6L1129.1 1915.3L1100.9 1911.4L1074.2 1907.7L1048.9 1904.3L1025.1 1901.4L1002.5 1898.8L981.1 1896.6L960.8 1894.8L941.6 1893.5L923.4 1892.8L906 1892.5L889.5 1892.8L873.6 1893.7L858.4 1895.2L843.8 1897.4L829.6 1900.2L815.9 1903.8L802.5 1908L789.4 1913.1L776.5 1918.9L763.7 1925.5L750.9 1932.9L738.1 1941.2L725.2 1950.4L712.1 1960.5L698.7 1971.5L684.9 1983.5L670.7 1996.5L655.9 2010.4L640.6 2025.4L624.5 2041.5L607.7 2058.7L590 2077L571.3 2096.4L551.7 2117.1L530.9 2139Z" fill="#ae5395"/>
<path d="M458.1 2040L485.1 2026.7L510.7 2014.1L534.7 2002.1L557.3 1990.7L578.4 1979.8L598.1 1969.4L616.4 1959.3L633.3 1949.6L648.8 1940.1L663 1930.7L675.9 1921.5L687.5 1912.3L697.8 1903.1L706.9 1893.8L714.7 1884.2L721.3 1874.4L726.7 1864.2L730.8 1853.6L733.6 1842.7L735.2 1831.2L735.6 1819.3L734.8 1806.9L732.8 1793.9L729.7 1780.3L725.5 1766.1L720.3 1751L714 1735.2L706.7 1718.4L698.4 1700.7L689.2 1681.9L678.9 1662.1L667.8 1641.1L655.7 1618.9L642.7 1595.3L628.8 1570.4L614.1 1544.1L601.9 1551L616.6 1577.3L630.5 1602.1L643.5 1625.5L655.6 1647.6L666.8 1668.5L677.1 1688.1L686.4 1706.6L694.7 1723.9L702 1740.2L708.3 1755.6L713.5 1770L717.7 1783.6L720.8 1796.3L722.9 1808.3L723.9 1819.7L723.8 1830.4L722.6 1840.6L720.3 1850.4L716.9 1859.8L712.3 1869.1L706.5 1878.1L699.4 1887.1L691 1896.1L681.3 1905.1L670.2 1914.1L657.8 1923.2L644 1932.5L628.8 1942.1L612.1 1951.8L594 1962L574.5 1972.5L553.5 1983.4L531.1 1994.9L507.1 2006.9L481.6 2019.5L454.6 2032.9Z" fill="#ae5395"/>
<path d="M419.6 1836.8L449.6 1840L477.9 1843L504.4 1845.8L529.3 1848.4L552.5 1850.7L574 1852.7L593.9 1854.5L612 1855.9L628.6 1857L643.5 1857.8L656.7 1858.2L668.4 1858.2L678.4 1857.8L686.9 1857L694 1855.7L699.7 1853.8L704.2 1850.8L707.1 1846.3L707.3 1840.9L705.3 1835.9L701.6 1831.1L696.5 1826L690 1820.5L681.9 1814.5L672.3 1808L661.1 1800.8L648.4 1793L634.2 1784.6L618.4 1775.5L601 1765.7L582.1 1755.2L561.7 1743.9L539.8 1731.9L516.3 1719.2L491.3 1705.7L464.8 1691.4L460.5 1699.3L487 1713.6L512 1727.1L535.5 1739.9L557.4 1751.8L577.8 1763L596.6 1773.5L613.9 1783.3L629.6 1792.3L643.8 1800.7L656.4 1808.4L667.3 1815.5L676.7 1821.9L684.4 1827.6L690.5 1832.7L694.9 1837.1L697.5 1840.5L698.5 1842.8L698.5 1843.6L698.1 1844.3L696 1845.6L691.8 1847L685.7 1848.1L677.8 1848.9L668.2 1849.2L656.9 1849.2L643.8 1848.8L629.1 1848L612.7 1846.9L594.6 1845.5L574.8 1843.8L553.4 1841.7L530.2 1839.4L505.4 1836.9L478.8 1834.1L450.6 1831.1L420.6 1827.9Z" fill="#ae5395"/>
<path d="M435.3 1759.9L463.9 1769.3L490.9 1778.2L516.2 1786.6L539.9 1794.6L562 1802.1L582.4 1809.3L601.1 1816L618.2 1822.4L633.7 1828.4L647.4 1834.1L659.5 1839.6L669.9 1844.7L678.6 1849.6L685.6 1854.3L690.8 1858.6L694.2 1862.5L696 1865.8L696.5 1868.6L695.9 1871.4L693.9 1874.7L690.2 1878.4L684.7 1882.3L677.4 1886.5L668.4 1890.8L657.6 1895.2L645.2 1899.8L631 1904.6L615.2 1909.5L597.7 1914.7L578.5 1920.1L557.7 1925.7L535.1 1931.7L510.9 1937.9L485 1944.5L457.5 1951.5L428.3 1958.9L430.2 1966.6L459.4 1959.3L487 1952.3L512.9 1945.7L537.2 1939.5L559.7 1933.5L580.7 1927.9L599.9 1922.5L617.6 1917.3L633.5 1912.3L647.9 1907.6L660.6 1902.9L671.7 1898.4L681.2 1893.9L689.1 1889.4L695.5 1884.8L700.4 1880L703.7 1874.7L705 1868.9L704.1 1863.1L701.3 1857.5L696.8 1852.3L690.7 1847.3L683.1 1842.2L674 1837L663.3 1831.6L650.9 1826L637 1820.2L621.4 1814.1L604.2 1807.6L585.4 1800.8L564.9 1793.7L542.8 1786.1L519.1 1778.1L493.7 1769.7L466.7 1760.8L438.1 1751.3Z" fill="#ae5395"/>
<path d="M430.1 1966.1L459.3 1958.8L486.9 1951.9L512.8 1945.5L537.1 1939.5L559.8 1934.1L580.8 1929.2L600.3 1924.9L618.2 1921.1L634.4 1918L649.2 1915.5L662.3 1913.7L673.9 1912.5L683.9 1912L692.3 1912.2L699.1 1913.1L704.2 1914.7L707.6 1916.6L709.6 1918.9L710.6 1921.8L710.6 1925.8L709.4 1930.9L706.8 1937.3L702.9 1944.7L697.5 1953.1L690.8 1962.6L682.7 1973.1L673.3 1984.7L662.5 1997.3L650.5 2011L637.1 2025.8L622.5 2041.8L606.7 2058.8L589.5 2077.1L571.2 2096.5L551.6 2117.1L530.9 2139L536.7 2144.5L557.4 2122.6L577 2102L595.4 2082.5L612.5 2064.3L628.4 2047.2L643 2031.2L656.4 2016.3L668.5 2002.5L679.3 1989.7L688.8 1978L697 1967.2L703.9 1957.4L709.5 1948.6L713.8 1940.5L716.7 1933.3L718.2 1926.7L718.1 1920.6L716.1 1915.2L712.3 1910.8L707.1 1907.8L700.6 1905.9L692.9 1904.9L683.8 1904.7L673.3 1905.3L661.4 1906.5L648 1908.4L633.2 1911L616.7 1914.2L598.8 1917.9L579.3 1922.3L558.1 1927.2L535.4 1932.7L511.1 1938.6L485.2 1945.1L457.6 1952L428.4 1959.3Z" fill="#ae5395"/>
<path d="M536.7 2144.5L557.5 2122.6L577.1 2102L595.6 2082.7L613.1 2064.7L629.5 2048L645 2032.6L659.6 2018.5L673.3 2005.8L686.2 1994.4L698.3 1984.3L709.7 1975.7L720.3 1968.4L730.2 1962.6L739.5 1958.1L748.2 1955.1L756.2 1953.4L763.7 1953.1L770.8 1954L777.6 1956.3L784.1 1959.9L790.6 1965L797 1971.6L803.3 1979.7L809.6 1989.4L815.9 2000.6L822.3 2013.4L828.7 2027.7L835.2 2043.6L841.8 2061.1L848.6 2080.2L855.7 2100.9L863 2123.2L870.7 2147.1L878.7 2172.6L887.1 2199.8L896 2228.6L903.7 2226.2L894.8 2197.4L886.3 2170.3L878.3 2144.7L870.6 2120.8L863.3 2098.4L856.2 2077.6L849.3 2058.4L842.6 2040.7L836 2024.6L829.5 2010L823 1996.9L816.5 1985.2L809.8 1975.1L803 1966.4L796 1959.1L788.6 1953.3L780.8 1949L772.6 1946.2L764.1 1945.1L755.2 1945.5L746 1947.4L736.4 1950.8L726.5 1955.5L716 1961.7L705 1969.2L693.3 1978.1L681 1988.3L668 1999.8L654.1 2012.7L639.4 2026.9L623.9 2042.3L607.3 2059.1L589.8 2077.2L571.3 2096.5L551.7 2117.1L530.9 2139Z" fill="#ae5395"/>
<path d="M1158.8 1920.6L1129 1916.3L1100.8 1912.3L1074.3 1908.7L1049.5 1905.3L1026.3 1902.3L1004.7 1899.8L984.6 1897.6L966.2 1895.9L949.3 1894.7L933.9 1894L920 1893.8L907.6 1894.2L896.6 1895.3L887 1897L878.8 1899.5L871.8 1902.8L866.2 1907.1L862.1 1912.5L859.6 1918.9L858.8 1925.9L859.6 1933.6L861.8 1941.9L865.3 1951L870.1 1961L876.2 1971.8L883.5 1983.6L892.1 1996.4L901.9 2010.2L913 2025L925.2 2041L938.7 2058.1L953.3 2076.4L969 2095.9L985.9 2116.7L1004 2138.7L1023.1 2161.9L1029.3 2156.9L1010.1 2133.6L992.1 2111.6L975.2 2090.9L959.5 2071.4L944.9 2053.2L931.5 2036.1L919.4 2020.2L908.4 2005.5L898.7 1991.8L890.2 1979.2L883 1967.7L877.2 1957.2L872.6 1947.8L869.4 1939.4L867.5 1932.1L866.8 1925.9L867.4 1920.7L869 1916.5L871.8 1912.8L876 1909.7L881.6 1907L888.9 1904.8L897.7 1903.2L908.1 1902.2L920.1 1901.8L933.7 1901.9L948.8 1902.6L965.5 1903.9L983.8 1905.6L1003.8 1907.7L1025.3 1910.3L1048.5 1913.3L1073.3 1916.6L1099.7 1920.3L1127.9 1924.2L1157.7 1928.5Z" fill="#ae5395"/>
<path d="M1119.7 2044.3L1093.2 2030L1068.2 2016.5L1044.6 2003.9L1022.5 1992.2L1001.8 1981.3L982.5 1971.4L964.5 1962.4L948 1954.4L932.7 1947.4L918.8 1941.3L906.2 1936.2L894.8 1932.2L884.6 1929.2L875.5 1927.3L867.5 1926.5L860.4 1927L854.3 1928.9L849.3 1932.4L845.8 1937.4L843.9 1943.5L843.5 1950.5L844.2 1958.4L846.1 1967.5L849 1977.6L852.9 1989.1L857.8 2001.7L863.7 2015.7L870.5 2031L878.3 2047.7L887 2065.7L896.6 2085.2L907.1 2106L918.4 2128.3L930.6 2152.1L943.7 2177.4L957.5 2204.2L963.7 2201L949.9 2174.2L936.9 2148.9L924.7 2125.1L913.4 2102.8L903 2082L893.5 2062.5L884.9 2044.5L877.2 2028L870.5 2012.7L864.8 1998.9L860.1 1986.4L856.4 1975.3L853.7 1965.6L852.1 1957.3L851.6 1950.3L852.1 1944.9L853.3 1941L855.2 1938.4L857.9 1936.7L861.8 1935.6L867.2 1935.4L874 1936.2L882.3 1938L891.9 1941L902.8 1945L915.1 1950L928.8 1956L943.8 1963.1L960.2 1971.1L978 1980.1L997.2 1990.1L1017.8 2000.9L1039.9 2012.7L1063.5 2025.3L1088.5 2038.8L1115 2053.1Z" fill="#ae5395"/>
<path d="M603.6 1550L618.4 1576.3L632.3 1601.1L645.3 1624.4L657.4 1646.3L668.6 1666.7L678.8 1685.7L688.1 1703.4L696.4 1719.6L703.7 1734.5L710 1748L715.3 1760.1L719.5 1770.9L722.6 1780.4L724.6 1788.5L725.6 1795.1L725.5 1800.3L724.6 1803.9L723.1 1806.2L720.9 1807.8L717.2 1808.9L712.1 1809.1L705.3 1808.3L697.2 1806.5L687.6 1803.6L676.7 1799.6L664.4 1794.6L650.8 1788.6L635.8 1781.6L619.4 1773.6L601.6 1764.6L582.3 1754.7L561.7 1743.9L539.6 1732.2L516.1 1719.6L491.1 1706.1L464.5 1691.8L460.7 1698.9L487.3 1713.2L512.3 1726.7L535.8 1739.3L557.9 1751L578.6 1761.9L597.8 1771.9L615.7 1780.9L632.2 1789L647.3 1796.2L661.1 1802.3L673.6 1807.5L684.9 1811.7L694.9 1814.8L703.8 1816.9L711.6 1817.8L718.5 1817.6L724.6 1815.9L729.5 1812.5L732.9 1807.5L734.6 1801.5L734.8 1794.5L733.8 1786.7L731.6 1777.8L728.4 1767.7L724.1 1756.5L718.8 1744L712.5 1730.3L705.1 1715.2L696.8 1698.9L687.5 1681.1L677.2 1662L666.1 1641.5L654 1619.6L641 1596.2L627.1 1571.4L612.3 1545.1Z" fill="#ae5395"/>
<path d="M550.7 1587.1L569.9 1610.4L587.9 1632.4L604.8 1653.1L620.5 1672.5L635.1 1690.7L648.5 1707.6L660.8 1723.3L671.8 1737.9L681.6 1751.3L690.1 1763.5L697.4 1774.6L703.5 1784.5L708.2 1793.3L711.6 1801L713.7 1807.5L714.5 1812.7L714.2 1816.6L713 1819.3L710.9 1821.3L707.4 1823L702.3 1824.1L695.5 1824.5L687.1 1824.1L677.2 1822.9L665.7 1820.9L652.7 1818.1L638.3 1814.5L622.2 1810.2L604.7 1805.2L585.6 1799.5L565 1793.1L542.7 1786L519 1778.4L493.6 1770.1L466.6 1761.2L437.9 1751.8L435.4 1759.4L464.1 1768.8L491.1 1777.7L516.5 1786L540.3 1793.7L562.6 1800.7L583.3 1807.1L602.4 1812.9L620.1 1817.9L636.3 1822.3L650.9 1825.9L664.2 1828.7L676 1830.8L686.4 1832.1L695.5 1832.5L703.3 1832.1L710 1830.6L715.5 1827.9L719.6 1823.8L722 1818.4L722.5 1812.3L721.4 1805.6L719 1798.1L715.4 1789.8L710.4 1780.5L704.2 1770.3L696.8 1759L688.1 1746.6L678.2 1733.1L667.1 1718.5L654.8 1702.7L641.4 1685.7L626.8 1667.5L611 1648L594.1 1627.3L576 1605.3L556.9 1582.1Z" fill="#ae5395"/>
<path d="M604.1 1549.8L618.8 1576.1L632.7 1600.9L645.6 1624.3L657.7 1646.2L668.8 1666.9L679 1686.1L688.1 1704.1L696.2 1720.8L703.3 1736.3L709.3 1750.6L714.2 1763.7L718 1775.6L720.7 1786.4L722.2 1796.1L722.6 1804.6L721.9 1812.1L720.1 1818.5L717.3 1824L713.3 1828.8L708.1 1833L701.6 1836.6L693.5 1839.6L684.1 1842L673.1 1843.8L660.6 1845L646.6 1845.6L631.2 1845.7L614.1 1845.3L595.6 1844.4L575.4 1843.1L553.7 1841.3L530.4 1839.2L505.4 1836.8L478.8 1834.1L450.6 1831.1L420.6 1827.9L419.6 1836.8L449.6 1840L477.9 1843L504.5 1845.8L529.5 1848.2L553 1850.3L574.8 1852L595.1 1853.4L613.8 1854.3L631.1 1854.7L646.9 1854.6L661.2 1854L674.2 1852.7L685.9 1850.8L696.2 1848.2L705.3 1844.8L713.1 1840.5L719.6 1835.2L724.8 1829L728.5 1821.8L730.7 1813.7L731.6 1804.8L731.2 1795.2L729.5 1784.6L726.7 1773.2L722.7 1760.7L717.7 1747.3L711.6 1732.7L704.4 1717L696.2 1700.1L686.9 1682L676.8 1662.6L665.6 1641.9L653.5 1619.9L640.5 1596.5L626.7 1571.7L611.9 1545.4Z" fill="#ae5395"/>
<path d="M1119.7 2044.3L1093.2 2030L1068.1 2016.5L1044.3 2003.8L1021.8 1991.9L1000.4 1980.8L980.1 1970.6L960.8 1961.1L942.4 1952.5L924.8 1944.7L908 1937.6L891.8 1931.4L876.1 1925.9L861 1921.3L846.2 1917.5L831.7 1914.4L817.4 1912.2L803.3 1910.8L789.3 1910.1L775.2 1910.3L761.1 1911.3L746.8 1913.1L732.3 1915.7L717.4 1919L702.1 1923.2L686.3 1928.1L669.9 1933.8L652.8 1940.3L635 1947.5L616.3 1955.5L596.7 1964.3L576.1 1973.8L554.4 1984.1L531.4 1995.1L507.2 2007L481.6 2019.5L454.6 2032.9L458.1 2040L485.1 2026.7L510.7 2014.2L534.9 2002.4L557.8 1991.4L579.5 1981.1L600.1 1971.7L619.6 1963L638.2 1955.1L655.9 1948L672.7 1941.7L688.9 1936.1L704.4 1931.4L719.4 1927.4L733.9 1924.2L748.1 1921.7L761.9 1920.1L775.6 1919.2L789.1 1919.1L802.6 1919.8L816.2 1921.3L830 1923.5L844 1926.5L858.4 1930.3L873.2 1934.9L888.5 1940.3L904.4 1946.5L921 1953.5L938.3 1961.4L956.6 1970L975.7 1979.4L995.9 1989.6L1017.2 2000.7L1039.6 2012.6L1063.4 2025.3L1088.5 2038.7L1115 2053.1Z" fill="#ae5395"/>
<path d="M1161.7 1856L1131.5 1857.1L1103.1 1858.1L1076.2 1859.2L1050.8 1860.3L1027 1861.6L1004.5 1863.1L983.4 1864.8L963.6 1866.8L945.1 1869.1L927.7 1871.7L911.4 1874.8L896.2 1878.4L881.9 1882.5L868.6 1887.2L856.2 1892.6L844.6 1898.6L833.8 1905.4L823.6 1912.9L814.2 1921.3L805.4 1930.6L797.2 1940.8L789.4 1951.9L782.2 1964L775.3 1977.2L768.7 1991.4L762.5 2006.8L756.4 2023.3L750.5 2041.1L744.7 2060.1L738.9 2080.5L733 2102.2L727.1 2125.4L721 2150L714.7 2176.2L708.2 2203.9L701.3 2233.3L709.1 2235.1L716 2205.8L722.5 2178.1L728.8 2151.9L734.8 2127.3L740.7 2104.2L746.4 2082.6L752.1 2062.3L757.9 2043.4L763.7 2025.9L769.6 2009.5L775.7 1994.4L782 1980.5L788.6 1967.6L795.6 1955.9L803 1945.1L810.8 1935.3L819.2 1926.4L828.1 1918.4L837.7 1911.1L848 1904.5L859.1 1898.7L871.1 1893.4L884 1888.8L897.8 1884.7L912.8 1881.1L928.8 1878L946 1875.3L964.3 1873L984 1871L1005 1869.2L1027.3 1867.7L1051.1 1866.4L1076.4 1865.2L1103.3 1864.1L1131.8 1863.1L1161.9 1862Z" fill="#ae5395"/>
<path d="M550.7 1587.1L569.9 1610.4L587.9 1632.4L604.8 1653.2L620.5 1672.8L635.1 1691.2L648.5 1708.5L660.7 1724.8L671.7 1740L681.5 1754.3L690 1767.7L697.2 1780.2L703.2 1791.9L707.8 1802.7L711.2 1812.8L713.3 1822.1L714 1830.7L713.6 1838.8L711.8 1846.2L708.8 1853.3L704.5 1860.1L698.7 1866.6L691.5 1872.9L682.8 1879.1L672.6 1885L660.9 1890.9L647.7 1896.7L632.9 1902.4L616.5 1908.2L598.6 1913.9L579.1 1919.8L558.1 1925.8L535.4 1931.9L511.1 1938.3L485.2 1945L457.6 1952L428.4 1959.3L430.1 1966.1L459.3 1958.8L486.9 1951.8L512.9 1945.1L537.2 1938.7L560 1932.6L581.1 1926.6L600.7 1920.7L618.8 1914.9L635.3 1909.1L650.4 1903.3L664 1897.5L676.1 1891.4L686.8 1885.2L696 1878.7L703.9 1871.8L710.4 1864.6L715.4 1856.8L718.9 1848.6L721 1839.8L721.6 1830.6L720.8 1820.9L718.6 1810.7L715 1799.9L710.2 1788.6L704 1776.5L696.6 1763.6L688 1750L678.1 1735.5L667.1 1720.1L654.8 1703.7L641.4 1686.3L626.7 1667.8L611 1648.2L594.1 1627.4L576 1605.3L556.9 1582.1Z" fill="#ae5395"/>
<path d="M903.2 2226.4L894.3 2197.6L885.8 2170.4L877.8 2144.8L870.1 2120.8L862.6 2098.4L855.5 2077.5L848.5 2058.2L841.6 2040.4L834.8 2024L828 2009.1L821.2 1995.7L814.3 1983.7L807.3 1973.1L800 1963.9L792.4 1956.1L784.4 1949.6L776.1 1944.6L767.3 1940.9L758 1938.7L748.3 1937.8L738.1 1938.3L727.4 1940.1L716.1 1943.2L704.1 1947.6L691.5 1953.2L678 1960L663.8 1967.9L648.6 1977L632.5 1987.3L615.4 1998.7L597.3 2011.3L578 2024.9L557.5 2039.6L535.9 2055.4L512.9 2072.2L488.6 2090.1L492.2 2094.9L516.5 2077.1L539.4 2060.2L561.1 2044.5L581.5 2029.8L600.7 2016.2L618.8 2003.8L635.9 1992.4L651.9 1982.3L666.9 1973.2L680.9 1965.4L694.1 1958.8L706.5 1953.4L718 1949.2L728.8 1946.3L738.8 1944.6L748.2 1944.2L757 1945L765.3 1947.1L773.1 1950.4L780.6 1955L787.9 1960.9L794.9 1968.3L801.8 1977L808.6 1987.2L815.3 1998.9L821.9 2012.1L828.5 2026.7L835.2 2042.9L842 2060.6L848.9 2079.8L856.1 2100.6L863.4 2123L871.1 2146.9L879.2 2172.5L887.6 2199.6L896.5 2228.4Z" fill="#ae5395"/>
<path d="M644.7 2214.5L656.6 2186.8L667.9 2160.6L678.4 2135.9L688.1 2112.6L697.1 2090.6L705.2 2070L712.6 2050.5L719 2032.2L724.6 2015L729.3 1998.8L733 1983.6L735.8 1969.3L737.6 1955.9L738.3 1943.2L738 1931.2L736.5 1919.8L734 1909.1L730.2 1898.9L725.2 1889.3L719 1880.1L711.6 1871.4L702.9 1863L693 1855L681.7 1847.2L669.2 1839.7L655.4 1832.2L640.2 1824.9L623.6 1817.5L605.6 1810.1L586.2 1802.6L565.3 1794.9L542.9 1787L519 1778.8L493.6 1770.2L466.6 1761.2L437.9 1751.8L435.4 1759.4L464.1 1768.8L491.1 1777.8L516.5 1786.3L540.4 1794.4L562.7 1802.3L583.5 1809.8L602.8 1817.2L620.7 1824.4L637.1 1831.6L652.1 1838.7L665.7 1845.9L678 1853.1L688.9 1860.5L698.5 1868L706.9 1875.9L714 1884L719.9 1892.5L724.7 1901.4L728.4 1910.8L731 1920.9L732.5 1931.6L733 1943.1L732.4 1955.4L730.8 1968.5L728.3 1982.6L724.7 1997.6L720.2 2013.7L714.8 2030.8L708.4 2049L701.2 2068.4L693.2 2089.1L684.3 2111L674.6 2134.3L664.2 2159L653 2185.2L641.1 2212.9Z" fill="#ae5395"/>
<path d="M435.1 1760.3L463.7 1769.8L490.8 1778.7L516.2 1787.3L540.1 1795.4L562.5 1803.3L583.4 1811L602.9 1818.4L620.9 1825.8L637.6 1833L652.9 1840.3L666.9 1847.6L679.6 1855.1L691.1 1862.7L701.3 1870.5L710.4 1878.5L718.3 1887L725.2 1895.8L731.1 1905L736 1914.9L740 1925.3L743 1936.5L745.2 1948.5L746.6 1961.3L747.2 1975.1L746.9 1989.8L745.9 2005.6L744.2 2022.4L741.7 2040.5L738.6 2059.7L734.8 2080.2L730.5 2102L725.5 2125.3L720.1 2149.9L714.1 2176.1L707.7 2203.8L700.8 2233.2L709.6 2235.2L716.5 2205.9L722.9 2178.1L728.9 2151.9L734.4 2127.2L739.3 2103.9L743.7 2081.9L747.6 2061.3L750.7 2041.8L753.3 2023.5L755.1 2006.3L756.1 1990.2L756.4 1975L755.9 1960.6L754.5 1947.2L752.2 1934.4L748.9 1922.4L744.7 1911.1L739.4 1900.4L733 1890.3L725.6 1880.7L717.1 1871.6L707.5 1863L696.7 1854.7L684.7 1846.8L671.6 1839.1L657.3 1831.5L641.7 1824.1L624.7 1816.7L606.5 1809.2L586.9 1801.7L565.8 1794L543.4 1786L519.4 1777.8L493.9 1769.3L466.9 1760.3L438.2 1750.8Z" fill="#ae5395"/>
<path d="M435.1 1760.3L463.8 1769.8L490.8 1778.7L516.5 1787.2L540.7 1795.2L563.7 1802.9L585.5 1810.2L606.1 1817.2L625.7 1823.9L644.4 1830.4L662.2 1836.6L679.3 1842.8L695.7 1848.7L711.5 1854.6L726.8 1860.5L741.7 1866.3L756.3 1872.2L770.6 1878.1L784.8 1884.1L798.9 1890.3L813 1896.6L827.3 1903.2L841.8 1910L856.6 1917.1L871.7 1924.5L887.3 1932.3L903.5 1940.5L920.3 1949.2L937.8 1958.3L956.2 1967.9L975.5 1978.1L995.7 1988.9L1017.1 2000.3L1039.6 2012.4L1063.4 2025.2L1088.5 2038.7L1115 2053.1L1119.7 2044.3L1093.2 2029.9L1068.1 2016.4L1044.3 2003.6L1021.8 1991.5L1000.4 1980.1L980.2 1969.3L960.9 1959.1L942.5 1949.4L924.9 1940.3L908 1931.6L891.8 1923.4L876.1 1915.6L860.9 1908.1L846.1 1901L831.5 1894.1L817.2 1887.5L802.9 1881.1L788.7 1874.9L774.5 1868.9L760 1862.9L745.4 1857L730.4 1851.2L715 1845.3L699.2 1839.4L682.7 1833.4L665.6 1827.2L647.7 1820.9L629 1814.4L609.3 1807.7L588.6 1800.7L566.9 1793.4L543.9 1785.7L519.6 1777.7L494 1769.2L466.9 1760.3L438.2 1750.8Z" fill="#ae5395"/>
<path d="M419.6 1836.8L449.6 1840L478 1843.1L504.8 1846L530.2 1848.9L554.2 1851.6L576.9 1854.3L598.5 1857L619 1859.7L638.4 1862.5L657 1865.3L674.7 1868.2L691.7 1871.2L708.1 1874.4L723.9 1877.7L739.2 1881.3L754.2 1885.1L768.9 1889.1L783.4 1893.4L797.8 1898.1L812.1 1903L826.6 1908.4L841.3 1914.2L856.2 1920.3L871.5 1927L887.2 1934.1L903.5 1941.8L920.3 1949.9L938 1958.7L956.4 1968.1L975.7 1978L995.9 1988.7L1017.3 2000L1039.8 2012L1063.6 2024.8L1088.7 2038.3L1115.2 2052.6L1119.5 2044.7L1093 2030.4L1067.9 2016.9L1044.1 2004.1L1021.5 1992L1000.1 1980.7L979.8 1970.1L960.5 1960.1L942 1950.7L924.3 1941.9L907.3 1933.6L891 1925.9L875.1 1918.8L859.7 1912.1L844.6 1905.8L829.8 1900L815.2 1894.6L800.6 1889.5L786 1884.8L771.3 1880.4L756.5 1876.4L741.3 1872.5L725.8 1868.9L709.9 1865.6L693.4 1862.4L676.2 1859.3L658.4 1856.4L639.7 1853.6L620.2 1850.8L599.6 1848.1L578 1845.4L555.2 1842.7L531.2 1839.9L505.8 1837.1L478.9 1834.2L450.6 1831.1L420.6 1827.9Z" fill="#ae5395"/>
<path d="M460.5 1699.3L487 1713.6L512.1 1727.1L535.9 1739.9L558.5 1752L579.8 1763.3L600.2 1774L619.5 1784L638 1793.5L655.6 1802.3L672.6 1810.6L689 1818.4L704.8 1825.7L720.2 1832.5L735.2 1838.9L750 1844.9L764.6 1850.5L779.2 1855.8L793.7 1860.8L808.3 1865.4L823.2 1869.8L838.3 1874L853.7 1878L869.6 1881.8L886 1885.4L903.1 1889L920.9 1892.4L939.5 1895.8L958.9 1899.2L979.4 1902.6L1000.9 1906L1023.6 1909.5L1047.5 1913.1L1072.8 1916.8L1099.5 1920.7L1127.8 1924.7L1157.6 1929L1158.9 1920.1L1129.1 1915.8L1100.8 1911.8L1074.1 1907.9L1048.9 1904.2L1024.9 1900.6L1002.3 1897.1L980.8 1893.7L960.4 1890.3L941 1887L922.6 1883.6L904.9 1880.1L887.9 1876.6L871.6 1873L855.9 1869.2L840.6 1865.3L825.6 1861.2L811 1856.8L796.5 1852.2L782.1 1847.3L767.8 1842.1L753.3 1836.5L738.7 1830.6L723.8 1824.3L708.5 1817.5L692.8 1810.3L676.5 1802.5L659.6 1794.3L642 1785.4L623.6 1776L604.3 1766L584.1 1755.4L562.7 1744L540.2 1732L516.4 1719.2L491.3 1705.7L464.8 1691.4Z" fill="#ae5395"/>
<path d="M460.5 1699.3L487 1713.6L512.1 1727.2L535.9 1740L558.4 1752.1L579.7 1763.6L599.9 1774.5L619.1 1784.9L637.4 1794.8L654.9 1804.2L671.6 1813.2L687.6 1821.8L703 1830.2L717.9 1838.2L732.4 1846L746.6 1853.7L760.5 1861.2L774.2 1868.6L787.9 1876L801.5 1883.3L815.3 1890.7L829.2 1898.2L843.3 1905.9L857.8 1913.7L872.7 1921.8L888.2 1930.1L904.2 1938.7L920.9 1947.7L938.3 1957.1L956.6 1967L975.8 1977.4L996 1988.3L1017.3 1999.8L1039.8 2011.9L1063.6 2024.8L1088.7 2038.3L1115.2 2052.6L1119.5 2044.7L1093 2030.4L1067.9 2016.8L1044.1 2004L1021.6 1991.9L1000.3 1980.4L980.1 1969.5L960.9 1959.1L942.6 1949.2L925.1 1939.8L908.4 1930.8L892.4 1922.2L877 1913.8L862.1 1905.8L847.6 1898L833.4 1890.3L819.5 1882.8L805.8 1875.4L792.1 1868L778.5 1860.7L764.7 1853.3L750.8 1845.8L736.7 1838.1L722.2 1830.3L707.3 1822.2L691.8 1813.9L675.8 1805.3L659.1 1796.3L641.7 1786.9L623.4 1777L604.2 1766.6L584 1755.7L562.7 1744.2L540.2 1732.1L516.4 1719.2L491.3 1705.7L464.8 1691.4Z" fill="#ae5395"/>
<path d="M550.3 1587.4L569.5 1610.7L587.6 1632.8L604.8 1653.5L621.2 1673.1L636.8 1691.5L651.6 1708.9L665.9 1725.1L679.6 1740.4L692.8 1754.7L705.7 1768L718.3 1780.5L730.6 1792.1L742.8 1802.9L754.9 1813L767.1 1822.4L779.3 1831.1L791.7 1839.1L804.3 1846.6L817.2 1853.5L830.5 1859.9L844.3 1865.8L858.6 1871.3L873.5 1876.4L889.1 1881.2L905.5 1885.7L922.6 1890L940.7 1894.1L959.8 1898L980 1901.8L1001.3 1905.5L1023.8 1909.2L1047.6 1912.9L1072.9 1916.7L1099.6 1920.7L1127.8 1924.7L1157.6 1929L1158.9 1920.1L1129.1 1915.8L1100.8 1911.7L1074.2 1907.8L1049 1904.1L1025.2 1900.3L1002.8 1896.6L981.6 1892.9L961.5 1889.1L942.6 1885.3L924.7 1881.2L907.7 1877L891.6 1872.6L876.3 1867.9L861.7 1862.9L847.7 1857.5L834.3 1851.7L821.3 1845.4L808.7 1838.7L796.4 1831.5L784.4 1823.6L772.4 1815.1L760.6 1806L748.7 1796.1L736.7 1785.5L724.5 1774L712.1 1761.7L699.4 1748.5L686.2 1734.3L672.6 1719.2L658.4 1703L643.6 1685.7L628.1 1667.3L611.8 1647.8L594.6 1627L576.4 1605L557.3 1581.7Z" fill="#ae5395"/>
<path d="M550.3 1587.4L569.5 1610.7L587.5 1632.8L604.5 1653.7L620.5 1673.5L635.4 1692.2L649.4 1710.1L662.3 1727.1L674.3 1743.4L685.3 1759L695.4 1774L704.7 1788.4L713 1802.5L720.4 1816.2L727 1829.6L732.8 1842.9L737.8 1856L742 1869.1L745.5 1882.4L748.2 1895.8L750.3 1909.4L751.6 1923.4L752.3 1937.9L752.3 1952.8L751.6 1968.4L750.4 1984.7L748.5 2001.7L746.1 2019.7L743.1 2038.5L739.5 2058.4L735.4 2079.4L730.8 2101.6L725.7 2125L720.2 2149.8L714.1 2176.1L707.7 2203.8L700.8 2233.2L709.6 2235.2L716.5 2205.9L722.9 2178.1L728.9 2151.8L734.5 2127L739.6 2103.4L744.2 2081.2L748.4 2060.1L751.9 2040L755 2021L757.5 2002.8L759.3 1985.5L760.6 1968.9L761.3 1953L761.3 1937.7L760.6 1922.8L759.2 1908.3L757.1 1894.2L754.3 1880.3L750.7 1866.6L746.3 1853L741.2 1839.5L735.2 1825.8L728.4 1812L720.8 1798L712.3 1783.7L703 1769L692.7 1753.8L681.6 1738.1L669.5 1721.7L656.5 1704.6L642.5 1686.7L627.5 1667.8L611.5 1648L594.5 1627.1L576.4 1605L557.3 1581.7Z" fill="#ae5395"/>
<path d="M603.6 1550L618.4 1576.3L632.3 1601.2L645.5 1624.7L658 1647L669.7 1668.2L680.9 1688.3L691.4 1707.4L701.3 1725.6L710.7 1743L719.5 1759.6L727.9 1775.7L735.9 1791.2L743.5 1806.2L750.7 1820.9L757.6 1835.3L764.3 1849.5L770.7 1863.6L776.8 1877.6L782.9 1891.8L788.8 1906.1L794.6 1920.7L800.3 1935.6L806 1950.9L811.8 1966.7L817.6 1983.2L823.5 2000.3L829.6 2018.2L835.8 2036.9L842.2 2056.7L848.8 2077.4L855.8 2099.3L863.1 2122.4L870.7 2146.8L878.7 2172.5L887.1 2199.8L896 2228.6L903.7 2226.2L894.8 2197.4L886.3 2170.2L878.4 2144.4L870.8 2120L863.5 2096.9L856.6 2074.9L850 2054.1L843.6 2034.4L837.4 2015.6L831.5 1997.6L825.6 1980.4L819.8 1963.9L814.1 1947.9L808.4 1932.5L802.7 1917.5L797 1902.8L791.1 1888.4L785.1 1874.1L779 1859.9L772.6 1845.7L766 1831.3L759.1 1816.8L751.9 1802L744.4 1786.9L736.4 1771.3L728 1755.2L719.2 1738.4L709.9 1720.9L700 1702.7L689.5 1683.5L678.4 1663.4L666.7 1642.2L654.2 1619.9L641 1596.3L627.1 1571.4L612.3 1545.1Z" fill="#ae5395"/>
<path d="M603.6 1550L618.4 1576.3L632.3 1601.2L645.6 1624.7L658.1 1647L669.9 1668.1L681.2 1688.2L691.9 1707.2L702 1725.3L711.7 1742.6L721 1759.2L729.8 1775L738.3 1790.3L746.6 1805.2L754.5 1819.6L762.3 1833.6L769.9 1847.5L777.4 1861.2L784.8 1874.8L792.2 1888.4L799.6 1902.1L807.1 1916.1L814.7 1930.2L822.4 1944.8L830.4 1959.7L838.5 1975.2L847 1991.3L855.8 2008.1L865 2025.7L874.6 2044.1L884.7 2063.5L895.3 2083.9L906.4 2105.4L918.2 2128.1L930.6 2152L943.6 2177.4L957.5 2204.2L963.7 2201L949.9 2174.2L936.8 2148.8L924.4 2124.8L912.7 2102.1L901.6 2080.6L891.1 2060.1L881.1 2040.7L871.5 2022.3L862.4 2004.7L853.7 1987.8L845.3 1971.7L837.2 1956.1L829.4 1941.1L821.8 1926.5L814.3 1912.2L806.9 1898.3L799.6 1884.5L792.3 1870.8L785 1857.1L777.6 1843.3L770.1 1829.4L762.4 1815.2L754.6 1800.8L746.4 1785.9L738 1770.5L729.2 1754.6L720 1738L710.4 1720.6L700.3 1702.5L689.7 1683.4L678.5 1663.3L666.7 1642.2L654.2 1619.9L641 1596.3L627.1 1571.4L612.3 1545.1Z" fill="#ae5395"/>
<path d="M430.1 1966.1L459.3 1958.8L487 1951.8L513.2 1945.3L538 1939.2L561.5 1933.5L583.7 1928.2L604.9 1923.3L625.1 1918.7L644.3 1914.6L662.7 1910.8L680.3 1907.4L697.4 1904.4L713.8 1901.7L729.8 1899.4L745.5 1897.5L760.8 1895.9L776 1894.6L791.1 1893.7L806.3 1893L821.5 1892.8L837 1892.8L852.7 1893.2L868.9 1893.8L885.5 1894.8L902.7 1896.1L920.6 1897.6L939.3 1899.5L958.9 1901.6L979.4 1904L1000.9 1906.7L1023.7 1909.7L1047.6 1913L1072.9 1916.5L1099.6 1920.2L1127.9 1924.2L1157.7 1928.5L1158.8 1920.6L1129 1916.3L1100.7 1912.3L1074 1908.6L1048.7 1905.1L1024.7 1901.8L1002 1898.9L980.3 1896.2L959.8 1893.8L940.1 1891.7L921.4 1889.8L903.4 1888.3L886 1887.1L869.2 1886.1L852.9 1885.5L837 1885.2L821.4 1885.2L806 1885.5L790.7 1886.2L775.5 1887.2L760.1 1888.5L744.6 1890.1L728.8 1892.2L712.7 1894.5L696.1 1897.3L679 1900.3L661.3 1903.8L642.8 1907.6L623.5 1911.8L603.3 1916.4L582.1 1921.3L559.8 1926.6L536.3 1932.4L511.5 1938.5L485.3 1945L457.6 1952L428.4 1959.3Z" fill="#ae5395"/>
<path d="M458.1 2040L485.1 2026.7L510.7 2014.1L534.9 2002.3L557.9 1991.2L579.6 1980.8L600.3 1971L619.9 1962L638.7 1953.6L656.5 1945.9L673.7 1938.8L690.2 1932.3L706.1 1926.4L721.6 1921.2L736.6 1916.5L751.4 1912.3L766 1908.7L780.5 1905.6L795 1903.1L809.5 1901L824.2 1899.4L839.2 1898.3L854.5 1897.7L870.3 1897.4L886.7 1897.7L903.6 1898.3L921.3 1899.3L939.8 1900.7L959.2 1902.5L979.6 1904.6L1001.1 1907.1L1023.7 1909.9L1047.7 1913.1L1072.9 1916.5L1099.6 1920.2L1127.9 1924.2L1157.7 1928.5L1158.8 1920.6L1129 1916.3L1100.7 1912.3L1074 1908.6L1048.7 1905.2L1024.8 1902L1002.1 1899.2L980.5 1896.7L960 1894.5L940.5 1892.7L921.9 1891.3L904 1890.3L886.9 1889.7L870.3 1889.4L854.3 1889.7L838.7 1890.3L823.5 1891.5L808.5 1893.1L793.7 1895.2L779 1897.8L764.2 1900.9L749.4 1904.6L734.4 1908.8L719.1 1913.6L703.4 1918.9L687.3 1924.8L670.7 1931.4L653.4 1938.5L635.4 1946.3L616.6 1954.7L596.9 1963.8L576.2 1973.5L554.4 1984L531.4 1995.1L507.2 2007L481.6 2019.5L454.6 2032.9Z" fill="#ae5395"/>
<path d="M536.7 2144.5L557.5 2122.6L577.1 2102L595.7 2082.6L613.4 2064.5L630.1 2047.5L646.1 2031.8L661.3 2017.2L675.8 2003.9L689.7 1991.6L703.1 1980.6L716 1970.7L728.5 1961.9L740.7 1954.2L752.7 1947.7L764.5 1942.2L776.2 1937.7L787.8 1934.4L799.6 1932L811.5 1930.6L823.6 1930.3L836.1 1930.9L849 1932.5L862.4 1935L876.3 1938.5L891 1943L906.3 1948.5L922.4 1954.8L939.4 1962.1L957.4 1970.4L976.3 1979.5L996.3 1989.5L1017.5 2000.4L1039.9 2012.2L1063.6 2024.8L1088.7 2038.3L1115.2 2052.6L1119.5 2044.7L1093 2030.4L1067.9 2016.9L1044.1 2004.3L1021.6 1992.5L1000.4 1981.5L980.2 1971.5L961.1 1962.3L943 1954L925.8 1946.7L909.4 1940.2L893.7 1934.7L878.7 1930.1L864.2 1926.5L850.3 1923.9L836.8 1922.3L823.7 1921.7L810.8 1922.1L798.2 1923.6L785.8 1926.1L773.5 1929.8L761.2 1934.5L748.9 1940.2L736.5 1947.1L723.9 1955L711.1 1964.1L697.9 1974.2L684.4 1985.4L670.3 1997.8L655.7 2011.3L640.4 2026L624.4 2041.8L607.6 2058.9L590 2077.1L571.3 2096.5L551.7 2117.1L530.9 2139Z" fill="#ae5395"/>
<path d="M588.5 2184.7L605.1 2159.6L620.8 2135.8L635.8 2113.4L649.9 2092.4L663.5 2072.7L676.4 2054.3L688.8 2037.1L700.8 2021.1L712.4 2006.3L723.8 1992.7L734.8 1980.2L745.8 1968.8L756.6 1958.4L767.4 1949.1L778.3 1940.7L789.3 1933.2L800.6 1926.7L812.1 1921L824 1916.2L836.3 1912.1L849.2 1908.8L862.6 1906.2L876.8 1904.3L891.8 1903.1L907.6 1902.4L924.3 1902.4L942 1903L960.7 1904.1L980.6 1905.7L1001.7 1907.8L1024.1 1910.3L1047.9 1913.3L1073 1916.6L1099.7 1920.3L1127.9 1924.2L1157.7 1928.5L1158.8 1920.6L1129 1916.3L1100.8 1912.3L1074.1 1908.7L1048.9 1905.4L1025.1 1902.4L1002.6 1899.9L981.4 1897.8L961.3 1896.1L942.3 1895L924.4 1894.4L907.4 1894.5L891.3 1895.1L876 1896.3L861.4 1898.3L847.4 1901L834 1904.4L821.2 1908.7L808.8 1913.7L796.8 1919.7L785.1 1926.5L773.6 1934.2L762.4 1942.9L751.2 1952.5L740.1 1963.1L729 1974.8L717.7 1987.5L706.2 2001.3L694.5 2016.2L682.4 2032.3L669.9 2049.6L656.9 2068.1L643.3 2087.9L629.1 2109L614.2 2131.4L598.4 2155.2L581.8 2180.3Z" fill="#ae5395"/>
<path d="M419.6 1836.8L449.6 1840L477.9 1843.1L504.7 1846.1L529.9 1849L553.7 1852L576.1 1855L597.2 1858.1L617.1 1861.3L635.8 1864.7L653.4 1868.4L669.9 1872.3L685.5 1876.6L700.2 1881.2L714.1 1886.3L727.2 1891.8L739.7 1897.8L751.5 1904.4L762.8 1911.7L773.7 1919.6L784.2 1928.2L794.4 1937.5L804.4 1947.7L814.2 1958.8L823.9 1970.8L833.5 1983.7L843.3 1997.7L853.1 2012.8L863.1 2029L873.3 2046.3L883.9 2064.9L894.8 2084.7L906.2 2105.8L918.1 2128.2L930.5 2152.1L943.6 2177.4L957.5 2204.2L963.7 2201L949.9 2174.2L936.8 2148.9L924.3 2125L912.4 2102.5L901.1 2081.3L890.1 2061.4L879.6 2042.7L869.3 2025.2L859.3 2008.9L849.4 1993.6L839.6 1979.4L829.8 1966.2L820 1953.9L810 1942.5L799.8 1932L789.4 1922.3L778.6 1913.3L767.3 1905.1L755.7 1897.5L743.4 1890.6L730.6 1884.3L717.1 1878.5L702.9 1873.3L687.9 1868.4L672.1 1864L655.3 1859.9L637.5 1856.2L618.6 1852.7L598.6 1849.4L577.4 1846.2L554.8 1843.2L531 1840.2L505.7 1837.2L478.9 1834.2L450.6 1831.1L420.6 1827.9Z" fill="#ae5395"/>
<path d="M435.3 1759.9L463.9 1769.3L491 1778.3L516.6 1786.8L540.7 1794.9L563.6 1802.7L585.1 1810.2L605.5 1817.4L624.8 1824.5L643 1831.5L660.3 1838.4L676.7 1845.2L692.2 1852.1L707.1 1859.1L721.3 1866.2L734.9 1873.5L748 1881L760.6 1888.8L773 1896.9L785 1905.4L796.9 1914.4L808.6 1923.8L820.4 1933.9L832.1 1944.5L844 1955.8L856.1 1967.8L868.4 1980.6L881.1 1994.2L894.2 2008.7L907.8 2024L922 2040.4L936.8 2057.8L952.3 2076.3L968.6 2095.9L985.8 2116.6L1003.9 2138.7L1023.1 2161.9L1029.3 2156.9L1010.1 2133.6L992 2111.6L974.8 2090.8L958.5 2071.1L942.9 2052.6L928.1 2035.2L913.9 2018.7L900.3 2003.2L887.1 1988.7L874.4 1975L861.9 1962L849.8 1949.9L837.8 1938.4L825.9 1927.6L814 1917.4L802.1 1907.7L790 1898.6L777.8 1889.9L765.2 1881.6L752.3 1873.6L739 1865.9L725.2 1858.5L710.9 1851.3L695.9 1844.2L680.1 1837.2L663.6 1830.2L646.2 1823.3L627.9 1816.2L608.6 1809.1L588.1 1801.8L566.5 1794.2L543.6 1786.4L519.4 1778.2L493.8 1769.7L466.7 1760.8L438.1 1751.3Z" fill="#ae5395"/>
<path d="M670.6 1519.5L679.5 1548.4L688 1575.6L696 1601.4L703.7 1625.7L711.1 1648.8L718.2 1670.6L725.2 1691.2L732 1710.8L738.7 1729.3L745.4 1746.9L752 1763.7L758.8 1779.6L765.6 1794.9L772.6 1809.5L779.8 1823.6L787.3 1837.2L795.1 1850.4L803.3 1863.3L811.9 1875.8L820.9 1888.2L830.4 1900.5L840.5 1912.7L851.2 1924.9L862.5 1937.2L874.5 1949.7L887.2 1962.5L900.8 1975.6L915.1 1989L930.4 2003L946.6 2017.6L963.8 2032.7L982.1 2048.6L1001.4 2065.4L1021.9 2082.9L1043.6 2101.5L1066.5 2121.1L1079.5 2105.8L1056.6 2086.3L1034.9 2067.7L1014.4 2050.2L995.2 2033.5L977 2017.7L959.9 2002.6L943.8 1988.2L928.7 1974.4L914.6 1961.1L901.3 1948.2L888.8 1935.7L877.1 1923.5L866.1 1911.6L855.7 1899.7L846 1888L836.9 1876.2L828.2 1864.3L820 1852.3L812.2 1839.9L804.7 1827.3L797.5 1814.2L790.5 1800.6L783.8 1786.5L777.1 1771.7L770.5 1756.1L764 1739.7L757.5 1722.4L750.8 1704.1L744.1 1684.8L737.2 1664.3L730.1 1642.6L722.8 1619.7L715.1 1595.4L707.1 1569.7L698.6 1542.4L689.7 1513.6Z" fill="#4fbdd1"/>
<path d="M670.9 1519.5L679.8 1548.3L688.2 1575.5L696.3 1601.3L704 1625.7L711.4 1648.7L718.5 1670.5L725.5 1691.1L732.3 1710.7L739 1729.2L745.6 1746.8L752.3 1763.5L759 1779.5L765.9 1794.8L772.9 1809.4L780.1 1823.5L787.6 1837.1L795.4 1850.2L803.5 1863.1L812.1 1875.7L821.1 1888L830.7 1900.3L840.7 1912.5L851.4 1924.7L862.7 1937L874.7 1949.5L887.5 1962.3L901 1975.3L915.4 1988.8L930.6 2002.8L946.8 2017.3L964 2032.5L982.2 2048.4L1001.6 2065.1L1022.1 2082.7L1043.8 2101.3L1066.7 2120.8L1079.3 2106.1L1056.4 2086.5L1034.7 2068L1014.2 2050.4L995 2033.8L976.8 2017.9L959.7 2002.8L943.6 1988.4L928.5 1974.6L914.4 1961.3L901.1 1948.4L888.6 1935.9L876.8 1923.7L865.9 1911.8L855.5 1899.9L845.8 1888.1L836.6 1876.4L828 1864.5L819.7 1852.4L811.9 1840.1L804.4 1827.4L797.2 1814.4L790.3 1800.8L783.5 1786.6L776.8 1771.8L770.3 1756.2L763.7 1739.8L757.2 1722.5L750.6 1704.2L743.8 1684.8L736.9 1664.4L729.8 1642.7L722.5 1619.8L714.8 1595.5L706.8 1569.8L698.3 1542.5L689.4 1513.7Z" fill="#4fbdd1"/>
<path d="M671.3 1519.3L680.2 1548.1L688.6 1575.4L696.7 1601.2L704.4 1625.5L711.8 1648.6L718.9 1670.4L725.9 1691L732.7 1710.5L739.4 1729.1L746 1746.7L752.7 1763.4L759.4 1779.3L766.2 1794.6L773.2 1809.2L780.5 1823.3L787.9 1836.9L795.7 1850L803.9 1862.9L812.4 1875.4L821.5 1887.8L831 1900L841 1912.2L851.7 1924.4L863 1936.7L875 1949.2L887.7 1962L901.3 1975L915.6 1988.5L930.9 2002.5L947.1 2017L964.3 2032.2L982.5 2048.1L1001.8 2064.8L1022.3 2082.4L1044 2100.9L1067 2120.5L1079 2106.4L1056.1 2086.8L1034.4 2068.3L1014 2050.7L994.7 2034.1L976.5 2018.2L959.4 2003.1L943.4 1988.7L928.3 1974.9L914.1 1961.6L900.8 1948.7L888.3 1936.2L876.6 1924L865.6 1912L855.2 1900.2L845.5 1888.4L836.3 1876.6L827.6 1864.7L819.4 1852.6L811.6 1840.3L804.1 1827.6L796.9 1814.6L789.9 1801L783.1 1786.8L776.5 1771.9L769.9 1756.3L763.4 1739.9L756.8 1722.6L750.2 1704.3L743.5 1685L736.6 1664.5L729.5 1642.8L722.1 1619.9L714.4 1595.6L706.4 1569.9L697.9 1542.6L689 1513.8Z" fill="#4fbdd1"/>
<path d="M817.3 1501L814.7 1531L812.2 1559.4L810 1586.1L808.1 1611.3L806.4 1635L805.2 1657.2L804.4 1678L804 1697.5L804.1 1715.6L804.8 1732.5L806.1 1748.1L808 1762.6L810.6 1776L814 1788.4L818.3 1799.7L823.4 1810.1L829.4 1819.5L836.5 1827.9L844.5 1835.4L853.6 1842L863.7 1847.7L874.8 1852.5L886.9 1856.6L900.2 1860L914.5 1862.7L930.1 1864.8L946.9 1866.4L965 1867.5L984.4 1868.2L1005.3 1868.5L1027.5 1868.5L1051.3 1868.1L1076.5 1867.5L1103.4 1866.7L1131.8 1865.8L1162 1864.8L1161.6 1853.3L1131.4 1854.3L1103 1855.3L1076.2 1856L1051 1856.6L1027.4 1857L1005.3 1857L984.7 1856.8L965.5 1856.1L947.8 1855L931.4 1853.5L916.3 1851.5L902.6 1848.9L890.1 1845.7L878.8 1842L868.7 1837.6L859.7 1832.5L851.7 1826.7L844.7 1820.2L838.5 1812.8L833.1 1804.6L828.5 1795.3L824.7 1785L821.5 1773.5L819 1760.8L817.1 1746.9L815.9 1731.8L815.2 1715.3L815 1697.5L815.4 1678.4L816.2 1657.8L817.4 1635.7L819 1612.1L821 1587L823.2 1560.3L825.6 1532L828.3 1501.9Z" fill="#4fbdd1"/>
<path d="M817.8 1501L815.2 1531L812.7 1559.4L810.5 1586.1L808.6 1611.3L807 1634.9L805.8 1657L805 1677.6L804.7 1696.8L804.8 1714.6L805.5 1731L806.8 1746.2L808.8 1760L811.4 1772.7L814.8 1784.2L819 1794.6L824 1803.8L830 1811.9L836.9 1818.9L844.8 1824.8L853.6 1829.6L863.4 1833.3L874.2 1836L886 1837.8L898.8 1838.7L912.8 1838.7L927.9 1838L944.3 1836.6L961.9 1834.4L980.9 1831.6L1001.2 1828.2L1022.9 1824.2L1046.1 1819.7L1070.8 1814.6L1097 1809.1L1124.9 1803.2L1154.3 1796.8L1153.1 1791L1123.6 1797.3L1095.8 1803.2L1069.6 1808.7L1044.9 1813.6L1021.8 1818.1L1000.1 1822L979.9 1825.3L961.1 1828L943.6 1830L927.5 1831.3L912.7 1831.8L899.1 1831.6L886.8 1830.6L875.7 1828.8L865.7 1826.1L856.9 1822.6L849.1 1818.2L842.2 1812.9L836.3 1806.7L831.1 1799.4L826.7 1791L823 1781.5L820 1770.7L817.6 1758.6L815.9 1745.2L814.8 1730.5L814.2 1714.4L814.2 1696.8L814.6 1677.9L815.5 1657.4L816.8 1635.5L818.5 1612L820.4 1586.9L822.7 1560.2L825.1 1531.9L827.8 1501.9Z" fill="#4fbdd1"/>
<path d="M419.1 1842.3L449 1845.5L477.4 1848.5L504.3 1851.3L529.7 1853.9L553.8 1856.4L576.7 1858.6L598.4 1860.7L619.1 1862.6L638.9 1864.4L657.8 1865.9L676 1867.4L693.5 1868.6L710.4 1869.8L726.9 1870.7L743 1871.6L758.8 1872.3L774.4 1872.8L790 1873.3L805.5 1873.6L821.1 1873.8L836.9 1873.9L853.1 1873.9L869.5 1873.8L886.5 1873.5L904 1873.2L922.2 1872.8L941.2 1872.3L961 1871.7L981.8 1871.1L1003.6 1870.4L1026.6 1869.6L1050.8 1868.7L1076.3 1867.8L1103.3 1866.8L1131.8 1865.8L1162 1864.8L1161.6 1853.3L1131.4 1854.3L1102.9 1855.3L1075.9 1856.1L1050.4 1856.9L1026.2 1857.6L1003.3 1858.2L981.5 1858.8L960.7 1859.2L940.9 1859.5L922 1859.7L903.9 1859.8L886.4 1859.8L869.5 1859.7L853.1 1859.5L837.1 1859.2L821.4 1858.8L805.9 1858.2L790.5 1857.6L775.1 1856.8L759.6 1855.8L744 1854.8L728 1853.6L711.7 1852.3L694.9 1850.9L677.5 1849.3L659.4 1847.6L640.6 1845.8L621 1843.8L600.3 1841.6L578.6 1839.4L555.8 1836.9L531.8 1834.3L506.4 1831.6L479.5 1828.7L451.2 1825.6L421.2 1822.4Z" fill="#4fbdd1"/>
<path d="M546.9 1590.3L566 1613.6L584 1635.6L601 1656.4L616.8 1676.1L631.5 1694.7L645.1 1712.3L657.5 1728.9L668.9 1744.7L679.1 1759.7L688.2 1774L696.1 1787.6L702.9 1800.5L708.6 1813L713.1 1824.9L716.6 1836.4L718.9 1847.7L720.2 1858.6L720.5 1869.5L719.6 1880.3L717.7 1891.2L714.7 1902.3L710.6 1913.7L705.3 1925.4L698.8 1937.5L691.2 1950.1L682.4 1963.2L672.4 1976.9L661.2 1991.2L648.8 2006.2L635.3 2022L620.5 2038.7L604.5 2056.2L587.4 2074.8L569 2094.3L549.5 2115L528.7 2136.9L538.9 2146.5L559.6 2124.7L579.2 2104L597.7 2084.4L614.9 2065.8L631 2048.2L646 2031.5L659.8 2015.5L672.5 2000.3L684 1985.7L694.4 1971.7L703.7 1958.2L711.9 1945L718.9 1932.2L724.7 1919.6L729.4 1907.1L733 1894.8L735.3 1882.4L736.4 1870.1L736.4 1857.7L735.1 1845.1L732.6 1832.5L728.9 1819.6L724.1 1806.5L718.2 1793.1L711.1 1779.3L702.9 1765L693.6 1750.2L683.2 1734.7L671.8 1718.6L659.2 1701.6L645.5 1683.7L630.8 1665L614.9 1645.1L598 1624.2L579.9 1602.2L560.8 1578.9Z" fill="#4fbdd1"/>
<path d="M459.5 1701.1L486.1 1715.4L511.1 1728.9L534.6 1741.8L556.6 1754L577.2 1765.6L596.3 1776.7L614 1787.3L630.3 1797.6L645.1 1807.5L658.6 1817.1L670.6 1826.5L681.3 1835.7L690.6 1844.7L698.6 1853.7L705.3 1862.7L710.7 1871.7L714.9 1880.8L717.9 1890.1L719.8 1899.8L720.5 1909.8L720.1 1920.3L718.6 1931.5L715.9 1943.2L712.1 1955.7L707.1 1968.9L701 1983L693.8 1997.9L685.5 2013.7L676.1 2030.4L665.6 2048.2L654 2067.1L641.4 2087.1L627.8 2108.3L613.2 2130.8L597.6 2154.6L581 2179.8L589.3 2185.3L605.9 2160.1L621.6 2136.3L636.3 2113.8L649.9 2092.6L662.6 2072.5L674.3 2053.5L685 2035.6L694.6 2018.7L703.1 2002.6L710.6 1987.4L717 1973L722.3 1959.2L726.4 1946.1L729.4 1933.5L731.2 1921.4L731.8 1909.7L731.1 1898.3L729 1887.3L725.7 1876.6L721.1 1866.2L715.1 1856.1L707.9 1846.2L699.4 1836.4L689.6 1826.7L678.4 1816.9L666 1807.1L652.3 1797.2L637.2 1787L620.7 1776.5L602.9 1765.7L583.6 1754.5L562.9 1742.7L540.8 1730.4L517.3 1717.5L492.2 1703.9L465.7 1689.6Z" fill="#4fbdd1"/>
<path d="M459.5 2043L486.6 2029.7L512.1 2017.2L536.2 2005.4L558.9 1994.6L580.3 1984.6L600.4 1975.5L619.2 1967.3L636.9 1960L653.4 1953.8L668.9 1948.5L683.3 1944.2L696.7 1941L709.1 1938.8L720.7 1937.6L731.4 1937.5L741.3 1938.5L750.6 1940.5L759.2 1943.5L767.4 1947.7L775.2 1953L782.7 1959.5L790 1967.4L797.2 1976.5L804.2 1987.1L811.1 1999.1L817.9 2012.5L824.7 2027.3L831.5 2043.6L838.4 2061.5L845.4 2080.8L852.6 2101.6L860 2124L867.7 2148L875.8 2173.5L884.3 2200.7L893.2 2229.5L906.5 2225.3L897.6 2196.5L889.2 2169.3L881.1 2143.7L873.4 2119.7L865.9 2097.1L858.7 2076.1L851.6 2056.5L844.6 2038.4L837.6 2021.7L830.6 2006.4L823.5 1992.4L816.2 1979.7L808.7 1968.3L800.9 1958.2L792.6 1949.3L783.9 1941.7L774.7 1935.4L764.8 1930.4L754.5 1926.7L743.5 1924.3L732 1923.2L719.9 1923.2L707.2 1924.5L693.7 1926.8L679.5 1930.2L664.4 1934.7L648.5 1940.1L631.5 1946.5L613.5 1953.9L594.5 1962.2L574.2 1971.3L552.7 1981.4L529.9 1992.3L505.7 2004L480.1 2016.6L453.1 2029.9Z" fill="#4fbdd1"/>
<path d="M645.6 2214.9L657.6 2187.2L668.8 2161.1L679.5 2136.6L689.4 2113.7L698.8 2092.4L707.5 2072.7L715.6 2054.6L723.1 2038.2L729.9 2023.3L736.2 2010.1L741.8 1998.4L746.9 1988.5L751.3 1980.1L755.2 1973.5L758.4 1968.5L760.9 1965.4L762.1 1964.4L759.4 1964.7L757.2 1963L757.2 1964.4L757 1968.3L756.4 1974.1L755.2 1981.7L753.6 1991L751.4 2001.9L748.8 2014.5L745.7 2028.8L742.1 2044.8L738.1 2062.4L733.7 2081.7L728.8 2102.7L723.6 2125.3L717.9 2149.6L711.8 2175.6L705.3 2203.3L698.4 2232.6L712 2235.8L718.9 2206.5L725.3 2178.8L731.3 2152.8L736.9 2128.4L742.1 2105.7L746.8 2084.7L751 2065.3L754.8 2047.6L758.2 2031.5L761 2017L763.4 2004.2L765.3 1993L766.7 1983.4L767.6 1975.4L768 1968.9L767.9 1963.8L766.9 1959.4L762.6 1955.2L756.8 1956.3L753.8 1959.4L750.9 1963.5L747.7 1969.1L743.9 1976.2L739.7 1984.8L734.8 1995.1L729.4 2006.9L723.3 2020.3L716.7 2035.3L709.4 2051.9L701.5 2070.1L692.9 2089.9L683.7 2111.2L673.8 2134.2L663.3 2158.7L652 2184.8L640.1 2212.5Z" fill="#4fbdd1"/>
<path d="M430.4 1967.5L459.7 1960.1L487.3 1953.3L513.3 1946.9L537.9 1941L561 1935.7L582.7 1931L603.1 1926.9L622.3 1923.4L640.2 1920.7L656.9 1918.7L672.6 1917.4L687.2 1917L700.8 1917.3L713.5 1918.5L725.3 1920.5L736.3 1923.5L746.6 1927.3L756.2 1932.1L765.3 1937.8L773.9 1944.6L782.1 1952.5L790 1961.6L797.6 1971.8L804.9 1983.2L812.1 1996L819.2 2010L826.1 2025.3L833.1 2042.1L840.1 2060.2L847.2 2079.8L854.4 2100.8L861.9 2123.3L869.6 2147.3L877.7 2172.9L886.2 2200.1L895.1 2228.9L904.6 2225.9L895.7 2197.1L887.3 2169.9L879.2 2144.3L871.4 2120.2L863.9 2097.6L856.6 2076.4L849.4 2056.7L842.4 2038.4L835.3 2021.4L828.1 2005.7L820.9 1991.3L813.5 1978.1L805.8 1966.1L797.7 1955.3L789.3 1945.7L780.4 1937.2L771 1929.8L761.1 1923.5L750.5 1918.2L739.3 1914L727.4 1910.9L714.8 1908.7L701.4 1907.5L687.2 1907.1L672 1907.6L656 1908.9L638.8 1911L620.7 1913.7L601.3 1917.2L580.7 1921.4L558.9 1926.1L535.7 1931.4L511 1937.3L484.9 1943.7L457.3 1950.6L428 1958Z" fill="#4fbdd1"/>
<path d="M419.2 1840.8L449.2 1844L477.6 1847L504.4 1849.8L529.9 1852.4L554 1854.9L576.8 1857.1L598.6 1859.2L619.3 1861.1L639 1862.9L657.9 1864.5L676.1 1865.9L693.6 1867.2L710.5 1868.3L727 1869.3L743.1 1870.1L758.9 1870.8L774.5 1871.4L790 1871.8L805.5 1872.1L821.2 1872.3L837 1872.4L853.1 1872.4L869.5 1872.3L886.5 1872.1L904 1871.8L922.2 1871.4L941.2 1870.9L961 1870.3L981.7 1869.6L1003.6 1868.9L1026.5 1868.1L1050.7 1867.3L1076.3 1866.4L1103.3 1865.4L1131.8 1864.4L1161.9 1863.3L1161.6 1854.7L1131.5 1855.8L1103 1856.7L1076 1857.6L1050.5 1858.4L1026.3 1859.1L1003.3 1859.7L981.5 1860.2L960.7 1860.6L941 1860.9L922 1861.2L903.9 1861.3L886.4 1861.3L869.5 1861.2L853.1 1861L837.1 1860.7L821.4 1860.2L805.9 1859.7L790.5 1859L775.1 1858.2L759.6 1857.3L743.9 1856.3L727.9 1855.1L711.6 1853.8L694.8 1852.4L677.4 1850.8L659.3 1849.1L640.5 1847.3L620.8 1845.3L600.2 1843.1L578.5 1840.9L555.7 1838.4L531.6 1835.8L506.2 1833.1L479.4 1830.2L451 1827.1L421 1823.9Z" fill="#ae5395"/>
<path d="M546.9 1590.3L566 1613.6L584 1635.6L601 1656.4L616.8 1676.1L631.5 1694.7L645.1 1712.3L657.5 1728.9L668.9 1744.7L679.1 1759.7L688.2 1774L696.1 1787.6L702.9 1800.5L708.6 1813L713.1 1824.9L716.6 1836.4L718.9 1847.7L720.2 1858.6L720.5 1869.5L719.6 1880.3L717.7 1891.2L714.7 1902.3L710.6 1913.7L705.3 1925.4L698.8 1937.5L691.2 1950.1L682.4 1963.2L672.4 1976.9L661.2 1991.2L648.8 2006.2L635.3 2022L620.5 2038.7L604.5 2056.2L587.4 2074.8L569 2094.3L549.5 2115L528.7 2136.9L538.9 2146.5L559.6 2124.7L579.2 2104L597.7 2084.4L614.9 2065.8L631 2048.2L646 2031.5L659.8 2015.5L672.5 2000.3L684 1985.7L694.4 1971.7L703.7 1958.2L711.9 1945L718.9 1932.2L724.7 1919.6L729.4 1907.1L733 1894.8L735.3 1882.4L736.4 1870.1L736.4 1857.7L735.1 1845.1L732.6 1832.5L728.9 1819.6L724.1 1806.5L718.2 1793.1L711.1 1779.3L702.9 1765L693.6 1750.2L683.2 1734.7L671.8 1718.6L659.2 1701.6L645.5 1683.7L630.8 1665L614.9 1645.1L598 1624.2L579.9 1602.2L560.8 1578.9Z" fill="#ae5395"/>
<path d="M459.1 1701.9L485.6 1716.3L510.6 1729.8L534.1 1742.6L556.2 1754.8L576.7 1766.5L595.8 1777.6L613.5 1788.2L629.7 1798.4L644.5 1808.3L658 1817.9L670 1827.2L680.6 1836.4L689.9 1845.4L697.8 1854.3L704.4 1863.2L709.8 1872.2L713.9 1881.2L716.9 1890.4L718.8 1899.9L719.5 1909.8L719.1 1920.2L717.6 1931.3L714.9 1943L711.1 1955.4L706.2 1968.5L700.1 1982.5L692.9 1997.4L684.6 2013.2L675.2 2029.9L664.7 2047.7L653.2 2066.6L640.6 2086.6L627 2107.8L612.3 2130.3L596.7 2154.1L580.1 2179.2L590.2 2185.8L606.8 2160.7L622.4 2136.9L637.1 2114.4L650.8 2093.1L663.5 2073L675.2 2054L685.8 2036.1L695.5 2019.1L704 2003.1L711.5 1987.8L717.9 1973.4L723.2 1959.6L727.4 1946.4L730.4 1933.7L732.2 1921.5L732.8 1909.7L732 1898.2L730 1887.1L726.7 1876.3L722 1865.8L716 1855.6L708.7 1845.5L700.1 1835.7L690.2 1825.9L679.1 1816.2L666.6 1806.3L652.8 1796.4L637.7 1786.2L621.2 1775.7L603.4 1764.8L584.1 1753.6L563.4 1741.9L541.3 1729.6L517.8 1716.7L492.7 1703.1L466.2 1688.7Z" fill="#ae5395"/>
<path d="M459.2 2042.3L486.2 2029L511.8 2016.4L535.9 2004.7L558.6 1993.8L579.9 1983.8L600 1974.7L618.9 1966.5L636.6 1959.3L653.1 1953L668.6 1947.7L683 1943.4L696.5 1940.1L709 1937.9L720.7 1936.8L731.4 1936.7L741.5 1937.6L750.8 1939.6L759.6 1942.7L767.8 1946.9L775.7 1952.3L783.4 1958.9L790.7 1966.8L797.9 1976L805 1986.6L811.9 1998.6L818.7 2012.1L825.6 2026.9L832.4 2043.3L839.3 2061.1L846.3 2080.4L853.5 2101.3L861 2123.7L868.7 2147.7L876.8 2173.2L885.2 2200.4L894.1 2229.2L905.6 2225.6L896.7 2196.8L888.2 2169.6L880.2 2144L872.4 2120L865 2097.5L857.7 2076.4L850.6 2056.9L843.7 2038.8L836.7 2022.1L829.7 2006.8L822.7 1992.8L815.4 1980.2L807.9 1968.9L800.2 1958.8L792 1950L783.3 1942.5L774.2 1936.2L764.5 1931.2L754.2 1927.6L743.4 1925.2L732 1924L720 1924.1L707.3 1925.3L693.9 1927.7L679.7 1931L664.7 1935.5L648.8 1940.9L631.8 1947.3L613.9 1954.6L594.8 1962.9L574.5 1972.1L553 1982.1L530.2 1993L506.1 2004.8L480.5 2017.3L453.4 2030.6Z" fill="#ae5395"/>
<path d="M645.6 2214.9L657.6 2187.2L668.8 2161.1L679.5 2136.6L689.4 2113.7L698.8 2092.4L707.5 2072.7L715.5 2054.6L723 2038.1L729.8 2023.3L736.1 2010L741.7 1998.4L746.8 1988.4L751.2 1980.1L755.1 1973.4L758.3 1968.4L760.7 1965.3L762 1964.2L759.5 1964.5L757.5 1962.9L757.5 1964.4L757.4 1968.3L756.7 1974.2L755.6 1981.7L753.9 1991L751.8 2002L749.2 2014.6L746.1 2028.9L742.6 2044.9L738.6 2062.5L734.2 2081.8L729.3 2102.8L724 2125.4L718.3 2149.7L712.2 2175.7L705.7 2203.4L698.9 2232.7L711.5 2235.7L718.4 2206.3L724.8 2178.7L730.9 2152.6L736.5 2128.3L741.6 2105.6L746.3 2084.6L750.6 2065.2L754.4 2047.5L757.8 2031.4L760.6 2016.9L763 2004.1L764.9 1992.9L766.4 1983.4L767.3 1975.4L767.7 1968.9L767.6 1963.8L766.6 1959.5L762.5 1955.5L756.9 1956.5L753.9 1959.5L751.1 1963.6L747.8 1969.2L744.1 1976.3L739.8 1984.9L734.9 1995.1L729.4 2006.9L723.4 2020.3L716.7 2035.3L709.4 2051.9L701.5 2070.1L692.9 2089.9L683.7 2111.2L673.8 2134.2L663.3 2158.7L652 2184.8L640.1 2212.5Z" fill="#ae5395"/>
<path d="M820.3 1501.2L817.7 1531.3L815.2 1559.6L813 1586.3L811 1611.5L809.3 1635L808.1 1657.1L807.2 1677.6L806.7 1696.8L806.8 1714.5L807.4 1730.9L808.5 1746L810.3 1759.8L812.8 1772.4L816 1783.8L820 1794.1L824.9 1803.3L830.7 1811.3L837.4 1818.4L845.1 1824.3L853.8 1829.1L863.5 1833L874.2 1835.8L886 1837.7L898.8 1838.7L912.8 1838.9L928 1838.3L944.3 1837L962 1835L981 1832.3L1001.3 1828.9L1023.1 1825L1046.3 1820.5L1071 1815.5L1097.2 1810.1L1125.1 1804.1L1154.6 1797.8L1152.9 1790L1123.4 1796.3L1095.6 1802.3L1069.4 1807.7L1044.7 1812.8L1021.6 1817.3L1000 1821.3L979.8 1824.6L961 1827.4L943.6 1829.5L927.5 1830.9L912.7 1831.6L899.1 1831.5L886.8 1830.7L875.6 1829L865.6 1826.4L856.7 1823L848.7 1818.7L841.7 1813.5L835.6 1807.3L830.2 1800L825.6 1791.5L821.7 1781.9L818.5 1771L816 1758.8L814.2 1745.4L812.9 1730.6L812.3 1714.4L812.1 1696.8L812.5 1677.8L813.3 1657.3L814.5 1635.3L816.1 1611.8L818 1586.7L820.2 1560L822.6 1531.7L825.3 1501.7Z" fill="#ae5395"/>
<path d="M820.8 1501.3L818.2 1531.3L815.7 1559.7L813.5 1586.4L811.5 1611.6L809.9 1635.2L808.6 1657.4L807.7 1678.1L807.3 1697.5L807.4 1715.5L808 1732.3L809.3 1747.8L811.1 1762.1L813.7 1775.3L817 1787.4L821 1798.5L826 1808.6L831.8 1817.7L838.6 1826L846.3 1833.2L855.1 1839.7L864.9 1845.2L875.7 1850L887.6 1854.1L900.7 1857.5L914.9 1860.2L930.4 1862.4L947.1 1864L965.1 1865.1L984.5 1865.8L1005.3 1866.2L1027.5 1866.1L1051.2 1865.8L1076.5 1865.3L1103.3 1864.5L1131.8 1863.6L1161.9 1862.5L1161.7 1855.5L1131.5 1856.6L1103.1 1857.5L1076.3 1858.3L1051.1 1858.9L1027.4 1859.3L1005.3 1859.4L984.7 1859.1L965.4 1858.5L947.6 1857.5L931.1 1856L915.9 1854L902 1851.4L889.4 1848.2L877.8 1844.4L867.5 1840L858.2 1834.8L849.9 1828.9L842.6 1822.2L836.1 1814.6L830.5 1806L825.8 1796.5L821.7 1785.9L818.4 1774.2L815.8 1761.3L813.9 1747.3L812.6 1732L811.9 1715.4L811.7 1697.5L812 1678.3L812.8 1657.6L814 1635.5L815.6 1611.9L817.5 1586.7L819.7 1560L822.1 1531.7L824.8 1501.6Z" fill="#ae5395"/>
<path d="M430.3 1967.1L459.6 1959.8L487.2 1952.9L513.3 1946.5L537.9 1940.6L561.1 1935.2L582.9 1930.4L603.5 1926.3L622.9 1922.8L641.1 1919.9L658.2 1917.7L674.4 1916.3L689.5 1915.6L703.8 1915.7L717.2 1916.6L730 1918.4L742 1920.9L753.4 1924.4L764.4 1928.8L774.9 1934.1L785.1 1940.4L794.9 1947.7L804.7 1956.1L814.2 1965.6L823.7 1976.2L833.3 1988L842.9 2001.1L852.6 2015.4L862.5 2030.9L872.6 2047.8L883.1 2065.9L894 2085.5L905.3 2106.4L917.2 2128.8L929.6 2152.6L942.8 2177.9L956.6 2204.6L964.6 2200.5L950.7 2173.7L937.6 2148.4L925.2 2124.6L913.3 2102.2L901.9 2081.2L891 2061.5L880.4 2043.2L870.1 2026.2L860.1 2010.4L850.2 1995.9L840.4 1982.6L830.6 1970.4L820.8 1959.4L810.8 1949.5L800.6 1940.7L790.1 1932.9L779.3 1926.2L768.1 1920.6L756.4 1915.9L744.2 1912.2L731.5 1909.5L718.1 1907.7L704.1 1906.7L689.3 1906.6L673.7 1907.3L657.3 1908.8L639.8 1911L621.4 1913.9L601.8 1917.4L581.1 1921.6L559.1 1926.4L535.8 1931.8L511.2 1937.7L485 1944.1L457.4 1951L428.1 1958.4Z" fill="#ae5395"/>
<path d="M430.3 1967.1L459.6 1959.8L487.2 1952.9L513.1 1946.5L537.6 1940.7L560.4 1935.4L581.8 1930.7L601.7 1926.7L620.1 1923.3L637.2 1920.6L652.8 1918.7L667.1 1917.5L680 1917.2L691.6 1917.6L701.8 1918.9L710.8 1921.1L718.6 1924L725.1 1927.8L730.6 1932.4L735.2 1937.9L738.9 1944.4L741.9 1952.1L744 1961L745.4 1971.2L745.9 1982.8L745.6 1995.6L744.6 2009.9L742.9 2025.5L740.4 2042.5L737.3 2061L733.5 2080.9L729.1 2102.3L724.1 2125.2L718.7 2149.7L712.7 2175.8L706.2 2203.5L699.4 2232.8L711 2235.6L717.9 2206.2L724.3 2178.5L730.3 2152.4L735.8 2127.8L740.7 2104.7L745 2083.2L748.8 2063L751.9 2044.3L754.3 2026.9L756 2010.9L757 1996.1L757.1 1982.6L756.4 1970.2L754.8 1959L752.3 1948.8L748.6 1939.7L743.9 1931.7L738 1924.9L731 1919.2L722.8 1914.7L713.7 1911.4L703.5 1909.1L692.3 1907.8L680 1907.4L666.5 1907.9L651.8 1909.2L635.8 1911.3L618.5 1914L599.9 1917.5L579.9 1921.7L558.4 1926.4L535.5 1931.8L511 1937.7L485 1944.1L457.4 1951L428.1 1958.4Z" fill="#ae5395"/>
<path d="M821.8 1501.4L819.1 1531.4L816.6 1559.7L814.2 1586.3L812 1611.2L809.8 1634.3L807.8 1655.8L805.8 1675.5L803.9 1693.5L802.1 1709.8L800.4 1724.4L798.7 1737.2L797 1748.4L795.4 1757.8L793.8 1765.5L792.2 1771.4L790.7 1775.6L789.3 1778L788.4 1778.5L787.4 1778L785.9 1775.7L784.2 1771.6L782.5 1765.7L780.6 1758.1L778.7 1748.7L776.6 1737.6L774.5 1724.8L772.2 1710.3L769.8 1694.1L767.3 1676.2L764.7 1656.5L761.9 1635.1L758.9 1612.1L755.8 1587.3L752.5 1560.8L749 1532.6L745.3 1502.7L743.3 1502.9L747 1532.9L750.5 1561.1L753.8 1587.5L756.9 1612.3L759.9 1635.4L762.7 1656.8L765.4 1676.4L767.9 1694.4L770.2 1710.6L772.5 1725.1L774.6 1738L776.7 1749.1L778.6 1758.5L780.5 1766.2L782.4 1772.2L784.1 1776.6L786 1779.4L788.4 1780.5L790.7 1779.3L792.5 1776.5L794.2 1772L795.8 1765.9L797.4 1758.2L799 1748.7L800.7 1737.5L802.4 1724.6L804.1 1710L805.9 1693.7L807.8 1675.7L809.8 1655.9L811.8 1634.5L814 1611.3L816.2 1586.5L818.6 1559.9L821.1 1531.6L823.8 1501.5Z" fill="#ae5395"/>
<path d="M492.2 2094.9L516.5 2077.1L539.5 2060.2L561.2 2044.4L581.8 2029.6L601.4 2015.9L620 2003.1L637.6 1991.3L654.4 1980.5L670.5 1970.8L685.9 1962L700.7 1954.2L714.9 1947.3L728.7 1941.4L742.2 1936.5L755.3 1932.5L768.2 1929.5L781 1927.4L793.8 1926.1L806.6 1925.8L819.5 1926.4L832.7 1927.8L846.1 1930.2L860 1933.4L874.4 1937.5L889.3 1942.5L904.9 1948.3L921.3 1955.1L938.4 1962.7L956.5 1971.1L975.5 1980.4L995.6 1990.6L1016.8 2001.6L1039.2 2013.5L1062.9 2026.1L1088 2039.6L1114.5 2053.9L1120.2 2043.4L1093.7 2029.1L1068.6 2015.6L1044.8 2003L1022.2 1991.2L1000.9 1980.2L980.6 1970.1L961.4 1960.8L943.1 1952.4L925.6 1944.9L908.9 1938.2L892.8 1932.4L877.4 1927.5L862.5 1923.5L848 1920.4L834 1918.2L820.2 1916.9L806.6 1916.6L793.2 1917.2L779.8 1918.7L766.5 1921.2L753.1 1924.6L739.6 1928.9L725.8 1934.2L711.8 1940.4L697.3 1947.6L682.4 1955.7L666.9 1964.8L650.8 1974.8L634 1985.8L616.3 1997.8L597.8 2010.7L578.2 2024.6L557.6 2039.5L535.9 2055.3L512.9 2072.2L488.6 2090.1Z" fill="#ae5395"/>
<path d="M739.3 1503.4L743 1533.4L746.6 1561.7L750 1588.4L753.3 1613.8L756.5 1637.7L759.8 1660.4L763 1681.9L766.3 1702.2L769.6 1721.6L773.1 1740L776.8 1757.6L780.6 1774.4L784.7 1790.5L789 1806L793.6 1820.9L798.6 1835.5L803.9 1849.6L809.7 1863.6L815.9 1877.3L822.5 1890.9L829.7 1904.4L837.5 1918.1L845.8 1931.8L854.7 1945.8L864.3 1960.1L874.6 1974.8L885.6 1989.9L897.3 2005.7L909.9 2022L923.3 2039.1L937.5 2057.1L952.7 2075.9L968.8 2095.7L985.9 2116.6L1003.9 2138.6L1023.1 2161.9L1029.3 2156.9L1010.1 2133.6L992.1 2111.5L975 2090.6L959 2070.8L943.8 2052L929.7 2034.1L916.4 2017L903.9 2000.7L892.3 1985L881.4 1969.9L871.3 1955.3L861.9 1941.2L853.1 1927.3L845 1913.7L837.4 1900.2L830.4 1886.9L823.9 1873.5L817.9 1860L812.4 1846.3L807.2 1832.4L802.4 1818.1L797.9 1803.3L793.7 1788.1L789.8 1772.2L786.1 1755.6L782.6 1738.2L779.2 1719.9L775.9 1700.7L772.7 1680.4L769.5 1659L766.3 1636.4L763.1 1612.5L759.9 1587.2L756.5 1560.4L753 1532.1L749.2 1502.2Z" fill="#4fbdd1"/>
<path d="M742.8 1503L746.5 1532.9L750 1561.2L753.4 1588L756.7 1613.3L760 1637.2L763.2 1659.9L766.4 1681.4L769.6 1701.7L772.9 1721L776.4 1739.4L780 1756.9L783.7 1773.6L787.7 1789.6L792 1805.1L796.6 1820L801.5 1834.4L806.8 1848.5L812.4 1862.4L818.5 1876L825.1 1889.5L832.3 1903.1L839.9 1916.6L848.2 1930.4L857 1944.3L866.6 1958.6L876.8 1973.2L887.7 1988.4L899.4 2004.1L911.9 2020.4L925.3 2037.5L939.5 2055.5L954.6 2074.3L970.7 2094.1L987.8 2115L1005.9 2137.1L1025 2160.4L1027.3 2158.5L1008.2 2135.2L990.1 2113.1L973.1 2092.2L957 2072.4L941.9 2053.6L927.6 2035.7L914.3 2018.6L901.8 2002.3L890.1 1986.6L879.2 1971.5L869 1956.9L859.5 1942.7L850.7 1928.8L842.5 1915.1L834.9 1901.6L827.8 1888.2L821.3 1874.7L815.2 1861.2L809.5 1847.4L804.3 1833.4L799.4 1819L794.9 1804.2L790.7 1788.9L786.7 1772.9L782.9 1756.2L779.3 1738.8L775.9 1720.5L772.6 1701.2L769.3 1680.9L766.1 1659.5L762.9 1636.8L759.7 1612.9L756.4 1587.6L753 1560.9L749.5 1532.6L745.8 1502.6Z" fill="#ae5395"/>
</g>
<path d="M790 1434A438 438 0 0 1 866.9 1440.8L856.8 1497.7A380.2 380.2 0 0 0 790 1491.8Z" fill="#f39685"/>
<path d="M866.9 1440.8A438 438 0 0 1 941.5 1461L921.5 1515.3A380.2 380.2 0 0 0 856.8 1497.7Z" fill="#e71d36"/>
<path d="M941.5 1461A438 438 0 0 1 1011.3 1494L982.1 1543.9A380.2 380.2 0 0 0 921.5 1515.3Z" fill="#f39685"/>
<path d="M1011.3 1494A438 438 0 0 1 1074.3 1538.8L1036.8 1582.8A380.2 380.2 0 0 0 982.1 1543.9Z" fill="#e71d36"/>
<path d="M1074.3 1538.8A438 438 0 0 1 1128.4 1593.9L1083.7 1630.6A380.2 380.2 0 0 0 1036.8 1582.8Z" fill="#f39685"/>
<path d="M1128.4 1593.9A438 438 0 0 1 1172 1657.7L1121.6 1686A380.2 380.2 0 0 0 1083.7 1630.6Z" fill="#e71d36"/>
<path d="M1172 1657.7A438 438 0 0 1 1203.7 1728.1L1149.1 1747.1A380.2 380.2 0 0 0 1121.6 1686Z" fill="#f39685"/>
<path d="M1208.5 1742.7A438 438 0 0 1 1224.7 1818.2L1167.3 1825.3A380.2 380.2 0 0 0 1153.2 1759.7Z" fill="#94acd7"/>
<path d="M1224.7 1818.2A438 438 0 0 1 1227.4 1895.4L1169.7 1892.3A380.2 380.2 0 0 0 1167.3 1825.3Z" fill="#2779b8"/>
<path d="M1227.4 1895.4A438 438 0 0 1 1216.5 1971.8L1160.2 1958.7A380.2 380.2 0 0 0 1169.7 1892.3Z" fill="#94acd7"/>
<path d="M1216.5 1971.8A438 438 0 0 1 1192.3 2045.2L1139.2 2022.4A380.2 380.2 0 0 0 1160.2 1958.7Z" fill="#2779b8"/>
<path d="M1192.3 2045.2A438 438 0 0 1 1155.6 2113.2L1107.4 2081.4A380.2 380.2 0 0 0 1139.2 2022.4Z" fill="#94acd7"/>
<path d="M1147 2125.8A438 438 0 0 1 1096.8 2184.6L1056.3 2143.3A380.2 380.2 0 0 0 1099.9 2092.3Z" fill="#a5cfa4"/>
<path d="M1096.8 2184.6A438 438 0 0 1 1037.2 2233.6L1004.5 2185.9A380.2 380.2 0 0 0 1056.3 2143.3Z" fill="#47aa55"/>
<path d="M1024.4 2242A438 438 0 0 1 955.7 2277.4L933.9 2223.9A380.2 380.2 0 0 0 993.5 2193.2Z" fill="#b698bf"/>
<path d="M955.7 2277.4A438 438 0 0 1 881.9 2300.2L869.8 2243.7A380.2 380.2 0 0 0 933.9 2223.9Z" fill="#8a4c90"/>
<path d="M881.9 2300.2A438 438 0 0 1 805.3 2309.7L803.3 2252A380.2 380.2 0 0 0 869.8 2243.7Z" fill="#b698bf"/>
<path d="M805.3 2309.7A438 438 0 0 1 728.2 2305.6L736.3 2248.4A380.2 380.2 0 0 0 803.3 2252Z" fill="#8a4c90"/>
<path d="M728.2 2305.6A438 438 0 0 1 652.9 2288L671 2233.1A380.2 380.2 0 0 0 736.3 2248.4Z" fill="#b698bf"/>
<path d="M652.9 2288A438 438 0 0 1 582 2257.5L609.4 2206.6A380.2 380.2 0 0 0 671 2233.1Z" fill="#8a4c90"/>
<path d="M582 2257.5A438 438 0 0 1 517.5 2214.9L553.5 2169.7A380.2 380.2 0 0 0 609.4 2206.6Z" fill="#b698bf"/>
<path d="M517.5 2214.9A438 438 0 0 1 461.5 2161.7L504.9 2123.5A380.2 380.2 0 0 0 553.5 2169.7Z" fill="#8a4c90"/>
<path d="M461.5 2161.7A438 438 0 0 1 415.7 2099.5L465.1 2069.5A380.2 380.2 0 0 0 504.9 2123.5Z" fill="#b698bf"/>
<path d="M415.7 2099.5A438 438 0 0 1 381.6 2030.2L435.5 2009.3A380.2 380.2 0 0 0 465.1 2069.5Z" fill="#8a4c90"/>
<path d="M376.3 2015.9A438 438 0 0 1 357.5 1941L414.5 1931.9A380.2 380.2 0 0 0 430.9 1996.9Z" fill="#f9ba8d"/>
<path d="M357.5 1941A438 438 0 0 1 352.1 1863.9L409.9 1865A380.2 380.2 0 0 0 414.5 1931.9Z" fill="#f08133"/>
<path d="M352.1 1863.9A438 438 0 0 1 360.3 1787.1L417 1798.3A380.2 380.2 0 0 0 409.9 1865Z" fill="#f9ba8d"/>
<path d="M363.5 1772.2A438 438 0 0 1 387.7 1698.8L440.8 1721.6A380.2 380.2 0 0 0 419.8 1785.3Z" fill="#dfd995"/>
<path d="M387.7 1698.8A438 438 0 0 1 424.4 1630.8L472.6 1662.6A380.2 380.2 0 0 0 440.8 1721.6Z" fill="#c4b434"/>
<path d="M424.4 1630.8A438 438 0 0 1 472.4 1570.3L514.3 1610.1A380.2 380.2 0 0 0 472.6 1662.6Z" fill="#dfd995"/>
<path d="M483.2 1559.4A438 438 0 0 1 542.8 1510.4L575.5 1558.1A380.2 380.2 0 0 0 523.7 1600.7Z" fill="#e49bc2"/>
<path d="M542.8 1510.4A438 438 0 0 1 610.2 1472.6L633.9 1525.3A380.2 380.2 0 0 0 575.5 1558.1Z" fill="#d02d8d"/>
<path d="M624.3 1466.6A438 438 0 0 1 698.1 1443.8L710.2 1500.3A380.2 380.2 0 0 0 646.1 1520.1Z" fill="#9b9ccb"/>
<path d="M698.1 1443.8A438 438 0 0 1 774.7 1434.3L776.7 1492A380.2 380.2 0 0 0 710.2 1500.3Z" fill="#4b5aa1"/>
<path d="M831.7 1401.2L919.7 1394L1003.1 1421L1104.2 1430L1175.7 1493.4L1210.1 1584.8L1269.2 1656.3" fill="none" stroke="#2e80c3" stroke-width="2.2" stroke-linejoin="round"/>
<path d="M838.4 1325.7L929.2 1358.7L1016.4 1393L1080.5 1463.4L1148.9 1519.6L1222.7 1576.3L1256.6 1662" fill="none" stroke="#f08a3c" stroke-width="2.2" stroke-linejoin="round"/>
<path d="M1250.2 1773.2L1260.7 1855.6L1261.2 1939.2L1307.4 2042.5L1250.3 2120.4" fill="none" stroke="#2e80c3" stroke-width="2.2" stroke-linejoin="round"/>
<path d="M1326 1756.9L1337.9 1852.9L1330.9 1949.2L1264.2 2028.2L1241.9 2115.9" fill="none" stroke="#f08a3c" stroke-width="2.2" stroke-linejoin="round"/>
<path d="M1207.1 2227.9L1122.4 2276.5" fill="none" stroke="#2e80c3" stroke-width="2.2" stroke-linejoin="round"/>
<path d="M1147.4 2176.9L1099.6 2248.8" fill="none" stroke="#f08a3c" stroke-width="2.2" stroke-linejoin="round"/>
<path d="M1006.2 2290.9L929 2321.6L848.7 2346.4L764.3 2353.7L679.3 2345L593.9 2327.6L515.3 2288.4L445.6 2234.5L350.8 2195.2L337.2 2095.2" fill="none" stroke="#2e80c3" stroke-width="2.2" stroke-linejoin="round"/>
<path d="M1041.2 2358.9L951.7 2395L856.6 2410.2L761.2 2410.9L667.4 2395.6L579.8 2360.3L498.6 2313.7L426 2255.2L388 2167.9L318.5 2104.3" fill="none" stroke="#f08a3c" stroke-width="2.2" stroke-linejoin="round"/>
<path d="M330.7 1987.5L244.1 1910.2L293 1818.7" fill="none" stroke="#2e80c3" stroke-width="2.2" stroke-linejoin="round"/>
<path d="M264.8 2004.1L297.2 1906.5L268.4 1816.1" fill="none" stroke="#f08a3c" stroke-width="2.2" stroke-linejoin="round"/>
<path d="M269.7 1700.6L374 1647.5L408.2 1568.6" fill="none" stroke="#2e80c3" stroke-width="2.2" stroke-linejoin="round"/>
<path d="M342.4 1724.5L334.8 1626.3L389.5 1553.7" fill="none" stroke="#f08a3c" stroke-width="2.2" stroke-linejoin="round"/>
<path d="M490.6 1507.7L522.1 1394.4" fill="none" stroke="#2e80c3" stroke-width="2.2" stroke-linejoin="round"/>
<path d="M448 1455.9L550.9 1445.9" fill="none" stroke="#f08a3c" stroke-width="2.2" stroke-linejoin="round"/>
<path d="M628.1 1348.2L723 1330.9" fill="none" stroke="#2e80c3" stroke-width="2.2" stroke-linejoin="round"/>
<path d="M651.1 1422.7L732.1 1404.1" fill="none" stroke="#f08a3c" stroke-width="2.2" stroke-linejoin="round"/>
<g fill="#1a1a1a">
<text transform="translate(835.3 1466.7) rotate(-84.86)" font-size="18.19">Tumor stage</text>
<text transform="translate(902.9 1479.3) rotate(-74.01)" font-size="18.19">N/L ratio</text>
<text transform="translate(970.9 1501.9) rotate(-63.31)" font-size="18.19">Sex</text>
<text transform="translate(1029.8 1536.6) rotate(-57.32)" font-size="18.65">Treatment arm</text>
<text transform="translate(1089.8 1587.6) rotate(-42.26)" font-size="18.44">Center</text>
<text transform="translate(1129.9 1640.6) rotate(-32.95)" font-size="18.19">BMI</text>
<text transform="translate(1168.5 1703.3) rotate(-27.68)" font-size="18.54">Comedications at baseline</text>
<text transform="translate(1185.5 1787.8) rotate(-14.29)" font-size="18.59">N1,N12−diacetylspermine</text>
<text transform="translate(1195.1 1860.3) rotate(-2.94)" font-size="18.52">N8−acetylspermidine</text>
<text transform="translate(1188.3 1932.4) rotate(5.83)" font-size="18.51">N1−acetylspermidine</text>
<text transform="translate(1168.9 2001.2) rotate(16.94)" font-size="18.19">Ornithine</text>
<text transform="translate(1147.7 2065.9) rotate(29.18)" font-size="18.19">Arginine</text>
<text transform="translate(1093.5 2139.7) rotate(36.23)" font-size="18.19">Cholic acid</text>
<text transform="translate(1039.5 2180.2) rotate(47.46)" font-size="18.36">Chenodeoxycholic acid</text>
<text transform="translate(971 2236) rotate(58.74)" font-size="18.4">Carnitine C10:1</text>
<text transform="translate(907.6 2257.4) rotate(68.93)" font-size="17.79">Oleic;Elaidic;Vaccenic acid</text>
<text transform="translate(835.4 2269.3) rotate(82.59)" font-size="18.29">Nodecenoic acid</text>
<text transform="translate(769.3 2452.9) rotate(-88.30)" font-size="17.79">Hexadecanedioic acid</text>
<text transform="translate(673.6 2366.6) rotate(-75.15)" font-size="18.19">Linoleic acid</text>
<text transform="translate(594.2 2336.7) rotate(-63.91)" font-size="18.19">PCae(18:2)</text>
<text transform="translate(507.8 2313.3) rotate(-58.26)" font-size="18.19">Acetylcarnitine</text>
<text transform="translate(424.8 2268.6) rotate(-46.48)" font-size="18.07">Arachidonic acid</text>
<text transform="translate(376.7 2184.9) rotate(-35.64)" font-size="18.19">12(S)−HHTrE</text>
<text transform="translate(350.3 2102.5) rotate(-29.18)" font-size="18.19">PCae(20:3)</text>
<text transform="translate(193.1 2027.8) rotate(-13.41)" font-size="18.47">5−Hydroxy−DL−tryptophan</text>
<text transform="translate(210.7 1911.3) rotate(-1.73)" font-size="18.43">3−indoxyl sulfuric acid</text>
<text transform="translate(291.9 1829.2) rotate(4.61)" font-size="18.19">Kynurenine</text>
<text transform="translate(308.9 1707.9) rotate(23.61)" font-size="18.19">L−Thyroxine</text>
<text transform="translate(245.8 1585.1) rotate(28.14)" font-size="18.34">S−adenosylhomocysteine</text>
<text transform="translate(312.7 1509.9) rotate(35.39)" font-size="18.18">3−phenylpropionic acid</text>
<text transform="translate(465.7 1486.7) rotate(50.53)" font-size="18.19">Trigonelline</text>
<text transform="translate(509.3 1374.2) rotate(61.40)" font-size="18.25">1−Methylnicotimide</text>
<text transform="translate(602.7 1299.5) rotate(71.37)" font-size="18.08"><tspan font-style="italic">F. prausnitzii</tspan> SGB15318</text>
<text transform="translate(704.9 1275.7) rotate(81.53)" font-size="18.29"><tspan font-style="italic">R. bacterium</tspan> SGB14899</text>
</g>
<g font-weight="bold" text-anchor="middle">
<text transform="translate(1169.7 1350.4) rotate(40.1)" font-size="25.0" dy="8.9" fill="#e93a2e">Clinical</text>
<text transform="translate(1443.2 1963.3) rotate(-79.8)" font-size="24.3" dy="8.6" fill="#2d7fc1">Polyamines</text>
<text transform="translate(1256.1 2304.4) rotate(-52.3)" font-size="24.8" dy="8.8" fill="#45a852">Biliary Salts</text>
<text transform="translate(655.8 2468.8) rotate(11)" font-size="25.1" dy="8.9" fill="#8b4b92">Fatty Acids</text>
<text transform="translate(120.5 1924.8) rotate(-92)" font-size="24.1" dy="8.6" fill="#f08232">Tryptophan</text>
<text transform="translate(192.5 1574.3) rotate(-64.1)" font-size="24.7" fill="#c4b434"><tspan x="0" dy="-2.6">Aminoacids &amp;</tspan><tspan x="0" dy="21.4">hormones</tspan></text>
<text transform="translate(412.5 1343.4) rotate(-36)" font-size="24.7" dy="8.8" fill="#d02d8d">Vitamines</text>
<text transform="translate(650.4 1252.1) rotate(-12)" font-size="25.1" dy="8.9" fill="#4b5aa3">Commensals</text>
</g>
<g font-size="23.6" fill="#1a1a1a">
<text x="1358" y="2327.3">Correlations</text>
<circle cx="1368" cy="2348.1" r="8.8" fill="#b0529a"/>
<text x="1382.4" y="2356.2">Positive</text>
<circle cx="1368" cy="2374.1" r="8.8" fill="#4fbdd1"/>
<text x="1382.4" y="2381.1">Negative</text>
<text x="1361.3" y="2416.9">Correlation cut-off</text>
<text x="1361.3" y="2441.3">r=0.7</text>
<text x="1608" y="2327.3">Expression</text>
<circle cx="1618.6" cy="2347.9" r="8.8" fill="#2e80c3"/>
<text x="1631.7" y="2355.7">0</text>
<circle cx="1618.6" cy="2374.1" r="8.8" fill="#f08a3c"/>
<text x="1631.7" y="2383">1</text>
</g>
<text x="-0.5" y="1264" font-size="37" font-weight="bold" fill="#1a1a1a">C</text>
</g>
</svg>
</body></html>
